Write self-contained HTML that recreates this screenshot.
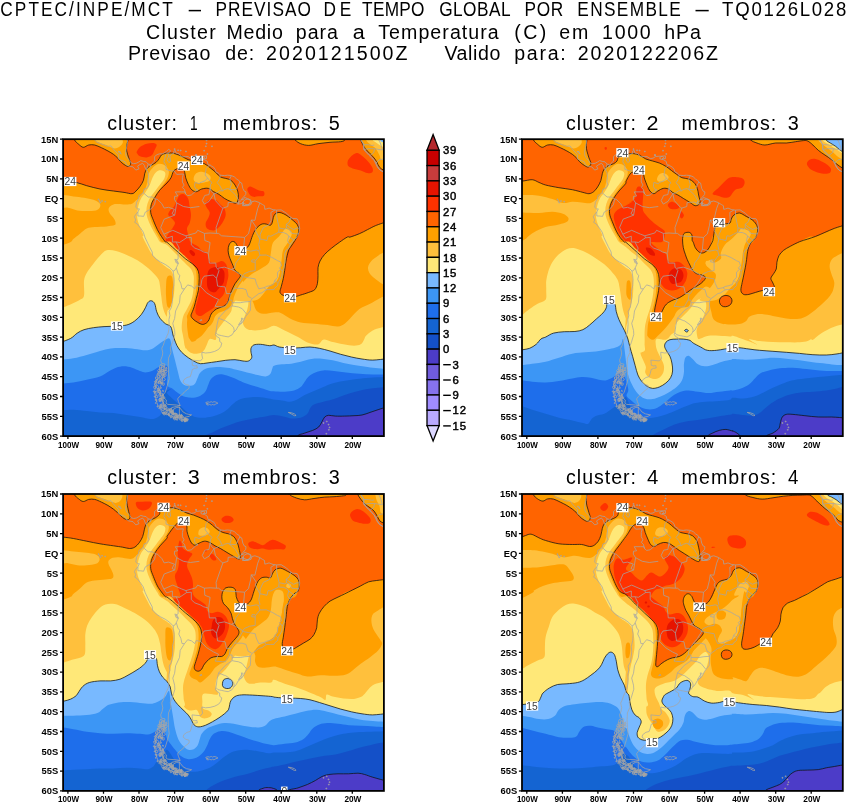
<!DOCTYPE html>
<html><head><meta charset="utf-8"><title>CPTEC ensemble cluster</title>
<style>html,body{margin:0;padding:0;background:#fff}svg{display:block;will-change:transform}text{font-family:"Liberation Sans",sans-serif;fill:#000}.t{font-size:19px}.ax{font-size:9.4px;font-weight:bold}.cb{font-size:11.3px;letter-spacing:0.8px;stroke:#000;stroke-width:0.45px}.cl{font-size:10.3px;fill:#3c3c3c}</style></head><body>
<svg width="847" height="803" viewBox="0 0 847 803">
<rect width="847" height="803" fill="#fff"/>
<text transform="translate(0.32 16.4) scale(0.880 1)" style="font-size:19.6px;letter-spacing:2.35px">CPTEC/INPE/MCT</text>
<path d="M188.7 10.6H201.0" stroke="#000" stroke-width="1.5"/>
<text transform="translate(215.59 16.4) scale(0.880 1)" style="font-size:19.6px;letter-spacing:1.15px">PREVISAO</text>
<text transform="translate(323.59 16.4) scale(0.880 1)" style="font-size:19.6px;letter-spacing:4.20px">DE</text>
<text transform="translate(362.11 16.4) scale(0.880 1)" style="font-size:19.6px;letter-spacing:0.31px">TEMPO</text>
<text transform="translate(439.13 16.4) scale(0.880 1)" style="font-size:19.6px;letter-spacing:0.55px">GLOBAL</text>
<text transform="translate(524.59 16.4) scale(0.880 1)" style="font-size:19.6px;letter-spacing:0.76px">POR</text>
<text transform="translate(577.29 16.4) scale(0.880 1)" style="font-size:19.6px;letter-spacing:1.55px">ENSEMBLE</text>
<path d="M695.5 10.6H708.7" stroke="#000" stroke-width="1.5"/>
<text transform="translate(722.08 16.4) scale(0.950 1)" style="font-size:19.6px;letter-spacing:1.82px">TQ0126L028</text>
<text transform="translate(146.00 38.7) scale(1.000 1)" style="font-size:19.6px;letter-spacing:1.29px">Cluster</text>
<text transform="translate(226.39 38.7) scale(1.000 1)" style="font-size:19.6px;letter-spacing:0.76px">Medio</text>
<text transform="translate(295.74 38.7) scale(1.000 1)" style="font-size:19.6px;letter-spacing:1.01px">para</text>
<text transform="translate(352.78 38.7) scale(1.100 1)" style="font-size:19.6px">a</text>
<text transform="translate(378.26 38.7) scale(1.000 1)" style="font-size:19.6px;letter-spacing:1.05px">Temperatura</text>
<text transform="translate(514.28 38.7) scale(1.000 1)" style="font-size:19.6px;letter-spacing:2.36px">(C)</text>
<text transform="translate(559.17 38.7) scale(1.000 1)" style="font-size:19.6px;letter-spacing:1.90px">em</text>
<text transform="translate(602.01 38.7) scale(1.000 1)" style="font-size:19.6px;letter-spacing:1.72px">1000</text>
<text transform="translate(664.14 38.7) scale(1.000 1)" style="font-size:19.6px;letter-spacing:0.99px">hPa</text>
<text transform="translate(127.89 60.0) scale(1.000 1)" style="font-size:19.6px;letter-spacing:0.88px">Previsao</text>
<text transform="translate(225.18 60.0) scale(1.000 1)" style="font-size:19.6px;letter-spacing:0.93px">de:</text>
<text transform="translate(266.01 60.0) scale(1.000 1)" style="font-size:19.6px;letter-spacing:2.06px">2020121500Z</text>
<text transform="translate(444.41 60.0) scale(1.000 1)" style="font-size:19.6px;letter-spacing:0.59px">Valido</text>
<text transform="translate(514.24 60.0) scale(1.000 1)" style="font-size:19.6px;letter-spacing:1.72px">para:</text>
<text transform="translate(577.71 60.0) scale(1.000 1)" style="font-size:19.6px;letter-spacing:1.94px">2020122206Z</text>
<defs><clipPath id="cp"><rect x="63.1" y="139.2" width="320.8" height="296.9"/></clipPath>
<path id="map" d="M148.2 164.1L150.4 164.5L150.0 167.3L152.2 163.3L154.6 161.0L154.6 156.6L157.1 154.6L159.6 153.8L162.8 153.8L166.4 151.5L168.5 149.3L170.6 150.7L169.6 152.3L167.8 153.1L168.9 155.4L167.1 159.8L168.9 162.6L170.6 161.4L169.9 156.6L171.4 154.2L173.8 153.5L173.8 151.1L175.3 150.3L176.0 153.1L178.8 153.5L180.6 155.8L181.3 157.0L185.2 156.6L188.1 156.6L191.3 158.6L194.1 158.2L196.6 156.6L200.1 156.2L203.3 156.2L200.9 157.4L201.2 159.0L204.8 159.8L207.3 161.4L208.0 164.5L210.8 165.7L213.7 167.3L215.4 169.7L215.8 171.7L219.0 173.6L220.4 175.2L224.3 175.6L227.5 175.2L231.4 175.6L234.3 176.8L236.8 179.2L239.3 180.8L240.0 182.3L241.7 183.1L242.8 188.3L244.2 191.1L246.0 191.9L245.7 194.6L242.8 197.8L241.4 199.4L243.2 199.8L244.6 197.4L247.4 198.6L250.6 199.8L251.3 202.1L249.2 204.5L243.9 205.7L242.8 202.1L242.5 205.7L248.1 205.7L251.0 204.5L252.0 201.7L254.9 201.0L259.2 202.5L262.4 204.5L264.5 205.7L264.8 209.3L266.6 208.9L269.1 208.1L273.0 209.7L276.6 210.1L281.2 209.9L285.1 212.4L286.5 213.2L290.1 216.8L292.6 218.4L297.2 218.8L298.6 221.5L299.3 225.9L299.7 228.3L299.3 231.4L297.9 235.4L295.4 239.0L292.2 241.7L290.1 244.9L288.3 248.9L286.2 250.0L284.8 253.2L284.8 258.0L285.1 261.9L284.0 267.9L282.3 271.4L281.9 276.2L280.1 279.3L278.0 282.9L277.6 285.7L274.4 288.4L274.1 289.6L270.2 289.6L267.0 289.6L264.5 290.8L262.0 292.8L258.8 293.6L256.3 295.6L253.1 297.9L251.0 299.9L250.6 302.7L250.6 306.3L250.3 310.6L248.1 313.4L245.7 316.5L243.2 321.3L240.3 324.5L238.2 326.1L236.1 330.0L233.6 332.4L232.1 334.8L228.2 336.9L224.7 336.3L221.5 335.6L217.9 334.8L216.1 332.8L215.4 334.4L216.5 336.3L219.7 338.3L219.7 341.5L221.8 343.1L220.8 346.6L218.6 349.4L214.7 351.4L210.1 352.6L205.5 353.0L201.9 352.2L201.9 354.9L202.6 358.5L200.5 360.9L195.9 360.5L192.0 360.1L192.3 363.3L192.3 365.2L194.8 366.0L196.9 365.6L197.3 368.0L194.5 368.4L192.3 369.6L191.3 373.6L190.2 376.7L187.0 377.5L183.8 379.9L183.1 382.3L185.9 384.6L189.1 385.4L189.1 388.2L184.5 391.8L182.7 394.1L179.5 396.5L177.7 398.9L178.5 401.7L180.2 405.6L176.7 406.4L171.7 407.6L171.0 411.2L167.4 410.8L162.8 408.4L158.2 406.0L156.8 402.5L155.7 398.5L155.0 394.5L154.6 390.6L156.1 387.0L154.6 383.5L157.1 380.7L159.3 376.7L160.3 372.8L162.8 371.6L164.6 366.8L165.0 364.1L161.4 363.3L160.7 360.1L162.1 356.5L162.8 353.0L161.8 348.2L163.2 345.4L164.6 341.1L166.4 337.1L168.2 333.2L168.9 329.2L169.2 324.5L168.9 319.7L169.9 315.4L169.2 311.4L171.4 307.4L172.4 301.5L172.8 296.8L172.4 291.6L173.8 285.7L174.2 279.7L173.5 273.8L173.1 271.0L169.6 267.5L165.7 264.7L160.3 261.9L156.1 259.1L152.5 255.2L152.2 252.0L149.3 246.5L147.2 242.1L145.0 237.4L143.3 232.2L140.4 227.9L137.2 223.9L134.7 222.3L135.8 220.0L134.4 216.8L135.8 214.4L137.9 212.0L139.4 208.9L137.6 208.9L135.8 207.3L136.5 202.5L137.6 200.2L138.6 198.6L139.0 195.4L140.8 194.6L143.3 192.6L144.0 189.1L146.8 188.3L149.0 184.7L147.9 182.0L148.6 176.4L147.9 172.1L146.5 170.1L148.2 164.1ZM179.5 407.2L180.6 408.8L183.1 412.0L186.6 413.9L191.6 414.9L189.1 416.3L184.1 417.5L179.9 418.3L176.0 417.5L171.0 416.3L167.4 414.3L169.9 412.4L173.1 412.0L173.1 409.6L176.3 407.6L179.5 407.2ZM205.8 402.5L208.0 401.9L209.7 402.3L211.2 401.7L212.6 402.3L214.0 401.7L216.1 402.1L217.9 403.2L215.8 404.0L213.7 405.2L212.6 404.0L211.5 405.2L209.4 404.4L208.0 405.2L206.5 404.4L208.3 403.6L206.2 403.6L205.8 402.5ZM288.3 412.4L291.2 412.7L294.4 413.9L296.1 415.5L294.4 415.7L291.2 413.9L288.3 412.4ZM203.3 156.2L206.5 155.8L206.5 158.6L203.3 158.8L204.8 157.4L203.3 156.2ZM127.6 137.2L127.3 139.6L127.6 142.4L126.6 147.1L125.8 151.1L125.8 155.0L126.9 157.4L129.8 160.6L131.2 163.0L133.7 163.7L136.2 163.3L139.0 161.8L140.8 160.6L143.3 161.4L146.1 161.8L148.2 164.1M146.5 170.1L144.7 166.9L144.3 165.3L142.6 163.3L140.1 164.5L137.6 166.1L139.0 168.9L135.8 170.1L133.0 166.9L128.7 166.1L126.2 164.5L125.8 162.2L122.6 160.6L120.9 160.2L118.7 159.0L118.7 155.0L115.9 151.9L113.0 148.7L112.0 147.1L110.9 145.9L107.7 146.3L104.2 145.1L100.6 143.6L97.1 142.4L95.3 140.8L92.8 137.2M361.9 137.2L361.2 140.4L363.7 144.0L364.0 149.1L367.2 152.7L370.1 155.4L373.6 159.4L376.1 163.0L377.2 165.7L379.3 169.3L382.9 171.7L386.1 174.8M167.8 152.7L165.7 154.6L163.9 161.8L166.0 165.3L166.0 169.3L171.0 170.9L174.2 170.9L176.7 174.4L183.4 174.0L182.4 177.6L182.4 182.0L184.1 185.1L182.4 187.5L184.5 189.5L185.6 193.8M185.6 193.8L184.9 191.9L181.7 191.9L175.3 191.9L177.7 196.0L174.6 196.4L174.4 199.4L176.7 202.9L174.7 215.2M174.7 215.2L172.1 213.6L174.4 209.3L168.5 207.3L164.2 208.1L161.8 203.7L157.5 199.4L155.7 199.0L152.2 197.0L148.2 197.0L143.3 192.8M155.7 199.0L154.6 204.5L151.1 208.9L145.4 212.0L143.6 216.4L140.4 216.0L137.9 216.0L137.9 212.0M174.7 215.2L164.2 219.2L160.7 227.5L163.9 234.2L166.7 238.2L172.4 236.2L172.4 242.1L176.0 241.9M176.0 241.9L179.2 248.1L178.1 252.4L178.1 259.1L176.0 260.3L178.1 263.9L176.3 267.9L174.9 270.2L173.1 271.2M176.0 241.9L179.5 242.5L186.6 237.8L191.3 237.4L191.3 244.9L194.8 248.1L200.1 250.0L203.7 252.0L208.3 253.2L209.4 263.1L215.8 263.1L216.1 267.1L219.0 270.6L216.9 277.0L216.5 278.3M216.5 278.3L213.3 275.0L204.1 276.2L201.9 279.7L200.7 286.7L196.2 285.7L194.8 288.8L191.6 286.1L187.7 284.9L184.5 288.8L182.0 288.8L180.9 283.7L178.8 279.3L179.9 275.4L178.1 273.8L176.3 267.9M216.5 278.3L217.6 286.1L225.0 286.9L226.5 293.6L230.4 293.6L229.3 299.9M200.7 286.7L206.5 292.8L213.7 297.2L218.6 299.5L215.1 306.3L222.9 307.0L225.4 306.7L229.3 299.9M229.3 299.9L232.1 300.3L232.1 305.9L225.4 310.6L218.6 318.1M218.6 318.1L224.3 320.5L225.7 320.9L231.4 324.9L233.6 327.6L234.3 330.4L233.6 332.2M218.6 318.1L216.9 325.3L216.5 329.2L215.8 332.8M184.5 288.8L180.2 295.6L179.5 302.7L175.6 311.0L174.6 318.5L172.8 323.3L174.6 330.4L174.9 334.4L172.4 342.7L170.3 347.8L171.0 352.6L168.5 358.1L168.2 365.2L168.5 372.8L169.2 378.7L167.4 385.4L165.3 392.2L162.1 396.1L166.4 400.1L166.0 403.2L167.8 404.4L176.3 405.0L180.2 405.6M179.4 407.0L179.4 415.9M210.1 164.5L206.2 168.5L205.1 175.0L207.6 178.0L209.7 180.8L210.8 181.2L211.9 182.9L210.6 184.3L210.1 187.9L211.3 191.5L214.0 193.8L217.2 192.6L219.7 190.7L222.5 190.9L224.3 189.5L227.9 188.5L229.7 189.5L232.1 189.5L235.2 189.9L236.6 188.7L239.8 182.2M207.6 178.0L205.1 180.8L200.1 182.7L199.4 183.9L195.0 182.3L194.5 186.3L195.7 188.9L198.0 189.9L195.9 190.9L191.3 195.0L187.7 195.6L185.6 193.8M220.2 175.0L219.7 178.8L217.2 182.7L219.7 185.5L222.5 190.9M231.4 175.8L229.8 178.8L231.4 184.3L229.7 189.5M176.7 202.9L183.4 206.5L190.5 207.7L199.4 206.5M210.1 187.9L209.0 194.6L204.8 195.4L202.3 200.6L204.4 204.1L209.0 201.4L214.0 193.8M214.0 193.8L215.4 200.6L221.5 207.3L222.9 208.1L216.1 227.5L216.5 233.4M163.9 234.2L172.8 230.3L181.7 234.2L185.9 235.8L186.6 237.8M185.9 235.8L195.9 233.0L197.7 230.3L204.4 233.4L210.1 233.0L216.5 233.4L218.6 233.4L221.5 235.8L244.6 237.4M204.4 233.4L204.8 240.5L210.1 242.5L208.7 252.8M222.9 208.1L227.9 206.5L228.2 202.5L235.0 202.1L238.5 203.3L238.9 200.6L235.3 194.6L229.7 189.5M244.6 237.4L248.5 233.8L250.6 225.1L251.3 220.0L254.9 220.4L257.7 208.5L259.9 202.9M251.3 220.0L256.3 227.5L255.2 230.3L259.9 239.0L258.8 244.5L259.9 249.6L258.8 250.8M244.6 237.4L243.5 249.3L244.9 249.6L250.6 251.2L256.3 250.0L258.8 250.8M259.9 239.0L262.4 239.4L267.0 240.5L268.0 235.8L270.9 236.2L274.8 234.2L278.7 232.2L279.1 227.9L276.6 216.4L276.6 210.1M259.9 239.0L260.2 234.2L263.4 227.5L268.8 225.1L271.2 220.4L270.9 212.4L274.8 210.1M279.1 227.9L284.8 229.1L286.5 227.9L286.2 224.3L289.0 222.3L291.0 217.6M286.2 224.3L290.1 227.5L293.6 229.5L297.2 227.9L299.5 228.3M286.5 227.9L289.0 229.1L291.9 233.4L295.4 233.8L298.4 233.8M278.7 232.2L283.7 232.6L287.2 234.2L288.7 236.2L294.0 240.1M288.7 236.2L287.6 240.9L289.0 243.7L290.6 243.9M258.8 250.8L259.9 255.2L266.3 255.0L272.3 257.6L277.6 260.7L280.5 261.9L281.6 265.9L279.4 267.9L282.4 271.2M280.5 269.4L277.6 272.2L277.6 277.4L274.8 280.5L277.6 282.7M274.8 280.5L273.4 284.5L269.8 285.7L266.3 286.5L264.1 287.7L266.3 289.6M264.1 287.7L258.8 288.8L256.3 283.3L255.2 278.9L248.5 277.8L242.5 276.6L242.1 277.8M259.9 255.2L255.2 261.1L255.2 262.3L251.7 261.9L252.0 259.9L255.2 259.9M255.2 262.3L255.2 270.6L249.6 271.4L244.2 273.8L242.5 276.6M243.5 249.3L239.6 258.0L235.7 263.1L234.6 268.3L232.5 268.6L232.1 269.8L235.3 271.4L242.1 275.4L242.5 276.6M232.1 269.8L227.9 268.3L224.3 267.1L217.9 268.3M242.1 277.8L238.5 283.7L234.6 288.4L231.4 293.6L230.4 293.6M234.6 288.4L242.1 288.4L246.0 289.6L248.1 296.4L251.7 298.3M232.1 302.7L240.3 302.7L244.9 301.9L250.6 301.5M232.1 305.9L238.5 307.0L242.1 308.6L246.7 314.2M177.0 260.3L174.9 259.1L176.0 262.7L178.5 263.5L177.0 260.3M241.4 318.1L242.1 322.5L238.5 324.9L241.0 320.9L243.2 318.5L241.4 318.1M201.2 319.3L199.8 320.9L201.9 320.5L201.2 319.3M206.1 140.0h0.9v0.8h-0.9zM206.1 143.2h0.9v0.8h-0.9zM205.4 145.9h0.9v0.8h-0.9zM203.7 150.3h0.9v0.8h-0.9zM211.5 145.9h0.9v0.8h-0.9zM206.9 153.6h0.9v0.8h-0.9zM174.2 148.7h0.9v0.8h-0.9zM177.7 149.9h0.9v0.8h-0.9zM180.2 150.1h0.9v0.8h-0.9zM185.5 151.1h0.9v0.8h-0.9zM195.5 154.6h0.9v0.8h-0.9zM195.8 154.8h0.9v0.8h-0.9zM99.1 200.6h0.9v0.8h-0.9zM101.6 200.6h0.9v0.8h-0.9zM98.1 199.0h0.9v0.8h-0.9zM104.8 201.3h0.9v0.8h-0.9zM99.9 202.1h0.9v0.8h-0.9zM329.1 427.0h0.9v0.8h-0.9zM328.1 424.2h0.9v0.8h-0.9zM326.3 421.1h0.9v0.8h-0.9zM328.4 429.4h0.9v0.8h-0.9zM325.9 433.3h0.9v0.8h-0.9zM323.1 422.6h0.9v0.8h-0.9zM362.6 139.6L361.2 140.4L363.0 143.2L363.7 145.9L363.7 149.5L365.8 151.9L368.7 155.0L371.5 157.8L374.3 160.6L376.1 164.5L377.5 167.3L380.0 170.1L382.9 171.7L385.7 174.0M363.7 144.7L368.3 144.7L371.9 145.5L374.3 145.1M364.0 149.5L368.3 148.7L374.7 148.7L379.0 149.5L382.5 149.9M370.1 155.4L373.6 152.7L374.7 148.7M376.1 163.0L379.0 159.8L383.6 159.0L385.4 161.8L386.8 165.3L382.9 171.3M364.7 137.2L368.3 139.6L373.6 138.0L379.0 140.0L380.7 144.0L382.5 149.9M242.5 199.0L240.3 201.0L237.5 204.1L241.4 203.7L242.8 202.1M246.0 199.4L243.5 201.0L243.2 203.3L247.1 204.9L249.9 203.7L250.6 200.6L248.1 199.0L246.0 199.4M118.0 151.5L121.2 154.2L120.2 151.5L118.0 151.5M161.4 364.1L163.9 367.2L164.2 372.8L162.5 377.9L161.8 383.1L159.6 388.6L160.3 394.5L161.8 399.7L163.9 404.4L167.4 407.6L170.3 410.8M160.7 364.3L162.1 366.0L161.4 370.0L159.3 370.0L159.6 366.4L160.7 364.3M166.4 367.0L167.0 369.2L165.1 368.4ZM164.6 366.6L163.9 367.4L163.7 366.5ZM164.6 369.8L166.2 369.7L165.7 371.0ZM161.9 369.5L163.4 369.7L163.4 371.3L162.2 371.6L161.1 370.7ZM161.3 372.1L160.1 371.6L160.9 370.4ZM161.4 372.3L160.5 370.4L162.8 369.8L163.8 371.5ZM163.8 372.7L163.3 371.4L163.7 370.5L164.7 370.3L164.8 371.8ZM161.3 367.6L161.2 366.9L161.9 366.5L162.4 367.3L161.8 367.7ZM163.7 366.4L163.3 365.9L163.8 365.3L164.3 366.0ZM164.7 372.5L164.7 370.8L166.6 370.0L167.1 371.5L166.3 373.2ZM161.6 367.6L160.9 369.3L159.5 368.0ZM158.7 371.7L157.7 370.4L158.7 369.4L159.7 369.7L159.7 371.3ZM160.1 370.9L161.0 371.8L159.8 372.4ZM164.0 374.6L164.5 376.9L162.9 377.2L162.5 375.9ZM160.6 373.2L162.2 374.7L160.1 376.2L158.6 375.5L157.9 373.4ZM159.2 371.3L159.4 372.7L157.6 372.0ZM161.8 379.4L163.2 377.1L164.5 377.7L165.4 379.9L163.7 381.0ZM158.1 375.8L157.2 376.5L156.8 375.6L157.3 374.8ZM164.1 374.7L162.6 373.9L164.2 372.7L165.7 374.0ZM160.7 379.4L160.1 381.2L158.9 380.0ZM165.3 373.6L166.2 374.9L165.8 376.3L164.0 376.1L163.5 374.4ZM159.3 378.2L160.0 376.6L161.9 377.4L160.7 379.1ZM156.3 380.1L156.6 379.1L157.3 379.8ZM157.5 379.5L155.6 379.2L155.6 377.0L157.8 377.0ZM161.2 374.8L161.6 373.6L163.1 373.8L162.6 375.5ZM158.0 374.1L157.7 375.0L157.1 374.3L157.5 373.4ZM160.7 387.5L161.5 387.5L161.2 388.5L160.6 388.7L160.4 387.9ZM157.2 381.0L156.2 381.7L154.9 381.1L156.1 380.2ZM155.0 382.8L154.2 381.7L155.6 381.1L156.9 382.2ZM158.5 380.9L161.3 382.4L158.4 383.8ZM161.2 383.4L161.4 382.7L162.5 382.7L162.0 383.5ZM153.6 386.7L155.5 386.3L155.6 387.9L154.2 388.7ZM162.8 385.4L162.1 383.2L164.2 382.9L164.2 385.1ZM160.1 382.2L159.8 381.3L160.7 381.7ZM158.7 388.5L157.1 388.7L155.8 386.6L157.6 385.3L158.6 386.7ZM156.6 385.4L154.7 385.8L154.5 384.1L156.2 383.2ZM161.4 382.2L162.4 383.6L160.2 383.7ZM161.7 383.3L159.7 382.0L161.3 380.7L162.4 381.7ZM157.9 381.8L159.0 381.5L158.8 382.9L157.7 383.2ZM158.4 392.6L157.6 390.9L159.3 389.3L160.7 391.8ZM154.8 397.2L154.0 396.7L154.7 395.9ZM160.4 395.9L159.7 393.6L161.9 393.0L162.8 394.4L161.8 395.8ZM159.0 390.2L161.0 391.3L160.0 393.4L158.0 392.0ZM162.6 390.3L163.4 390.6L163.5 391.5L162.5 391.2ZM159.5 393.1L161.2 394.7L160.0 396.4L158.7 395.5ZM158.6 391.1L157.8 390.0L158.7 388.9L159.3 390.0ZM157.0 390.2L157.9 388.1L159.5 389.3L158.8 390.9ZM155.4 391.4L156.1 392.5L154.8 392.4ZM154.5 391.8L153.4 392.0L153.3 391.1L154.3 391.1ZM157.3 392.6L156.5 394.5L154.2 393.3L155.0 391.9L156.4 390.9ZM158.0 397.1L156.4 398.1L155.7 396.8L155.8 395.3L157.6 395.8ZM162.2 395.5L162.3 394.3L163.3 394.1L163.3 395.7ZM162.1 399.1L163.0 399.0L162.9 399.9L162.0 400.6L161.7 399.5ZM161.4 399.2L160.3 400.5L159.2 399.1L160.3 397.8ZM155.1 399.6L156.0 399.6L156.4 400.1L155.8 400.4L155.1 400.3ZM163.1 399.6L164.2 401.0L163.5 402.3L162.6 401.2ZM161.3 399.7L160.3 400.2L160.1 398.6L161.3 398.4ZM156.8 400.6L156.2 400.5L156.1 399.7L156.8 399.4L157.2 400.0ZM157.0 400.6L157.5 401.1L157.0 401.6L156.3 401.2ZM165.2 397.7L162.8 399.0L163.6 396.4ZM162.1 400.1L159.7 401.2L158.5 399.9L159.9 397.9ZM160.0 401.8L158.9 401.2L160.0 399.9L161.4 401.2ZM163.2 397.4L161.8 397.0L161.8 395.8L163.0 395.0L163.8 396.2ZM161.7 398.7L160.7 398.4L161.3 397.5L162.4 397.5L162.3 398.4ZM156.0 402.6L156.2 403.4L155.6 403.4L155.0 403.1L155.5 402.6ZM166.4 406.1L164.4 405.6L165.4 404.2ZM161.8 404.8L162.2 406.5L160.8 406.7L159.9 405.4ZM159.5 407.0L161.3 406.9L160.8 408.6L158.7 408.5ZM163.5 405.6L165.2 405.8L164.6 407.0L163.5 407.1ZM159.4 407.1L160.5 406.9L160.2 408.0ZM164.2 404.6L161.7 404.0L163.4 402.1ZM165.1 409.6L164.4 409.9L163.8 409.3L164.3 408.9L165.0 408.9ZM158.0 407.1L157.0 406.8L157.1 405.9L157.9 405.8ZM160.0 404.4L161.5 404.5L161.3 405.9L160.0 406.2ZM163.9 405.3L163.9 406.6L163.1 407.9L161.8 406.9L162.5 405.6ZM167.0 408.6L164.2 408.8L165.3 406.2ZM160.9 410.5L160.3 409.6L160.9 408.7L161.7 409.2L161.7 410.0ZM164.7 409.6L163.9 409.1L164.0 408.4L164.9 407.9L165.6 408.8ZM171.5 409.9L170.7 411.7L169.5 410.4L170.1 408.8ZM166.3 410.9L166.5 409.4L167.4 409.2L167.6 410.8ZM168.8 412.9L170.1 413.8L169.1 415.2L168.1 414.1ZM169.8 409.5L169.4 408.8L170.1 408.5L170.6 409.1ZM164.2 412.7L162.4 412.9L161.7 411.7L162.3 410.3L163.9 410.7ZM164.8 415.0L163.6 414.8L163.8 412.5L165.2 413.4ZM169.7 409.3L170.2 410.2L169.7 411.4L168.3 410.5L168.4 409.3ZM166.4 412.9L165.6 414.4L164.1 413.0L165.5 412.3ZM166.2 415.0L165.9 412.8L167.0 411.4L168.4 413.5ZM162.7 413.9L162.2 412.8L162.9 412.0L163.7 412.6L163.6 413.7ZM165.8 411.5L166.8 413.0L165.3 413.6L164.2 412.5ZM168.2 414.1L169.0 414.5L168.6 415.1L167.7 414.9ZM172.1 411.0L170.8 412.3L169.1 410.2L170.6 408.6L172.3 409.7ZM168.9 416.2L168.3 415.3L169.7 414.7L170.0 416.0ZM174.5 413.7L173.2 414.5L171.6 414.3L171.8 412.4L173.6 412.3ZM174.8 413.8L172.4 414.7L172.6 412.6ZM176.1 413.3L176.4 415.5L174.4 416.1L173.0 413.9ZM171.3 412.2L171.3 412.9L170.6 413.2L170.1 412.6L170.4 412.0ZM175.6 414.9L175.6 412.9L177.8 414.3ZM170.5 417.9L170.2 416.1L172.0 415.2L172.4 417.3ZM175.3 418.5L173.2 418.5L174.2 416.2L175.4 417.1ZM174.4 420.1L173.4 418.5L173.9 417.4L175.9 417.2L175.6 419.0ZM173.5 411.2L173.2 412.0L172.1 411.8L172.1 410.6L173.3 410.3ZM173.3 413.8L174.0 412.9L174.5 414.1ZM175.4 414.0L174.3 415.2L172.9 414.3L173.6 412.9L174.6 413.2ZM171.0 412.2L172.1 410.7L173.4 412.5L171.8 413.8ZM176.4 420.1L176.5 419.3L177.5 419.4L177.6 420.2ZM177.3 416.3L178.8 415.2L179.9 417.8L177.2 418.1ZM175.0 419.4L175.5 418.8L176.3 419.2L175.8 419.9ZM176.7 417.8L176.6 417.2L177.2 416.9L177.6 417.1L177.5 417.8ZM176.8 415.8L178.7 417.0L176.7 418.2ZM180.1 415.4L182.1 416.2L180.1 418.1ZM178.2 416.0L177.8 417.9L175.2 417.6L175.6 415.1ZM181.0 414.9L182.3 417.2L180.1 417.2ZM179.0 414.3L180.4 414.7L179.5 416.0L178.0 415.4ZM177.7 418.0L176.7 416.8L178.1 415.7ZM182.3 416.4L180.8 417.5L180.0 415.9L181.3 414.7ZM177.3 415.4L177.4 417.4L176.0 416.6ZM181.7 420.2L179.1 419.6L180.3 417.9L182.6 418.7ZM185.3 419.0L184.3 418.3L185.5 417.8ZM185.5 420.6L183.5 419.0L185.9 418.7ZM186.7 419.5L187.2 421.5L185.3 420.9L185.4 419.3ZM185.5 419.4L185.6 421.3L184.1 420.5ZM183.7 420.8L184.7 419.6L185.9 420.5L185.0 422.2ZM182.3 421.3L181.6 420.9L182.2 420.4ZM185.6 421.2L184.8 418.1L188.2 419.4ZM180.8 417.5L181.5 414.3L183.6 416.8ZM188.0 420.5L186.2 420.4L186.5 418.9L188.2 418.8ZM185.5 418.4L187.1 418.8L185.9 419.6ZM181.2 421.1L181.1 419.0L183.0 419.6L183.0 421.0ZM184.6 422.1L183.3 419.2L187.1 419.4ZM183.6 419.6L185.7 418.9L185.1 420.8Z" fill="none" stroke="#a6a6a6" stroke-width="0.75" stroke-linejoin="round"/></defs>
<g transform="translate(0.0 0.0)">
<text transform="translate(107.17 129.6) scale(1.000 1)" style="font-size:19.6px;letter-spacing:0.96px">cluster:</text>
<text transform="translate(189.95 129.6) scale(0.700 1)" style="font-size:19.6px">1</text>
<text transform="translate(222.70 129.6) scale(1.000 1)" style="font-size:19.6px;letter-spacing:1.07px">membros:</text>
<text transform="translate(328.81 129.6) scale(1.012 1)" style="font-size:19.6px">5</text>
<g clip-path="url(#cp)">
<rect x="55" y="130" width="340" height="320" fill="#FFE878"/>
<path d="M55.0 130.0 C111.2 100.3 335.8 97.2 392.0 130.0 C448.2 162.8 392.8 293.9 392.0 326.6 C391.2 359.4 389.3 326.5 387.4 326.6 C385.5 326.8 383.2 327.1 380.7 327.7 C378.3 328.3 375.2 329.0 372.7 330.4 C370.3 331.7 367.5 334.2 366.0 335.7 C364.6 337.3 364.9 338.2 364.0 339.7 C363.2 341.1 362.4 343.3 360.7 344.3 C359.0 345.3 356.9 345.7 354.0 345.7 C351.2 345.7 347.2 345.0 343.4 344.3 C339.6 343.7 334.7 342.4 331.4 341.7 C328.0 340.9 325.6 339.2 323.4 339.7 C321.1 340.1 320.7 343.9 318.0 344.4 C315.4 344.8 310.7 343.6 307.4 342.4 C304.0 341.2 301.8 339.1 298.0 337.1 C294.2 335.1 288.7 332.3 284.7 330.4 C280.7 328.5 277.2 325.9 274.0 325.7 C270.8 325.5 268.9 328.3 265.7 329.0 C262.6 329.8 258.2 330.4 255.0 330.4 C251.9 330.4 249.0 330.2 247.0 329.0 C245.0 327.9 243.5 325.7 243.0 323.7 C242.6 321.7 243.7 319.3 244.4 317.0 C245.0 314.8 246.4 312.8 247.0 310.4 C247.7 307.9 248.4 304.8 248.4 302.4 C248.4 299.9 247.9 296.9 247.0 295.7 C246.2 294.5 244.4 294.8 243.0 295.0 C241.7 295.3 240.4 296.0 239.0 297.0 C237.7 298.0 236.1 299.5 235.0 301.0 C233.9 302.6 233.0 304.6 232.4 306.4 C231.7 308.1 231.9 309.9 231.0 311.7 C230.1 313.5 228.4 315.3 227.0 317.0 C225.7 318.8 224.4 320.6 223.0 322.4 C221.7 324.2 220.1 325.9 219.0 327.7 C217.9 329.5 216.9 331.1 216.4 333.1 C215.8 335.1 216.8 338.7 215.7 339.7 C214.6 340.7 211.1 338.2 209.7 339.0 C208.2 339.8 207.9 342.6 207.0 344.3 C206.1 346.1 205.5 348.2 204.4 349.7 C203.2 351.1 202.1 352.3 200.4 353.0 C198.6 353.7 195.7 354.0 193.7 353.7 C191.7 353.3 189.8 352.3 188.3 351.0 C186.9 349.7 185.7 347.7 185.0 345.7 C184.3 343.7 185.8 341.8 184.3 339.0 C182.9 336.2 178.8 332.3 176.3 329.0 C173.8 325.8 171.2 322.2 169.4 319.7 C167.6 317.3 166.5 316.6 165.4 314.4 C164.3 312.2 163.4 309.3 162.7 306.4 C162.1 303.5 161.8 300.4 161.4 297.0 C160.9 293.7 160.5 289.3 160.1 286.4 C159.6 283.5 159.6 281.7 158.7 279.7 C157.8 277.7 156.7 276.5 154.7 274.4 C152.7 272.2 149.6 269.4 146.7 267.0 C143.8 264.7 140.7 262.3 137.4 260.3 C134.0 258.3 130.3 256.6 126.7 255.0 C123.1 253.5 119.4 251.8 116.0 251.0 C112.7 250.2 109.4 249.6 106.7 250.3 C104.0 251.1 102.2 253.5 100.0 255.7 C97.8 257.9 95.6 260.8 93.4 263.7 C91.1 266.6 88.2 270.1 86.7 273.0 C85.1 275.9 84.5 277.2 84.0 281.0 C83.6 284.8 84.7 292.6 84.0 295.7 C83.3 298.8 82.0 298.4 80.0 299.7 C78.0 301.0 74.7 302.5 72.0 303.7 C69.3 304.9 66.0 306.3 64.0 307.0 C62.0 307.8 61.5 308.1 60.0 308.4 C58.5 308.6 55.8 338.1 55.0 308.4 C54.2 278.6 -1.2 159.7 55.0 130.0 Z" fill="#FFC03C"/>
<path d="M55.0 130.0 C111.2 110.7 335.8 102.5 392.0 130.0 C448.2 157.5 392.8 267.5 392.0 295.0 C391.2 322.5 389.5 294.5 387.4 295.0 C385.3 295.6 382.3 296.9 379.4 298.4 C376.5 299.8 373.4 301.9 370.1 303.7 C366.7 305.5 362.5 306.8 359.4 309.0 C356.3 311.3 353.8 314.6 351.4 317.0 C348.9 319.5 346.9 322.2 344.7 323.7 C342.5 325.3 340.9 326.2 338.0 326.4 C335.1 326.6 331.4 325.5 327.4 325.0 C323.4 324.6 318.5 324.2 314.0 323.7 C309.6 323.3 304.7 323.3 300.7 322.4 C296.7 321.5 293.3 319.9 290.0 318.4 C286.7 316.8 283.4 314.0 280.7 313.0 C278.0 312.0 276.7 312.3 273.7 312.4 C270.8 312.5 265.9 314.0 263.1 313.7 C260.2 313.4 257.9 312.0 256.4 310.4 C254.8 308.7 254.4 305.3 253.7 303.7 C253.0 302.1 253.5 302.8 252.4 301.0 C251.3 299.3 248.5 296.1 247.0 293.0 C245.6 289.9 244.9 284.8 243.7 282.4 C242.5 279.9 241.4 277.5 239.7 278.4 C238.0 279.2 236.0 283.9 233.7 287.7 C231.4 291.5 228.4 297.0 225.7 301.0 C223.0 305.0 220.1 308.1 217.7 311.7 C215.2 315.3 212.8 319.5 211.0 322.4 C209.2 325.3 208.6 326.8 207.0 329.0 C205.5 331.3 203.4 334.1 201.7 335.7 C200.0 337.4 198.1 338.1 197.0 339.0 C195.9 339.9 195.9 340.6 195.0 341.0 C194.1 341.4 192.6 342.0 191.7 341.7 C190.8 341.3 190.2 340.0 189.7 339.0 C189.1 338.0 188.8 338.5 188.3 335.7 C187.9 332.9 186.8 326.8 187.0 322.4 C187.2 317.9 188.6 313.9 189.7 309.0 C190.8 304.1 193.0 298.4 193.7 293.0 C194.3 287.7 194.8 281.9 193.7 277.0 C192.6 272.1 190.1 268.1 187.0 263.7 C183.9 259.2 179.3 254.0 175.0 250.3 C170.7 246.7 165.0 245.4 161.4 241.7 C157.8 238.1 155.6 233.7 153.4 228.4 C151.2 223.0 150.3 214.6 148.0 209.7 C145.8 204.8 142.7 200.0 140.0 199.0 C137.4 198.0 134.7 202.8 132.0 203.7 C129.4 204.6 127.1 204.3 124.0 204.4 C120.9 204.5 115.9 203.7 113.4 204.4 C110.8 205.0 109.2 206.8 108.7 208.4 C108.1 209.9 109.2 212.2 110.0 213.7 C110.8 215.3 112.5 216.4 113.4 217.7 C114.3 219.0 115.1 220.5 115.4 221.7 C115.6 222.9 116.1 224.3 114.7 225.0 C113.3 225.8 110.0 226.0 106.7 226.4 C103.4 226.7 98.0 226.7 94.7 227.0 C91.4 227.4 89.1 227.3 86.7 228.4 C84.2 229.5 82.2 231.9 80.0 233.7 C77.8 235.5 74.9 237.7 73.3 239.1 C71.8 240.4 72.9 240.9 70.7 242.0 C68.4 243.1 62.6 245.1 60.0 245.7 C57.4 246.3 55.8 265.0 55.0 245.7 C54.2 226.4 -1.2 149.3 55.0 130.0 Z" fill="#FFA000"/>
<path d="M60.0 195.7 C62.2 193.9 69.3 196.0 73.3 196.4 C77.3 196.7 80.7 197.1 84.0 197.7 C87.3 198.3 90.8 198.8 93.4 199.7 C95.9 200.6 98.2 201.8 99.4 203.0 C100.5 204.3 100.6 205.8 100.0 207.0 C99.5 208.3 98.2 209.7 96.0 210.4 C93.8 211.0 89.8 211.0 86.7 211.0 C83.6 211.0 80.5 210.9 77.3 210.4 C74.2 209.8 70.9 208.3 68.0 207.7 C65.1 207.1 61.3 209.0 60.0 207.0 C58.7 205.0 57.8 197.5 60.0 195.7 Z" fill="#FFC03C"/>
<path d="M388.7 250.3 C387.9 244.7 385.8 251.5 384.1 252.3 C382.3 253.2 380.2 254.2 378.1 255.7 C375.9 257.1 373.1 259.1 371.4 261.0 C369.7 262.9 368.4 265.0 368.1 267.0 C367.7 269.0 368.2 271.0 369.4 273.0 C370.6 275.0 372.9 277.0 375.4 279.0 C377.8 281.0 381.8 283.8 384.1 285.0 C386.3 286.2 387.9 292.1 388.7 286.4 C389.5 280.6 389.5 256.0 388.7 250.3 Z" fill="#FFC03C"/>
<path d="M285.8 228.8 C287.3 228.9 291.3 230.8 291.8 232.8 C292.3 234.8 290.0 238.1 288.8 240.7 C287.7 243.4 285.7 245.7 284.8 248.7 C284.0 251.7 284.5 255.0 283.8 258.7 C283.2 262.4 282.0 267.0 280.8 270.7 C279.7 274.3 278.8 278.0 276.9 280.7 C274.9 283.3 271.2 284.3 268.9 286.6 C266.5 289.0 265.2 292.3 262.9 294.6 C260.6 296.9 259.6 299.6 254.9 300.6 C250.2 301.6 237.9 301.6 235.0 300.6 C232.0 299.6 235.6 297.6 236.9 294.6 C238.3 291.6 240.6 286.0 242.9 282.6 C245.3 279.3 247.9 277.0 250.9 274.7 C253.9 272.3 257.9 270.7 260.9 268.7 C263.9 266.7 267.2 265.4 268.9 262.7 C270.5 260.0 270.2 256.0 270.9 252.7 C271.5 249.4 271.5 245.4 272.9 242.7 C274.2 240.1 277.2 238.6 278.8 236.8 C280.5 234.9 281.7 233.1 282.8 231.8 C284.0 230.4 284.3 228.6 285.8 228.8 Z" fill="#FFC03C"/>
<path d="M55.0 130.0 C111.2 121.6 335.8 114.8 392.0 130.0 C448.2 145.2 392.8 206.2 392.0 221.4 C391.2 236.7 390.2 220.7 387.4 221.4 C384.6 222.2 378.7 224.3 375.4 225.7 C372.1 227.1 370.1 228.4 367.4 229.7 C364.7 231.1 362.3 232.5 359.4 233.7 C356.5 234.9 352.0 236.5 350.0 237.1 C348.0 237.6 349.2 236.1 347.4 237.0 C345.6 237.9 342.0 240.4 339.4 242.3 C336.7 244.2 333.8 246.3 331.4 248.3 C328.9 250.3 326.6 252.2 324.7 254.3 C322.8 256.5 321.1 258.8 320.0 261.0 C318.9 263.2 318.4 265.2 318.0 267.7 C317.7 270.1 318.1 273.0 318.0 275.7 C317.9 278.4 317.9 281.4 317.4 283.7 C316.8 286.0 316.1 288.2 314.7 289.7 C313.2 291.1 311.0 291.5 308.7 292.4 C306.4 293.3 302.8 294.4 300.7 295.0 C298.6 295.7 297.8 296.1 296.0 296.4 C294.2 296.6 292.0 296.7 290.0 296.6 C288.0 296.5 285.7 296.4 284.0 295.7 C282.3 295.0 280.4 293.9 280.0 292.4 C279.6 290.8 280.8 288.7 281.3 286.4 C281.9 284.0 282.8 281.0 283.3 278.4 C283.9 275.7 284.2 273.2 284.7 270.4 C285.1 267.5 285.6 264.1 286.0 261.0 C286.5 257.9 286.5 254.2 287.3 251.7 C288.2 249.2 290.0 247.9 291.3 246.0 C292.6 244.1 294.0 242.2 295.1 240.3 C296.2 238.4 297.3 236.6 297.9 234.7 C298.5 232.8 299.0 230.7 298.9 229.0 C298.7 227.2 297.9 225.7 297.0 224.2 C296.0 222.8 294.6 221.7 293.2 220.5 C291.8 219.2 290.0 217.8 288.4 216.7 C286.9 215.6 285.3 214.5 283.7 213.8 C282.1 213.1 280.4 212.4 279.0 212.4 C277.6 212.4 276.1 213.0 275.2 213.8 C274.2 214.7 273.8 216.2 273.3 217.6 C272.8 219.0 272.8 221.1 272.3 222.3 C271.9 223.6 271.4 224.9 270.5 225.2 C269.5 225.5 267.9 224.5 266.7 224.2 C265.4 224.0 264.1 223.5 262.9 223.8 C261.6 224.0 260.4 224.6 259.1 225.7 C257.8 226.7 256.4 228.3 255.3 229.9 C254.2 231.6 253.4 233.4 252.5 235.6 C251.5 237.8 250.5 241.2 249.6 243.2 C248.7 245.2 248.1 246.7 247.0 247.7 C245.9 248.6 244.5 249.1 243.0 249.0 C241.6 248.9 239.7 248.1 238.4 247.0 C237.0 245.9 236.1 243.2 235.0 242.3 C233.9 241.4 232.7 241.2 231.7 241.7 C230.7 242.1 229.6 243.6 229.0 245.0 C228.4 246.4 228.1 248.6 228.1 250.3 C228.1 252.1 228.5 253.9 229.0 255.7 C229.5 257.5 230.4 259.3 231.0 261.0 C231.7 262.7 232.4 264.1 233.0 265.7 C233.7 267.2 234.1 269.1 235.0 270.4 C235.9 271.6 237.5 272.1 238.4 273.0 C239.3 273.9 240.3 274.8 240.4 275.7 C240.5 276.6 239.9 277.0 239.0 278.4 C238.1 279.7 236.3 281.7 235.0 283.7 C233.8 285.7 232.6 288.4 231.7 290.4 C230.8 292.4 230.3 293.9 229.7 295.7 C229.1 297.5 229.0 299.5 228.4 301.0 C227.7 302.6 226.8 304.0 225.7 305.0 C224.6 306.0 223.3 306.4 221.7 307.0 C220.1 307.7 217.9 308.1 216.4 309.0 C214.8 309.9 213.4 311.3 212.4 312.4 C211.4 313.5 210.9 314.5 210.4 315.7 C209.8 316.9 209.7 318.5 209.0 319.7 C208.4 320.9 207.5 322.3 206.4 323.0 C205.2 323.8 203.8 324.5 202.4 324.4 C200.9 324.3 199.2 323.3 197.7 322.4 C196.1 321.5 194.1 320.2 193.0 319.0 C191.9 317.9 191.1 316.9 191.0 315.7 C190.9 314.5 191.8 313.3 192.3 311.7 C192.9 310.2 193.7 308.6 194.3 306.4 C195.0 304.1 195.7 301.0 196.3 298.4 C197.0 295.7 197.9 293.0 198.4 290.4 C198.8 287.7 198.9 285.0 199.0 282.4 C199.1 279.7 199.4 276.7 199.0 274.4 C198.7 272.0 198.1 270.1 197.0 268.4 C195.9 266.6 194.2 265.2 192.3 263.7 C190.5 262.1 187.9 260.8 185.7 259.0 C183.5 257.2 181.2 255.0 179.0 253.0 C176.8 251.0 174.3 248.8 172.3 247.0 C170.3 245.2 168.2 243.2 167.0 242.3 C165.8 241.5 166.3 243.0 165.4 242.0 C164.5 241.0 162.7 238.4 161.4 236.4 C160.1 234.3 158.7 232.4 157.4 229.7 C156.1 227.0 154.5 223.3 153.4 220.4 C152.3 217.5 151.0 215.0 150.7 212.4 C150.4 209.7 150.7 206.8 151.4 204.4 C152.0 201.9 153.3 200.1 154.7 197.7 C156.2 195.3 158.1 192.4 160.1 189.7 C162.1 187.0 164.9 183.7 166.7 181.7 C168.5 179.7 169.8 179.5 171.0 177.7 C172.2 175.9 172.4 172.6 173.7 171.0 C174.9 169.5 176.8 168.7 178.3 168.4 C179.9 168.0 181.9 168.4 183.0 169.0 C184.1 169.7 184.3 170.9 184.7 172.4 C185.2 173.8 185.1 175.7 185.7 177.7 C186.3 179.7 187.3 182.4 188.3 184.4 C189.3 186.4 190.3 188.5 191.7 189.7 C193.0 190.9 194.7 191.8 196.3 191.7 C198.0 191.6 199.7 189.6 201.7 189.0 C203.7 188.5 206.4 187.9 208.4 188.4 C210.4 188.8 211.9 190.7 213.7 191.7 C215.5 192.7 217.2 193.3 219.0 194.4 C220.8 195.5 222.4 197.1 224.4 198.4 C226.4 199.6 229.0 200.9 231.0 201.7 C233.0 202.5 235.1 203.7 236.4 203.0 C237.6 202.4 238.1 199.7 238.4 197.7 C238.6 195.7 238.3 193.1 237.7 191.0 C237.1 188.9 236.1 186.8 235.0 185.0 C233.9 183.2 232.6 181.5 231.0 180.4 C229.5 179.2 227.5 178.9 225.7 178.4 C223.9 177.8 221.9 177.9 220.4 177.0 C218.8 176.1 217.9 174.5 216.4 173.0 C214.8 171.6 213.0 169.9 211.0 168.4 C209.0 166.8 206.8 164.8 204.4 163.7 C201.9 162.6 199.0 162.3 196.3 161.7 C193.7 161.0 190.8 160.6 188.3 159.7 C185.9 158.8 183.9 157.3 181.7 156.3 C179.5 155.3 176.8 154.2 175.0 153.7 C173.2 153.1 172.3 153.1 170.7 153.0 C169.1 153.0 166.9 153.1 165.4 153.4 C163.8 153.7 162.4 154.2 161.4 155.0 C160.4 155.8 160.3 157.1 159.4 158.3 C158.5 159.6 157.5 161.1 156.1 162.3 C154.6 163.6 152.3 164.6 150.7 165.7 C149.2 166.8 147.7 167.7 146.7 169.0 C145.7 170.4 145.3 171.8 144.7 173.7 C144.2 175.6 144.2 178.2 143.4 180.4 C142.6 182.5 141.3 184.6 140.0 186.4 C138.8 188.1 137.4 189.8 136.0 191.0 C134.7 192.3 134.0 193.5 132.0 193.7 C130.0 193.9 127.1 192.8 124.0 192.4 C120.9 191.9 117.4 191.6 113.4 191.0 C109.4 190.5 104.5 189.9 100.0 189.0 C95.6 188.1 90.7 186.8 86.7 185.7 C82.7 184.6 79.8 183.1 76.0 182.4 C72.2 181.6 66.7 181.4 64.0 181.0 C61.3 180.7 61.5 180.5 60.0 180.4 C58.5 180.2 55.8 188.8 55.0 180.4 C54.2 172.0 -1.2 138.4 55.0 130.0 Z" fill="#FF6400" stroke="#FFA000" stroke-width="9" stroke-linejoin="round"/>
<path d="M55.0 130.0 C111.2 121.6 335.8 114.8 392.0 130.0 C448.2 145.2 392.8 206.2 392.0 221.4 C391.2 236.7 390.2 220.7 387.4 221.4 C384.6 222.2 378.7 224.3 375.4 225.7 C372.1 227.1 370.1 228.4 367.4 229.7 C364.7 231.1 362.3 232.5 359.4 233.7 C356.5 234.9 352.0 236.5 350.0 237.1 C348.0 237.6 349.2 236.1 347.4 237.0 C345.6 237.9 342.0 240.4 339.4 242.3 C336.7 244.2 333.8 246.3 331.4 248.3 C328.9 250.3 326.6 252.2 324.7 254.3 C322.8 256.5 321.1 258.8 320.0 261.0 C318.9 263.2 318.4 265.2 318.0 267.7 C317.7 270.1 318.1 273.0 318.0 275.7 C317.9 278.4 317.9 281.4 317.4 283.7 C316.8 286.0 316.1 288.2 314.7 289.7 C313.2 291.1 311.0 291.5 308.7 292.4 C306.4 293.3 302.8 294.4 300.7 295.0 C298.6 295.7 297.8 296.1 296.0 296.4 C294.2 296.6 292.0 296.7 290.0 296.6 C288.0 296.5 285.7 296.4 284.0 295.7 C282.3 295.0 280.4 293.9 280.0 292.4 C279.6 290.8 280.8 288.7 281.3 286.4 C281.9 284.0 282.8 281.0 283.3 278.4 C283.9 275.7 284.2 273.2 284.7 270.4 C285.1 267.5 285.6 264.1 286.0 261.0 C286.5 257.9 286.5 254.2 287.3 251.7 C288.2 249.2 290.0 247.9 291.3 246.0 C292.6 244.1 294.0 242.2 295.1 240.3 C296.2 238.4 297.3 236.6 297.9 234.7 C298.5 232.8 299.0 230.7 298.9 229.0 C298.7 227.2 297.9 225.7 297.0 224.2 C296.0 222.8 294.6 221.7 293.2 220.5 C291.8 219.2 290.0 217.8 288.4 216.7 C286.9 215.6 285.3 214.5 283.7 213.8 C282.1 213.1 280.4 212.4 279.0 212.4 C277.6 212.4 276.1 213.0 275.2 213.8 C274.2 214.7 273.8 216.2 273.3 217.6 C272.8 219.0 272.8 221.1 272.3 222.3 C271.9 223.6 271.4 224.9 270.5 225.2 C269.5 225.5 267.9 224.5 266.7 224.2 C265.4 224.0 264.1 223.5 262.9 223.8 C261.6 224.0 260.4 224.6 259.1 225.7 C257.8 226.7 256.4 228.3 255.3 229.9 C254.2 231.6 253.4 233.4 252.5 235.6 C251.5 237.8 250.5 241.2 249.6 243.2 C248.7 245.2 248.1 246.7 247.0 247.7 C245.9 248.6 244.5 249.1 243.0 249.0 C241.6 248.9 239.7 248.1 238.4 247.0 C237.0 245.9 236.1 243.2 235.0 242.3 C233.9 241.4 232.7 241.2 231.7 241.7 C230.7 242.1 229.6 243.6 229.0 245.0 C228.4 246.4 228.1 248.6 228.1 250.3 C228.1 252.1 228.5 253.9 229.0 255.7 C229.5 257.5 230.4 259.3 231.0 261.0 C231.7 262.7 232.4 264.1 233.0 265.7 C233.7 267.2 234.1 269.1 235.0 270.4 C235.9 271.6 237.5 272.1 238.4 273.0 C239.3 273.9 240.3 274.8 240.4 275.7 C240.5 276.6 239.9 277.0 239.0 278.4 C238.1 279.7 236.3 281.7 235.0 283.7 C233.8 285.7 232.6 288.4 231.7 290.4 C230.8 292.4 230.3 293.9 229.7 295.7 C229.1 297.5 229.0 299.5 228.4 301.0 C227.7 302.6 226.8 304.0 225.7 305.0 C224.6 306.0 223.3 306.4 221.7 307.0 C220.1 307.7 217.9 308.1 216.4 309.0 C214.8 309.9 213.4 311.3 212.4 312.4 C211.4 313.5 210.9 314.5 210.4 315.7 C209.8 316.9 209.7 318.5 209.0 319.7 C208.4 320.9 207.5 322.3 206.4 323.0 C205.2 323.8 203.8 324.5 202.4 324.4 C200.9 324.3 199.2 323.3 197.7 322.4 C196.1 321.5 194.1 320.2 193.0 319.0 C191.9 317.9 191.1 316.9 191.0 315.7 C190.9 314.5 191.8 313.3 192.3 311.7 C192.9 310.2 193.7 308.6 194.3 306.4 C195.0 304.1 195.7 301.0 196.3 298.4 C197.0 295.7 197.9 293.0 198.4 290.4 C198.8 287.7 198.9 285.0 199.0 282.4 C199.1 279.7 199.4 276.7 199.0 274.4 C198.7 272.0 198.1 270.1 197.0 268.4 C195.9 266.6 194.2 265.2 192.3 263.7 C190.5 262.1 187.9 260.8 185.7 259.0 C183.5 257.2 181.2 255.0 179.0 253.0 C176.8 251.0 174.3 248.8 172.3 247.0 C170.3 245.2 168.2 243.2 167.0 242.3 C165.8 241.5 166.3 243.0 165.4 242.0 C164.5 241.0 162.7 238.4 161.4 236.4 C160.1 234.3 158.7 232.4 157.4 229.7 C156.1 227.0 154.5 223.3 153.4 220.4 C152.3 217.5 151.0 215.0 150.7 212.4 C150.4 209.7 150.7 206.8 151.4 204.4 C152.0 201.9 153.3 200.1 154.7 197.7 C156.2 195.3 158.1 192.4 160.1 189.7 C162.1 187.0 164.9 183.7 166.7 181.7 C168.5 179.7 169.8 179.5 171.0 177.7 C172.2 175.9 172.4 172.6 173.7 171.0 C174.9 169.5 176.8 168.7 178.3 168.4 C179.9 168.0 181.9 168.4 183.0 169.0 C184.1 169.7 184.3 170.9 184.7 172.4 C185.2 173.8 185.1 175.7 185.7 177.7 C186.3 179.7 187.3 182.4 188.3 184.4 C189.3 186.4 190.3 188.5 191.7 189.7 C193.0 190.9 194.7 191.8 196.3 191.7 C198.0 191.6 199.7 189.6 201.7 189.0 C203.7 188.5 206.4 187.9 208.4 188.4 C210.4 188.8 211.9 190.7 213.7 191.7 C215.5 192.7 217.2 193.3 219.0 194.4 C220.8 195.5 222.4 197.1 224.4 198.4 C226.4 199.6 229.0 200.9 231.0 201.7 C233.0 202.5 235.1 203.7 236.4 203.0 C237.6 202.4 238.1 199.7 238.4 197.7 C238.6 195.7 238.3 193.1 237.7 191.0 C237.1 188.9 236.1 186.8 235.0 185.0 C233.9 183.2 232.6 181.5 231.0 180.4 C229.5 179.2 227.5 178.9 225.7 178.4 C223.9 177.8 221.9 177.9 220.4 177.0 C218.8 176.1 217.9 174.5 216.4 173.0 C214.8 171.6 213.0 169.9 211.0 168.4 C209.0 166.8 206.8 164.8 204.4 163.7 C201.9 162.6 199.0 162.3 196.3 161.7 C193.7 161.0 190.8 160.6 188.3 159.7 C185.9 158.8 183.9 157.3 181.7 156.3 C179.5 155.3 176.8 154.2 175.0 153.7 C173.2 153.1 172.3 153.1 170.7 153.0 C169.1 153.0 166.9 153.1 165.4 153.4 C163.8 153.7 162.4 154.2 161.4 155.0 C160.4 155.8 160.3 157.1 159.4 158.3 C158.5 159.6 157.5 161.1 156.1 162.3 C154.6 163.6 152.3 164.6 150.7 165.7 C149.2 166.8 147.7 167.7 146.7 169.0 C145.7 170.4 145.3 171.8 144.7 173.7 C144.2 175.6 144.2 178.2 143.4 180.4 C142.6 182.5 141.3 184.6 140.0 186.4 C138.8 188.1 137.4 189.8 136.0 191.0 C134.7 192.3 134.0 193.5 132.0 193.7 C130.0 193.9 127.1 192.8 124.0 192.4 C120.9 191.9 117.4 191.6 113.4 191.0 C109.4 190.5 104.5 189.9 100.0 189.0 C95.6 188.1 90.7 186.8 86.7 185.7 C82.7 184.6 79.8 183.1 76.0 182.4 C72.2 181.6 66.7 181.4 64.0 181.0 C61.3 180.7 61.5 180.5 60.0 180.4 C58.5 180.2 55.8 188.8 55.0 180.4 C54.2 172.0 -1.2 138.4 55.0 130.0 Z" fill="#FF6400"/>
<path d="M74.7 135.0 C65.8 135.8 74.0 138.5 74.7 140.1 C75.3 141.6 77.2 143.1 78.7 144.3 C80.1 145.5 81.7 147.2 83.3 147.3 C85.0 147.4 86.8 145.4 88.7 145.0 C90.6 144.6 92.6 144.6 94.7 145.0 C96.8 145.5 99.1 146.7 101.4 147.7 C103.6 148.7 106.0 149.9 108.0 151.0 C110.0 152.1 111.8 153.2 113.4 154.3 C114.9 155.5 116.1 156.5 117.4 157.7 C118.6 158.9 119.4 160.4 120.7 161.7 C122.0 163.0 124.0 164.6 125.4 165.4 C126.7 166.2 127.8 166.6 128.7 166.4 C129.6 166.1 130.7 165.1 130.7 163.7 C130.7 162.2 129.4 159.8 128.7 157.7 C128.0 155.6 127.0 153.0 126.7 151.0 C126.4 149.0 126.5 147.5 126.7 145.7 C126.9 143.8 127.8 141.8 128.0 140.1 C128.3 138.3 136.9 135.8 128.0 135.0 C119.1 134.2 83.6 134.2 74.7 135.0 Z" fill="#FFA000" stroke="#111" stroke-width="0.75"/>
<path d="M95.4 135.0 C90.8 135.8 94.6 138.7 95.4 140.1 C96.1 141.4 98.2 142.2 100.0 143.0 C101.8 143.8 104.0 144.2 106.0 145.0 C108.0 145.8 110.4 147.1 112.0 147.7 C113.7 148.2 114.7 148.6 116.0 148.3 C117.4 148.1 118.9 147.2 120.0 146.3 C121.1 145.5 122.3 144.0 122.7 143.0 C123.1 142.0 122.7 141.4 122.7 140.1 C122.7 138.7 127.3 135.8 122.7 135.0 C118.1 134.2 99.9 134.2 95.4 135.0 Z" fill="#FFC03C"/>
<path d="M294.0 135.0 C285.6 135.8 294.2 138.6 295.3 140.1 C296.5 141.5 298.5 142.8 300.7 143.7 C302.9 144.6 305.8 145.4 308.7 145.4 C311.6 145.4 314.5 144.2 318.0 143.7 C321.6 143.2 326.3 142.7 330.0 142.3 C333.8 142.0 338.3 142.0 340.7 141.7 C343.1 141.3 343.8 141.2 344.7 140.1 C345.6 139.0 354.5 135.8 346.0 135.0 C337.6 134.2 302.5 134.2 294.0 135.0 Z" fill="#FFA000" stroke="#111" stroke-width="0.75"/>
<path d="M359.4 135.0 C354.5 135.8 360.0 138.3 360.7 140.1 C361.4 141.8 362.3 143.8 363.4 145.7 C364.5 147.5 365.8 149.2 367.4 151.0 C368.9 152.8 371.2 154.6 372.7 156.3 C374.3 158.1 375.6 159.9 376.7 161.7 C377.8 163.5 378.2 165.6 379.4 167.0 C380.6 168.5 382.3 169.5 384.1 170.4 C385.8 171.2 389.1 178.2 390.1 172.4 C391.1 166.5 395.2 141.2 390.1 135.0 C384.9 128.8 364.3 134.2 359.4 135.0 Z" fill="#FFA000" stroke="#111" stroke-width="0.75"/>
<path d="M366.0 135.0 C362.0 135.8 365.4 138.5 366.0 140.1 C366.7 141.6 368.5 143.0 370.1 144.3 C371.6 145.7 373.8 146.6 375.4 148.3 C376.9 150.1 378.5 153.2 379.4 155.0 C380.3 156.8 379.9 158.1 380.7 159.0 C381.5 159.9 382.5 160.0 384.1 160.3 C385.6 160.7 389.1 165.2 390.1 161.0 C391.1 156.8 394.1 139.3 390.1 135.0 C386.1 130.7 370.1 134.2 366.0 135.0 Z" fill="#FFC03C"/>
<path d="M372.7 135.0 C369.8 135.8 372.1 138.7 372.7 140.1 C373.4 141.4 375.4 142.1 376.7 143.0 C378.1 143.9 379.5 145.0 380.7 145.7 C381.9 146.3 382.5 146.7 384.1 147.0 C385.6 147.3 389.1 149.7 390.1 147.7 C391.1 145.7 393.0 137.1 390.1 135.0 C387.2 132.9 375.6 134.2 372.7 135.0 Z" fill="#FFE878"/>
<path d="M379.4 135.0 C377.8 136.0 379.9 139.8 380.7 141.0 C381.5 142.2 382.5 142.0 384.1 142.3 C385.6 142.7 389.1 144.2 390.1 143.0 C391.1 141.8 391.8 136.3 390.1 135.0 C388.3 133.7 380.9 134.0 379.4 135.0 Z" fill="#78B9FF"/>
<path d="M193.7 177.7 C193.9 176.5 194.6 174.7 195.7 173.7 C196.8 172.7 198.6 171.8 200.4 171.7 C202.1 171.6 204.7 172.2 206.4 173.0 C208.0 173.8 209.8 175.1 210.4 176.4 C210.9 177.6 210.7 179.4 209.7 180.4 C208.7 181.4 206.2 181.9 204.4 182.4 C202.5 182.8 200.0 183.2 198.4 183.0 C196.7 182.8 195.1 181.9 194.3 181.0 C193.6 180.1 193.5 178.9 193.7 177.7 Z" fill="#FFC03C"/>
<path d="M136.7 151.7 C137.2 150.6 138.4 148.3 140.0 147.0 C141.7 145.7 144.5 144.3 146.7 143.7 C148.9 143.0 151.7 142.8 153.4 143.0 C155.1 143.2 156.5 143.9 156.7 145.0 C156.9 146.1 155.5 148.0 154.7 149.7 C153.9 151.3 153.4 153.7 152.0 155.0 C150.7 156.3 148.7 157.2 146.7 157.4 C144.7 157.6 141.6 157.0 140.0 156.3 C138.5 155.7 137.9 154.5 137.4 153.7 C136.8 152.9 136.3 152.8 136.7 151.7 Z" fill="#FF3200"/>
<path d="M348.0 160.3 C348.8 158.6 351.2 156.2 352.7 155.0 C354.3 153.8 355.6 152.7 357.4 153.0 C359.2 153.3 361.5 155.5 363.4 157.0 C365.3 158.6 367.2 160.5 368.7 162.3 C370.3 164.2 372.2 166.7 372.7 168.4 C373.3 170.0 372.9 171.6 372.1 172.4 C371.2 173.1 369.3 173.4 367.4 173.0 C365.5 172.7 363.2 171.1 360.7 170.4 C358.3 169.6 354.8 169.1 352.7 168.4 C350.6 167.6 348.8 167.0 348.0 165.7 C347.3 164.3 347.3 162.1 348.0 160.3 Z" fill="#FF3200"/>
<path d="M247.3 189.2 C247.3 187.9 248.9 186.5 250.1 186.4 C251.3 186.2 252.9 187.5 254.4 188.3 C255.9 189.0 257.5 190.1 259.1 190.6 C260.7 191.2 263.0 190.7 263.8 191.6 C264.6 192.4 264.8 195.0 263.8 195.8 C262.9 196.6 259.9 196.1 258.1 196.3 C256.4 196.5 254.8 197.1 253.4 196.8 C252.0 196.5 250.6 195.7 249.6 194.4 C248.6 193.2 247.2 190.5 247.3 189.2 Z" fill="#FF3200"/>
<path d="M211.0 199.0 C212.8 198.6 214.8 199.5 216.4 200.4 C217.9 201.3 219.0 203.0 220.4 204.4 C221.7 205.7 223.5 206.6 224.4 208.4 C225.3 210.2 225.9 212.8 225.7 215.0 C225.5 217.3 224.1 219.7 223.0 221.7 C221.9 223.7 220.6 225.6 219.0 227.0 C217.5 228.5 215.7 230.2 213.7 230.4 C211.7 230.6 208.4 229.6 207.0 228.4 C205.7 227.2 205.5 224.8 205.7 223.0 C205.9 221.3 207.7 219.5 208.4 217.7 C209.0 215.9 210.0 214.2 209.7 212.4 C209.4 210.6 207.0 208.6 206.4 207.0 C205.7 205.5 204.9 204.4 205.7 203.0 C206.5 201.7 209.2 199.5 211.0 199.0 Z" fill="#FF3200"/>
<path d="M179.7 195.0 C181.0 193.8 182.9 193.7 184.3 194.4 C185.8 195.0 187.5 196.9 188.3 199.0 C189.2 201.1 189.2 204.4 189.7 207.0 C190.1 209.7 191.0 212.4 191.0 215.0 C191.0 217.7 190.3 220.8 189.7 223.0 C189.0 225.3 187.2 226.4 187.0 228.4 C186.8 230.4 187.8 232.8 188.3 235.1 C188.9 237.3 188.8 239.8 190.3 241.7 C191.9 243.6 195.8 244.9 197.7 246.3 C199.6 247.8 200.1 249.2 201.7 250.3 C203.2 251.5 205.9 251.7 207.0 253.0 C208.1 254.3 207.7 256.8 208.4 258.3 C209.0 259.9 209.7 261.6 211.0 262.3 C212.4 263.1 214.6 263.2 216.4 263.0 C218.1 262.8 220.1 260.9 221.7 261.0 C223.3 261.1 224.7 262.3 225.7 263.7 C226.7 265.0 227.3 267.0 227.7 269.0 C228.1 271.0 228.5 273.5 228.4 275.7 C228.3 277.9 227.5 280.4 227.0 282.4 C226.6 284.4 226.1 285.9 225.7 287.7 C225.3 289.5 225.0 291.5 224.4 293.0 C223.7 294.6 222.6 295.9 221.7 297.0 C220.8 298.1 219.9 298.6 219.0 299.7 C218.1 300.8 217.2 302.4 216.4 303.7 C215.5 305.0 214.8 306.6 213.7 307.7 C212.6 308.8 211.0 309.5 209.7 310.4 C208.4 311.3 207.0 312.2 205.7 313.0 C204.4 313.9 202.9 315.3 201.7 315.7 C200.5 316.2 199.4 316.2 198.4 315.7 C197.3 315.3 196.1 314.4 195.7 313.0 C195.2 311.7 195.3 309.9 195.7 307.7 C196.0 305.5 197.0 302.6 197.7 299.7 C198.4 296.8 199.2 293.5 199.7 290.4 C200.1 287.2 200.4 283.7 200.4 281.0 C200.4 278.4 200.1 276.2 199.7 274.4 C199.2 272.5 198.8 271.2 197.7 269.7 C196.6 268.1 194.9 266.6 193.0 265.0 C191.1 263.5 188.6 262.1 186.3 260.3 C184.1 258.6 181.9 256.3 179.7 254.3 C177.5 252.3 174.9 250.0 173.0 248.3 C171.1 246.7 169.6 245.7 168.3 244.3 C167.1 243.0 165.7 242.2 165.7 240.4 C165.7 238.6 167.2 235.7 168.3 233.7 C169.4 231.7 171.2 230.2 172.3 228.4 C173.4 226.6 175.0 224.6 175.0 223.0 C175.0 221.5 173.4 220.4 172.3 219.0 C171.2 217.7 168.8 216.4 168.3 215.0 C167.9 213.7 168.8 212.4 169.7 211.0 C170.6 209.7 172.6 208.6 173.7 207.0 C174.8 205.5 175.3 203.7 176.3 201.7 C177.3 199.7 178.3 196.3 179.7 195.0 Z" fill="#FF3200"/>
<path d="M207.7 272.9 C208.1 271.6 208.8 270.1 209.9 269.1 C211.0 268.2 212.6 267.5 214.4 267.3 C216.1 267.0 218.7 267.0 220.4 267.7 C222.0 268.3 223.4 269.8 224.1 271.4 C224.8 273.0 224.6 275.4 224.5 277.4 C224.3 279.4 224.0 281.9 223.3 283.3 C222.7 284.8 221.6 285.3 220.7 286.3 C219.9 287.3 219.1 288.3 218.1 289.3 C217.2 290.3 216.4 291.9 215.1 292.3 C213.9 292.7 211.9 292.3 210.6 291.6 C209.4 290.8 208.3 289.5 207.7 287.8 C207.0 286.2 207.0 283.7 206.9 281.9 C206.8 280.0 207.2 278.1 207.3 276.6 C207.4 275.1 207.2 274.1 207.7 272.9 Z" fill="#E61400"/>
<path d="M189.3 251.2 C189.5 250.6 190.3 249.8 191.2 250.1 C192.1 250.3 194.0 251.9 194.6 252.7 C195.2 253.5 195.2 254.4 194.9 254.9 C194.7 255.5 193.8 256.3 193.1 256.1 C192.3 255.9 191.1 254.6 190.5 253.8 C189.8 253.0 189.2 251.8 189.3 251.2 Z" fill="#E61400"/>
<path d="M159.4 163.7 C161.4 163.5 163.8 164.5 165.4 165.7 C166.9 166.9 168.3 169.2 168.7 171.0 C169.2 172.8 168.7 174.5 168.1 176.4 C167.4 178.2 166.1 180.4 164.7 182.4 C163.4 184.4 161.6 186.2 160.1 188.4 C158.5 190.5 156.7 192.9 155.4 195.0 C154.1 197.1 153.0 198.9 152.0 201.0 C151.1 203.1 150.0 205.4 149.6 207.7 C149.2 210.0 149.2 212.5 149.6 215.0 C150.0 217.6 151.1 220.5 152.0 223.0 C153.0 225.6 154.2 227.9 155.4 230.4 C156.6 232.8 158.3 235.8 159.4 237.7 C160.5 239.7 160.2 241.3 162.1 242.0 C163.9 242.6 168.1 240.7 170.3 241.7 C172.6 242.6 173.7 245.7 175.7 247.7 C177.7 249.7 180.1 251.6 182.3 253.7 C184.6 255.8 187.1 258.3 189.0 260.3 C190.9 262.3 192.5 263.8 193.7 265.7 C194.9 267.6 195.6 268.9 196.1 271.7 C196.6 274.5 196.7 278.8 196.6 282.4 C196.5 285.9 196.2 289.9 195.7 293.0 C195.2 296.1 194.5 298.6 193.7 301.0 C192.9 303.5 191.9 305.7 191.0 307.7 C190.1 309.7 189.2 311.0 188.3 313.0 C187.5 315.0 186.2 316.8 185.7 319.7 C185.1 322.6 185.0 327.3 185.0 330.4 C185.0 333.5 185.3 335.5 185.7 338.4 C186.0 341.3 190.1 346.2 187.0 347.7 C183.9 349.3 170.3 353.7 167.0 347.7 C163.7 341.7 167.5 323.5 167.0 311.7 C166.5 299.9 165.4 283.9 164.1 277.0 C162.7 270.1 160.7 273.0 158.7 270.4 C156.7 267.7 154.3 264.6 152.0 261.0 C149.8 257.5 147.4 253.0 145.4 249.0 C143.4 245.0 141.2 239.5 140.0 237.0 C138.9 234.5 139.5 235.6 138.7 233.7 C137.9 231.8 136.2 228.6 135.4 225.7 C134.6 222.8 134.2 219.5 134.0 216.4 C133.9 213.3 134.2 209.7 134.7 207.0 C135.3 204.4 136.3 202.5 137.4 200.4 C138.5 198.3 140.0 196.4 141.4 194.4 C142.7 192.4 144.4 190.5 145.4 188.4 C146.4 186.2 146.8 184.1 147.4 181.7 C147.9 179.2 147.7 176.1 148.7 173.7 C149.7 171.2 151.6 168.7 153.4 167.0 C155.2 165.3 157.4 163.9 159.4 163.7 Z" fill="#FFC03C"/>
<path d="M168.7 275.7 C169.6 275.5 171.3 275.0 172.1 277.0 C172.8 279.0 173.3 283.9 173.4 287.7 C173.5 291.5 173.2 296.5 172.7 299.7 C172.3 302.9 171.6 305.9 170.7 307.0 C169.8 308.1 168.2 308.0 167.4 306.4 C166.6 304.7 166.3 300.6 166.1 297.0 C165.8 293.5 165.9 288.1 166.1 285.0 C166.2 281.9 166.3 279.9 166.7 278.4 C167.2 276.8 167.8 275.9 168.7 275.7 Z" fill="#FFA000"/>
<path d="M158.7 170.4 C160.2 169.9 162.3 170.5 163.4 171.0 C164.5 171.6 165.3 172.4 165.4 173.7 C165.5 175.0 164.9 177.2 164.1 179.0 C163.2 180.8 161.4 182.6 160.1 184.4 C158.7 186.1 157.4 187.9 156.1 189.7 C154.7 191.5 153.3 193.3 152.0 195.0 C150.8 196.8 149.6 198.4 148.7 200.4 C147.8 202.4 147.0 204.6 146.7 207.0 C146.4 209.5 146.3 212.4 146.7 215.0 C147.2 217.7 148.3 220.4 149.4 223.0 C150.5 225.7 152.0 228.6 153.4 231.1 C154.7 233.5 156.3 235.9 157.4 237.7 C158.5 239.5 158.5 240.8 160.1 242.0 C161.7 243.2 165.0 243.6 167.0 245.0 C169.0 246.4 170.3 248.3 172.3 250.3 C174.3 252.3 176.8 254.8 179.0 257.0 C181.2 259.2 183.7 261.7 185.7 263.7 C187.7 265.7 189.7 267.0 191.0 269.0 C192.3 271.0 193.2 273.2 193.7 275.7 C194.1 278.1 193.8 280.8 193.7 283.7 C193.6 286.6 193.5 290.1 193.0 293.0 C192.6 295.9 192.0 298.4 191.0 301.0 C190.0 303.7 188.3 306.4 187.0 309.0 C185.7 311.7 183.9 313.9 183.0 317.0 C182.1 320.2 181.7 324.6 181.7 327.7 C181.7 330.8 182.6 333.0 183.0 335.7 C183.5 338.4 184.1 341.3 184.3 344.0 C184.6 346.7 187.2 350.4 184.3 351.7 C181.5 353.0 169.9 358.0 167.0 351.7 C164.1 345.5 166.6 321.5 167.0 314.4 C167.4 307.3 168.8 311.3 169.7 309.0 C170.6 306.8 171.6 304.1 172.3 301.0 C173.1 297.9 174.1 294.4 174.3 290.4 C174.6 286.4 174.2 280.4 173.7 277.0 C173.1 273.7 172.1 271.9 171.0 270.4 C169.9 268.8 168.8 269.0 167.0 267.7 C165.2 266.3 162.5 264.6 160.1 262.3 C157.6 260.1 154.3 257.2 152.0 254.3 C149.8 251.5 148.3 247.9 146.7 245.0 C145.2 242.1 143.3 238.7 142.7 237.0 C142.2 235.3 143.8 236.7 143.4 235.1 C142.9 233.4 141.0 229.7 140.0 227.0 C139.0 224.4 137.8 221.5 137.4 219.0 C136.9 216.6 137.2 214.8 137.4 212.4 C137.6 209.9 138.0 206.8 138.7 204.4 C139.4 201.9 140.3 199.7 141.4 197.7 C142.5 195.7 144.0 194.4 145.4 192.4 C146.7 190.4 148.3 187.9 149.4 185.7 C150.5 183.5 151.2 181.0 152.0 179.0 C152.9 177.0 153.6 175.1 154.7 173.7 C155.8 172.2 157.3 170.8 158.7 170.4 Z" fill="#FFE878"/>
<path d="M60.0 180.4 C60.7 180.5 61.3 180.7 64.0 181.0 C66.7 181.4 72.2 181.6 76.0 182.4 C79.8 183.1 82.7 184.6 86.7 185.7 C90.7 186.8 95.6 188.1 100.0 189.0 C104.5 189.9 109.4 190.5 113.4 191.0 C117.4 191.6 120.9 191.9 124.0 192.4 C127.1 192.8 130.0 193.9 132.0 193.7 C134.0 193.5 134.7 192.3 136.0 191.0 C137.4 189.8 138.8 188.1 140.0 186.4 C141.3 184.6 142.6 182.5 143.4 180.4 C144.2 178.2 144.2 175.6 144.7 173.7 C145.3 171.8 145.7 170.4 146.7 169.0 C147.7 167.7 149.2 166.8 150.7 165.7 C152.3 164.6 154.6 163.6 156.1 162.3 C157.5 161.1 158.5 159.6 159.4 158.3 C160.3 157.1 160.4 155.8 161.4 155.0 C162.4 154.2 163.8 153.7 165.4 153.4 C166.9 153.1 169.1 153.0 170.7 153.0 C172.3 153.1 173.2 153.1 175.0 153.7 C176.8 154.2 179.5 155.3 181.7 156.3 C183.9 157.3 185.9 158.8 188.3 159.7 C190.8 160.6 193.7 161.0 196.3 161.7 C199.0 162.3 201.9 162.6 204.4 163.7 C206.8 164.8 209.0 166.8 211.0 168.4 C213.0 169.9 214.8 171.6 216.4 173.0 C217.9 174.5 218.8 176.1 220.4 177.0 C221.9 177.9 223.9 177.8 225.7 178.4 C227.5 178.9 229.5 179.2 231.0 180.4 C232.6 181.5 233.9 183.2 235.0 185.0 C236.1 186.8 237.1 188.9 237.7 191.0 C238.3 193.1 238.6 195.7 238.4 197.7 C238.1 199.7 237.6 202.4 236.4 203.0 C235.1 203.7 233.0 202.5 231.0 201.7 C229.0 200.9 226.4 199.6 224.4 198.4 C222.4 197.1 220.8 195.5 219.0 194.4 C217.2 193.3 215.5 192.7 213.7 191.7 C211.9 190.7 210.4 188.8 208.4 188.4 C206.4 187.9 203.7 188.5 201.7 189.0 C199.7 189.6 198.0 191.6 196.3 191.7 C194.7 191.8 193.0 190.9 191.7 189.7 C190.3 188.5 189.3 186.4 188.3 184.4 C187.3 182.4 186.3 179.7 185.7 177.7 C185.1 175.7 185.2 173.8 184.7 172.4 C184.3 170.9 184.1 169.7 183.0 169.0 C181.9 168.4 179.9 168.0 178.3 168.4 C176.8 168.7 174.9 169.5 173.7 171.0 C172.4 172.6 172.1 175.7 171.0 177.7 C169.9 179.7 168.8 181.0 167.0 183.0 C165.2 185.0 162.1 187.3 160.1 189.7 C158.0 192.1 156.2 195.3 154.7 197.7 C153.3 200.1 152.0 201.9 151.4 204.4 C150.7 206.8 150.4 209.7 150.7 212.4 C151.0 215.0 152.3 217.5 153.4 220.4 C154.5 223.3 156.1 227.0 157.4 229.7 C158.7 232.4 160.1 234.3 161.4 236.4 C162.7 238.4 164.5 241.0 165.4 242.0 C166.3 243.0 165.8 241.5 167.0 242.3 C168.2 243.2 170.3 245.2 172.3 247.0 C174.3 248.8 176.8 251.0 179.0 253.0 C181.2 255.0 183.5 257.2 185.7 259.0 C187.9 260.8 190.5 262.1 192.3 263.7 C194.2 265.2 195.9 266.6 197.0 268.4 C198.1 270.1 198.7 272.0 199.0 274.4 C199.4 276.7 199.1 279.7 199.0 282.4 C198.9 285.0 198.8 287.7 198.4 290.4 C197.9 293.0 197.0 295.7 196.3 298.4 C195.7 301.0 195.0 304.1 194.3 306.4 C193.7 308.6 192.9 310.2 192.3 311.7 C191.8 313.3 190.9 314.5 191.0 315.7 C191.1 316.9 191.9 317.9 193.0 319.0 C194.1 320.2 196.1 321.5 197.7 322.4 C199.2 323.3 200.9 324.3 202.4 324.4 C203.8 324.5 205.2 323.8 206.4 323.0 C207.5 322.3 208.4 320.9 209.0 319.7 C209.7 318.5 209.8 316.9 210.4 315.7 C210.9 314.5 211.4 313.5 212.4 312.4 C213.4 311.3 214.8 309.9 216.4 309.0 C217.9 308.1 220.1 307.7 221.7 307.0 C223.3 306.4 224.6 306.0 225.7 305.0 C226.8 304.0 227.7 302.6 228.4 301.0 C229.0 299.5 229.1 297.5 229.7 295.7 C230.3 293.9 230.8 292.4 231.7 290.4 C232.6 288.4 233.8 285.7 235.0 283.7 C236.3 281.7 238.1 279.7 239.0 278.4 C239.9 277.0 240.5 276.6 240.4 275.7 C240.3 274.8 239.3 273.9 238.4 273.0 C237.5 272.1 235.9 271.6 235.0 270.4 C234.1 269.1 233.7 267.2 233.0 265.7 C232.4 264.1 231.7 262.7 231.0 261.0 C230.4 259.3 229.5 257.5 229.0 255.7 C228.5 253.9 228.1 252.1 228.1 250.3 C228.1 248.6 228.4 246.4 229.0 245.0 C229.6 243.6 230.7 242.1 231.7 241.7 C232.7 241.2 233.9 241.4 235.0 242.3 C236.1 243.2 237.0 245.9 238.4 247.0 C239.7 248.1 241.6 248.9 243.0 249.0 C244.5 249.1 245.9 248.6 247.0 247.7 C248.2 246.8 248.8 245.7 249.7 243.7 C250.6 241.7 251.5 237.9 252.5 235.6 C253.4 233.3 254.2 231.6 255.3 229.9 C256.4 228.3 257.8 226.7 259.1 225.7 C260.4 224.6 261.6 224.0 262.9 223.8 C264.1 223.5 265.4 224.0 266.7 224.2 C267.9 224.5 269.5 225.5 270.5 225.2 C271.4 224.9 271.9 223.6 272.3 222.3 C272.8 221.1 272.8 219.0 273.3 217.6 C273.8 216.2 274.2 214.7 275.2 213.8 C276.1 213.0 277.6 212.4 279.0 212.4 C280.4 212.4 282.1 213.1 283.7 213.8 C285.3 214.5 286.9 215.6 288.4 216.7 C290.0 217.8 291.8 219.2 293.2 220.5 C294.6 221.7 296.0 222.8 297.0 224.2 C297.9 225.7 298.7 227.2 298.9 229.0 C299.0 230.7 298.5 232.8 297.9 234.7 C297.3 236.6 296.2 238.4 295.1 240.3 C294.0 242.2 292.4 244.2 291.3 246.0 C290.2 247.8 289.3 248.5 288.4 251.0 C287.6 253.5 286.6 257.8 286.0 261.0 C285.4 264.2 285.1 267.5 284.7 270.4 C284.2 273.2 283.9 275.7 283.3 278.4 C282.8 281.0 281.9 284.0 281.3 286.4 C280.8 288.7 279.6 290.8 280.0 292.4 C280.4 293.9 282.3 295.0 284.0 295.7 C285.7 296.4 288.0 296.5 290.0 296.6 C292.0 296.7 294.2 296.6 296.0 296.4 C297.8 296.1 298.6 295.7 300.7 295.0 C302.8 294.4 306.4 293.3 308.7 292.4 C311.0 291.5 313.2 291.1 314.7 289.7 C316.1 288.2 316.8 286.0 317.4 283.7 C317.9 281.4 317.9 278.4 318.0 275.7 C318.1 273.0 317.7 270.1 318.0 267.7 C318.4 265.2 318.9 263.2 320.0 261.0 C321.1 258.8 322.8 256.5 324.7 254.3 C326.6 252.2 328.9 250.3 331.4 248.3 C333.8 246.3 336.7 244.2 339.4 242.3 C342.0 240.4 345.6 237.9 347.4 237.0 C349.2 236.1 348.0 237.6 350.0 237.1 C352.0 236.5 356.5 234.9 359.4 233.7 C362.3 232.5 364.7 231.1 367.4 229.7 C370.1 228.4 372.1 227.1 375.4 225.7 C378.7 224.3 385.4 222.2 387.4 221.4" fill="none" stroke="#111" stroke-width="0.75"/>
<path d="M60.0 342.4 C62.6 341.7 67.8 339.9 70.7 338.4 C73.6 336.8 75.1 334.5 77.3 333.1 C79.6 331.6 81.3 330.6 84.0 329.7 C86.7 328.8 90.0 328.2 93.4 327.7 C96.7 327.2 100.2 326.9 104.0 326.6 C107.8 326.4 112.3 326.4 116.0 326.1 C119.8 325.8 123.6 325.9 126.7 325.0 C129.8 324.2 132.3 322.8 134.7 321.0 C137.2 319.3 139.6 316.6 141.4 314.4 C143.2 312.2 144.3 309.7 145.4 307.7 C146.5 305.7 147.0 303.5 148.0 302.4 C149.0 301.2 150.3 300.5 151.4 300.8 C152.5 301.0 153.8 301.9 154.7 303.7 C155.6 305.5 155.8 309.3 156.7 311.7 C157.6 314.2 158.6 316.4 160.1 318.4 C161.5 320.4 163.6 322.3 165.4 323.7 C167.2 325.1 169.5 324.8 170.7 326.6 C172.0 328.5 172.4 332.9 173.0 335.0 C173.6 337.1 173.7 337.2 174.3 339.0 C175.0 340.8 175.8 343.4 177.0 345.7 C178.2 347.9 179.8 350.3 181.7 352.3 C183.6 354.3 186.1 356.1 188.3 357.7 C190.6 359.2 193.0 360.7 195.0 361.7 C197.0 362.7 198.4 363.5 200.4 363.7 C202.4 363.9 204.4 363.3 207.0 363.0 C209.7 362.7 213.2 362.1 216.4 361.7 C219.5 361.2 222.6 360.7 225.7 360.3 C228.8 360.0 232.1 359.6 235.0 359.7 C237.9 359.8 240.8 360.8 243.0 361.0 C245.3 361.2 246.9 361.6 248.4 361.0 C249.8 360.5 251.3 359.1 251.7 357.7 C252.2 356.2 251.2 353.9 251.0 352.3 C250.9 350.8 250.6 349.6 251.0 348.3 C251.5 347.1 252.2 345.7 253.7 345.0 C255.3 344.3 257.7 344.2 260.4 344.3 C263.1 344.4 267.5 345.6 269.7 345.7 C272.0 345.8 272.4 344.8 274.0 345.0 C275.6 345.2 276.7 346.5 279.3 347.0 C282.0 347.5 286.5 348.0 290.0 348.1 C293.6 348.2 297.3 347.8 300.7 347.7 C304.0 347.5 306.9 346.9 310.0 347.0 C313.1 347.1 316.0 347.7 319.4 348.3 C322.7 349.0 326.5 350.0 330.0 351.0 C333.6 352.0 337.1 353.3 340.7 354.3 C344.3 355.3 347.8 356.2 351.4 357.0 C354.9 357.8 358.5 358.5 362.0 359.0 C365.6 359.5 368.5 360.1 372.7 360.1 C376.9 360.0 384.2 359.0 387.4 358.7 C390.6 358.5 391.2 343.5 392.0 358.7 C392.8 374.0 448.2 434.8 392.0 450.0 C335.8 465.2 111.2 467.9 55.0 450.0 C-1.2 432.1 54.2 360.3 55.0 342.4 C55.8 324.5 57.4 343.1 60.0 342.4 Z" fill="#78B9FF" stroke="#111" stroke-width="0.75"/>
<path d="M60.0 359.7 C63.1 359.5 68.9 359.1 73.3 358.3 C77.8 357.6 82.2 356.2 86.7 355.0 C91.1 353.8 96.0 352.1 100.0 351.0 C104.0 349.9 106.9 349.1 110.7 348.6 C114.5 348.1 118.7 348.0 122.7 348.1 C126.7 348.1 130.9 348.6 134.7 349.0 C138.5 349.4 142.5 350.3 145.4 350.3 C148.3 350.3 149.8 350.0 152.0 349.0 C154.3 348.0 156.5 345.9 158.7 344.3 C160.9 342.8 163.5 340.6 165.4 339.7 C167.3 338.8 168.8 337.3 169.9 339.0 C171.1 340.7 171.5 346.1 172.3 349.7 C173.2 353.2 174.1 356.8 175.0 360.3 C175.9 363.9 176.8 367.7 177.7 371.0 C178.6 374.4 179.2 378.0 180.3 380.4 C181.5 382.7 182.6 384.1 184.3 385.0 C186.1 385.9 189.2 385.9 191.0 385.7 C192.8 385.5 193.9 385.0 195.0 383.7 C196.1 382.4 196.8 379.6 197.7 377.7 C198.6 375.8 198.8 373.9 200.4 372.4 C201.9 370.8 204.4 369.2 207.0 368.3 C209.7 367.5 213.0 367.1 216.4 367.0 C219.7 366.9 223.7 367.2 227.0 367.7 C230.4 368.1 233.0 368.9 236.4 369.7 C239.7 370.5 243.5 371.5 247.0 372.4 C250.6 373.2 254.6 374.4 257.7 375.0 C260.8 375.7 263.6 376.6 265.7 376.4 C267.8 376.1 269.3 375.0 270.4 373.7 C271.5 372.4 271.8 369.7 272.4 368.3 C273.0 367.0 272.4 366.3 274.0 365.7 C275.6 365.0 279.1 364.7 282.0 364.3 C284.9 364.0 288.2 364.1 291.3 363.7 C294.5 363.2 297.3 362.5 300.7 361.7 C304.0 360.9 307.8 359.5 311.4 359.0 C314.9 358.5 318.5 358.5 322.0 358.7 C325.6 359.0 329.1 359.6 332.7 360.3 C336.3 361.1 339.8 362.2 343.4 363.0 C346.9 363.8 350.0 364.3 354.0 365.0 C358.0 365.7 363.4 366.5 367.4 367.0 C371.4 367.6 374.7 368.0 378.1 368.3 C381.4 368.7 385.1 369.0 387.4 369.1 C389.7 369.3 391.2 355.7 392.0 369.1 C392.8 382.6 448.2 436.5 392.0 450.0 C335.8 463.5 111.2 465.1 55.0 450.0 C-1.2 434.9 54.2 374.7 55.0 359.7 C55.8 344.6 56.9 359.9 60.0 359.7 Z" fill="#3C96F5"/>
<path d="M60.0 383.7 C63.1 383.5 68.9 383.0 73.3 382.4 C77.8 381.7 82.2 380.7 86.7 379.7 C91.1 378.7 96.2 377.8 100.0 376.4 C103.8 374.9 106.7 372.5 109.4 371.0 C112.0 369.6 113.6 368.5 116.0 367.7 C118.5 366.9 121.4 366.3 124.0 366.3 C126.7 366.3 129.4 366.9 132.0 367.7 C134.7 368.5 137.8 370.2 140.0 371.0 C142.3 371.8 143.4 372.4 145.4 372.4 C147.4 372.4 150.0 371.8 152.0 371.0 C154.1 370.2 155.6 368.6 157.4 367.7 C159.2 366.8 160.9 365.7 162.7 365.7 C164.5 365.7 167.3 364.6 168.1 367.7 C168.8 370.8 166.3 380.9 167.0 384.4 C167.7 387.8 170.3 386.8 172.3 388.4 C174.3 389.9 176.8 392.3 179.0 393.7 C181.2 395.1 183.2 396.4 185.7 397.0 C188.1 397.7 191.2 397.9 193.7 397.7 C196.1 397.5 198.4 396.8 200.4 395.7 C202.4 394.6 204.4 392.9 205.7 391.0 C207.0 389.1 207.5 386.4 208.4 384.4 C209.2 382.4 209.7 380.6 211.0 379.0 C212.4 377.5 214.4 375.8 216.4 375.0 C218.4 374.2 220.6 374.0 223.0 374.4 C225.5 374.7 228.4 376.0 231.0 377.0 C233.7 378.0 236.4 379.2 239.0 380.4 C241.7 381.5 243.9 382.6 247.0 383.7 C250.2 384.8 254.2 385.9 257.7 387.0 C261.3 388.1 265.7 389.6 268.4 390.4 C271.1 391.1 271.0 391.1 273.7 391.3 C276.4 391.5 281.3 391.9 284.7 391.7 C288.1 391.5 291.3 391.1 294.0 390.4 C296.7 389.6 298.9 388.5 300.7 387.0 C302.5 385.6 303.3 383.5 304.7 381.7 C306.0 379.9 306.9 377.9 308.7 376.4 C310.5 374.8 312.9 373.4 315.4 372.4 C317.8 371.4 320.2 370.6 323.4 370.4 C326.5 370.1 330.3 370.7 334.0 371.0 C337.8 371.4 341.8 371.9 346.0 372.4 C350.3 372.8 354.9 373.4 359.4 373.7 C363.8 374.0 368.1 374.2 372.7 374.4 C377.4 374.5 384.2 374.4 387.4 374.4 C390.6 374.4 391.2 361.7 392.0 374.4 C392.8 387.0 448.2 437.4 392.0 450.0 C335.8 462.6 111.2 461.1 55.0 450.0 C-1.2 438.9 54.2 394.7 55.0 383.7 C55.8 372.6 56.9 383.9 60.0 383.7 Z" fill="#1E6EEB"/>
<path d="M60.0 410.4 C63.1 410.3 68.9 409.6 73.3 409.7 C77.8 409.8 82.2 410.6 86.7 411.0 C91.1 411.5 95.6 412.0 100.0 412.4 C104.5 412.7 108.9 412.6 113.4 413.0 C117.8 413.5 122.3 414.4 126.7 415.0 C131.1 415.7 136.0 416.4 140.0 417.0 C144.0 417.7 147.9 418.9 150.7 419.0 C153.5 419.2 154.9 418.6 156.7 417.7 C158.5 416.8 160.3 415.7 161.4 413.7 C162.5 411.7 163.1 408.4 163.4 405.7 C163.7 403.0 162.7 400.1 163.0 397.7 C163.3 395.3 164.1 392.7 165.4 391.3 C166.7 389.9 170.5 389.1 170.7 389.4 C171.0 389.7 166.7 391.5 167.0 393.0 C167.3 394.5 170.3 396.5 172.3 398.4 C174.3 400.3 177.0 402.5 179.0 404.4 C181.0 406.3 182.6 408.1 184.3 409.7 C186.1 411.3 187.9 412.5 189.7 413.7 C191.5 414.9 192.8 416.4 195.0 417.0 C197.2 417.7 200.1 417.8 203.0 417.7 C205.9 417.6 209.5 417.0 212.4 416.4 C215.2 415.7 217.9 414.8 220.4 413.7 C222.8 412.6 225.0 411.3 227.0 409.7 C229.0 408.1 230.4 406.0 232.4 404.4 C234.4 402.7 236.6 400.8 239.0 399.7 C241.5 398.6 243.9 398.1 247.0 397.7 C250.2 397.3 254.2 396.9 257.7 397.0 C261.3 397.1 265.5 397.9 268.4 398.4 C271.3 398.8 272.8 399.4 275.1 399.7 C277.3 400.0 279.5 400.0 282.0 400.4 C284.5 400.7 287.6 401.8 290.0 401.7 C292.5 401.6 294.2 400.8 296.7 399.7 C299.1 398.6 301.8 396.5 304.7 395.0 C307.6 393.6 310.9 392.4 314.0 391.0 C317.1 389.7 320.5 388.2 323.4 387.0 C326.3 385.8 328.0 384.7 331.4 383.7 C334.7 382.7 339.1 381.8 343.4 381.0 C347.6 380.2 352.3 379.6 356.7 379.0 C361.2 378.5 364.9 378.1 370.1 377.7 C375.2 377.3 383.7 376.9 387.4 376.8 C391.1 376.6 391.2 364.5 392.0 376.8 C392.8 389.0 448.2 437.8 392.0 450.0 C335.8 462.2 111.2 456.6 55.0 450.0 C-1.2 443.4 54.2 417.0 55.0 410.4 C55.8 403.8 56.9 410.5 60.0 410.4 Z" fill="#1464D2"/>
<path d="M204.4 437.1 C205.7 434.1 209.7 433.8 212.4 432.4 C215.0 430.9 217.2 429.7 220.4 428.4 C223.5 427.0 227.5 425.6 231.0 424.4 C234.6 423.2 237.9 422.0 241.7 421.0 C245.5 420.0 249.7 419.2 253.7 418.4 C257.7 417.6 262.4 416.9 265.7 416.4 C269.1 415.8 270.8 415.0 273.7 415.0 C276.7 415.0 280.4 415.8 283.3 416.4 C286.3 416.9 288.5 418.2 291.3 418.4 C294.2 418.6 298.0 418.5 300.7 417.7 C303.3 416.9 305.8 415.3 307.4 413.7 C308.9 412.2 308.9 409.9 310.0 408.4 C311.1 406.8 311.8 405.5 314.0 404.4 C316.2 403.3 320.0 402.6 323.4 401.7 C326.7 400.8 330.5 400.1 334.0 399.0 C337.6 397.9 341.1 396.3 344.7 395.0 C348.3 393.8 351.6 392.7 355.4 391.7 C359.2 390.7 363.6 389.7 367.4 389.0 C371.2 388.4 374.7 388.1 378.1 387.7 C381.4 387.3 385.1 386.7 387.4 386.5 C389.7 386.3 391.2 375.9 392.0 386.5 C392.8 397.1 423.3 439.4 392.0 450.0 C360.7 460.6 235.6 452.2 204.4 450.0 C173.1 447.8 203.0 440.0 204.4 437.1 Z" fill="#1450C8"/>
<path d="M296.7 437.1 C298.0 434.2 302.0 434.2 304.7 433.1 C307.4 431.9 310.4 431.4 312.7 430.4 C315.0 429.4 317.1 428.5 318.7 427.0 C320.2 425.6 321.0 423.4 322.0 421.7 C323.0 420.0 323.6 418.1 324.7 417.0 C325.8 416.0 326.9 415.5 328.7 415.3 C330.5 415.2 332.7 416.0 335.4 416.1 C338.0 416.2 341.6 416.2 344.7 416.1 C347.8 416.0 351.2 415.9 354.0 415.7 C356.9 415.5 359.4 415.6 362.0 415.0 C364.7 414.5 367.4 413.3 370.1 412.4 C372.7 411.5 375.4 410.5 378.1 409.7 C380.7 408.9 383.7 407.7 386.1 407.3 C388.4 406.9 391.0 400.2 392.0 407.3 C393.0 414.4 407.9 442.9 392.0 450.0 C376.1 457.1 312.6 452.2 296.7 450.0 C280.8 447.8 295.3 439.9 296.7 437.1 Z" fill="#4C3CC8" stroke="#111" stroke-width="0.75"/>
<use href="#map"/>
<rect x="64.2" y="176.9" width="12.2" height="9.2" fill="#fff"/>
<text x="70.3" y="185.3" class="cl" text-anchor="middle">24</text>
<rect x="177.5" y="161.4" width="12.2" height="9.2" fill="#fff"/>
<text x="183.6" y="169.8" class="cl" text-anchor="middle">24</text>
<rect x="190.9" y="155.8" width="12.2" height="9.2" fill="#fff"/>
<text x="197.0" y="164.2" class="cl" text-anchor="middle">24</text>
<rect x="234.3" y="246.1" width="12.2" height="9.2" fill="#fff"/>
<text x="240.4" y="254.5" class="cl" text-anchor="middle">24</text>
<rect x="283.9" y="293.1" width="12.2" height="9.2" fill="#fff"/>
<text x="290.0" y="301.5" class="cl" text-anchor="middle">24</text>
<rect x="110.9" y="321.4" width="12.2" height="9.2" fill="#fff"/>
<text x="117.0" y="329.8" class="cl" text-anchor="middle">15</text>
<rect x="283.9" y="345.7" width="12.2" height="9.2" fill="#fff"/>
<text x="290.0" y="354.1" class="cl" text-anchor="middle">15</text>
</g>
<rect x="63.1" y="139.2" width="320.8" height="296.9" fill="none" stroke="#000" stroke-width="1.8"/>
<text x="58.3" y="142.6" class="ax" text-anchor="end" xml:space="preserve">15N</text>
<text x="58.3" y="162.4" class="ax" text-anchor="end" xml:space="preserve">10N</text>
<text x="58.3" y="182.2" class="ax" text-anchor="end" xml:space="preserve">5N</text>
<text x="58.3" y="202.0" class="ax" text-anchor="end" xml:space="preserve">EQ</text>
<text x="58.3" y="221.8" class="ax" text-anchor="end" xml:space="preserve">5S</text>
<text x="58.3" y="241.6" class="ax" text-anchor="end" xml:space="preserve">10S</text>
<text x="58.3" y="261.4" class="ax" text-anchor="end" xml:space="preserve">15S</text>
<text x="58.3" y="281.2" class="ax" text-anchor="end" xml:space="preserve">20S</text>
<text x="58.3" y="300.9" class="ax" text-anchor="end" xml:space="preserve">25S</text>
<text x="58.3" y="320.7" class="ax" text-anchor="end" xml:space="preserve">30S</text>
<text x="58.3" y="340.5" class="ax" text-anchor="end" xml:space="preserve">35S</text>
<text x="58.3" y="360.3" class="ax" text-anchor="end" xml:space="preserve">40S</text>
<text x="58.3" y="380.1" class="ax" text-anchor="end" xml:space="preserve">45S</text>
<text x="58.3" y="399.9" class="ax" text-anchor="end" xml:space="preserve">50S</text>
<text x="58.3" y="419.7" class="ax" text-anchor="end" xml:space="preserve">55S</text>
<text x="58.3" y="439.5" class="ax" text-anchor="end" xml:space="preserve">60S</text>
<text x="68.5" y="447.5" class="ax" text-anchor="middle" textLength="21.0" lengthAdjust="spacingAndGlyphs">100W</text>
<text x="104.0" y="447.5" class="ax" text-anchor="middle" textLength="17.0" lengthAdjust="spacingAndGlyphs">90W</text>
<text x="139.6" y="447.5" class="ax" text-anchor="middle" textLength="17.0" lengthAdjust="spacingAndGlyphs">80W</text>
<text x="175.2" y="447.5" class="ax" text-anchor="middle" textLength="17.0" lengthAdjust="spacingAndGlyphs">70W</text>
<text x="210.7" y="447.5" class="ax" text-anchor="middle" textLength="17.0" lengthAdjust="spacingAndGlyphs">60W</text>
<text x="246.2" y="447.5" class="ax" text-anchor="middle" textLength="17.0" lengthAdjust="spacingAndGlyphs">50W</text>
<text x="281.8" y="447.5" class="ax" text-anchor="middle" textLength="17.0" lengthAdjust="spacingAndGlyphs">40W</text>
<text x="317.4" y="447.5" class="ax" text-anchor="middle" textLength="17.0" lengthAdjust="spacingAndGlyphs">30W</text>
<text x="352.9" y="447.5" class="ax" text-anchor="middle" textLength="17.0" lengthAdjust="spacingAndGlyphs">20W</text>
<path d="M60.0 139.2H63.1M60.0 159.0H63.1M60.0 178.8H63.1M60.0 198.6H63.1M60.0 218.4H63.1M60.0 238.2H63.1M60.0 258.0H63.1M60.0 277.8H63.1M60.0 297.5H63.1M60.0 317.3H63.1M60.0 337.1H63.1M60.0 356.9H63.1M60.0 376.7H63.1M60.0 396.5H63.1M60.0 416.3H63.1M60.0 436.1H63.1M67.9 436.1V438.9M103.5 436.1V438.9M139.0 436.1V438.9M174.6 436.1V438.9M210.1 436.1V438.9M245.7 436.1V438.9M281.2 436.1V438.9M316.8 436.1V438.9M352.3 436.1V438.9" stroke="#000" stroke-width="1.3" fill="none"/>
</g>
<g transform="translate(458.9 0.0)">
<text transform="translate(107.17 129.6) scale(1.000 1)" style="font-size:19.6px;letter-spacing:0.96px">cluster:</text>
<text transform="translate(187.52 129.6) scale(1.100 1)" style="font-size:19.6px">2</text>
<text transform="translate(222.70 129.6) scale(1.000 1)" style="font-size:19.6px;letter-spacing:1.07px">membros:</text>
<text transform="translate(328.84 129.6) scale(1.012 1)" style="font-size:19.6px">3</text>
<g clip-path="url(#cp)">
<rect x="55" y="130" width="340" height="320" fill="#FFE878"/>
<path d="M55.0 130.0 C111.2 98.8 335.8 97.7 392.0 130.0 C448.2 162.3 392.8 291.4 392.0 323.7 C391.2 356.0 389.7 323.4 387.4 323.7 C385.1 324.0 380.9 324.8 378.1 325.7 C375.2 326.6 372.9 327.6 370.1 329.0 C367.2 330.5 363.4 332.6 360.7 334.4 C358.0 336.2 355.5 338.9 354.0 339.7 C352.6 340.5 352.9 339.1 352.0 339.3 C351.2 339.5 350.6 340.5 348.7 341.0 C346.8 341.5 344.3 342.1 340.7 342.3 C337.1 342.6 331.8 342.4 327.4 342.3 C322.9 342.3 318.5 342.2 314.0 341.9 C309.6 341.7 304.7 341.4 300.7 341.0 C296.7 340.6 290.5 338.7 290.0 339.3 C289.6 339.8 297.8 344.0 298.0 344.4 C298.2 344.8 294.0 342.7 291.3 341.7 C288.7 340.7 284.9 339.4 282.0 338.4 C279.1 337.4 275.8 336.1 274.0 335.7 C272.2 335.4 273.3 336.4 271.1 336.4 C268.8 336.4 263.9 335.8 260.4 335.7 C256.8 335.6 252.8 335.3 249.7 335.7 C246.6 336.2 243.5 337.9 241.7 338.4 C239.9 338.8 239.7 339.7 239.0 338.4 C238.4 337.1 237.5 332.8 237.7 330.4 C237.9 327.9 239.3 325.9 240.4 323.7 C241.5 321.5 243.3 319.5 244.4 317.0 C245.5 314.6 246.6 311.5 247.0 309.0 C247.5 306.6 247.5 304.1 247.0 302.4 C246.6 300.6 245.7 298.8 244.4 298.4 C243.0 297.9 240.6 298.8 239.0 299.7 C237.5 300.6 236.4 302.1 235.0 303.7 C233.7 305.3 232.6 307.3 231.0 309.0 C229.5 310.8 227.5 312.6 225.7 314.4 C223.9 316.2 221.9 317.9 220.4 319.7 C218.8 321.5 217.1 323.0 216.4 325.0 C215.6 327.0 216.4 330.2 215.7 331.7 C215.0 333.3 213.8 333.1 212.4 334.4 C210.9 335.7 209.5 339.0 207.0 339.7 C204.6 340.5 199.4 338.0 197.7 339.0 C196.0 340.0 196.8 343.4 197.0 345.7 C197.2 347.9 198.1 350.1 199.0 352.3 C199.9 354.6 201.4 356.8 202.4 359.0 C203.4 361.2 204.7 363.5 205.0 365.7 C205.4 367.9 205.1 370.4 204.4 372.4 C203.6 374.4 201.9 376.6 200.4 377.7 C198.8 378.8 196.8 379.1 195.0 379.0 C193.2 378.9 191.1 378.1 189.7 377.0 C188.2 375.9 186.8 374.0 186.3 372.4 C185.9 370.7 187.3 369.0 187.0 367.0 C186.7 365.0 185.2 362.6 184.3 360.3 C183.5 358.1 182.1 355.9 181.7 353.7 C181.2 351.5 181.3 348.8 181.7 347.0 C182.0 345.2 183.5 344.0 183.7 343.0 C183.9 342.0 184.5 342.7 183.0 341.1 C181.6 339.4 177.5 335.7 175.0 333.1 C172.6 330.4 169.4 326.8 168.3 325.0 C167.3 323.3 169.2 324.2 168.7 322.4 C168.2 320.6 166.3 317.0 165.4 314.4 C164.5 311.7 163.9 309.3 163.4 306.4 C162.8 303.5 162.5 300.1 162.1 297.0 C161.6 293.9 161.3 290.6 160.7 287.7 C160.2 284.8 159.9 282.2 158.7 279.7 C157.5 277.1 155.6 274.9 153.4 272.4 C151.2 269.8 148.3 266.8 145.4 264.3 C142.5 261.9 139.2 259.7 136.0 257.7 C132.9 255.7 130.0 253.9 126.7 252.3 C123.4 250.8 119.1 248.9 116.0 248.3 C112.9 247.8 110.7 248.0 108.0 249.0 C105.4 250.0 102.5 252.1 100.0 254.3 C97.6 256.6 95.1 259.5 93.4 262.3 C91.6 265.2 90.3 268.6 89.3 271.7 C88.3 274.8 87.7 277.9 87.3 281.0 C87.0 284.1 87.5 287.2 87.3 290.4 C87.2 293.5 88.1 297.5 86.7 299.7 C85.2 301.9 81.3 302.1 78.7 303.7 C76.0 305.3 73.1 307.3 70.7 309.0 C68.2 310.8 65.8 313.0 64.0 314.4 C62.2 315.7 61.5 316.6 60.0 317.0 C58.5 317.5 55.8 348.2 55.0 317.0 C54.2 285.9 -1.2 161.2 55.0 130.0 Z" fill="#FFC03C"/>
<path d="M55.0 130.0 C111.2 119.2 335.8 109.7 392.0 130.0 C448.2 150.3 392.8 231.4 392.0 251.7 C391.2 272.0 389.7 251.0 387.4 251.7 C385.1 252.3 380.5 254.3 378.1 255.7 C375.6 257.0 373.9 257.9 372.7 259.7 C371.5 261.5 370.7 263.9 370.7 266.3 C370.7 268.8 371.9 271.7 372.7 274.4 C373.5 277.0 375.2 279.7 375.4 282.4 C375.6 285.0 374.9 287.9 374.1 290.4 C373.2 292.8 371.8 294.8 370.1 297.0 C368.3 299.3 366.0 301.3 363.4 303.7 C360.7 306.1 356.9 309.5 354.0 311.7 C351.2 313.9 348.7 315.8 346.0 317.0 C343.4 318.3 341.1 318.8 338.0 319.0 C334.9 319.3 330.9 318.8 327.4 318.4 C323.8 317.9 320.2 317.0 316.7 316.4 C313.1 315.7 309.4 314.7 306.0 314.4 C302.7 314.0 299.3 313.9 296.7 314.4 C294.0 314.8 291.6 315.9 290.0 317.0 C288.5 318.2 288.7 319.9 287.3 321.0 C286.0 322.2 284.2 323.2 282.0 323.7 C279.8 324.3 277.2 324.4 274.0 324.4 C270.8 324.4 266.2 324.5 263.1 323.7 C259.9 322.9 256.8 321.7 255.0 319.7 C253.3 317.7 253.0 314.4 252.4 311.7 C251.7 309.0 251.0 307.3 251.0 303.7 C251.0 300.1 253.0 293.3 252.4 290.4 C251.7 287.5 248.8 286.4 247.0 286.4 C245.3 286.4 243.5 288.8 241.7 290.4 C239.9 291.9 237.9 293.9 236.4 295.7 C234.8 297.5 233.5 299.3 232.4 301.0 C231.3 302.8 231.3 305.3 229.7 306.4 C228.1 307.5 225.0 306.8 223.0 307.7 C221.0 308.6 219.0 310.2 217.7 311.7 C216.4 313.3 216.1 315.3 215.0 317.0 C213.9 318.8 212.6 320.4 211.0 322.4 C209.5 324.4 207.7 326.8 205.7 329.0 C203.7 331.3 201.0 333.9 199.0 335.7 C197.0 337.5 195.5 339.7 193.7 339.7 C191.9 339.7 189.7 337.7 188.3 335.7 C187.0 333.7 185.9 330.4 185.7 327.7 C185.5 325.0 186.3 322.8 187.0 319.7 C187.7 316.6 188.6 313.5 189.7 309.0 C190.8 304.6 193.0 298.4 193.7 293.0 C194.3 287.7 194.8 281.9 193.7 277.0 C192.6 272.1 190.1 268.1 187.0 263.7 C183.9 259.2 179.3 254.0 175.0 250.3 C170.7 246.7 165.0 245.4 161.4 241.7 C157.8 238.1 155.6 233.7 153.4 228.4 C151.2 223.0 150.3 214.6 148.0 209.7 C145.8 204.8 142.7 200.1 140.0 199.0 C137.4 197.9 134.9 202.5 132.0 203.0 C129.1 203.6 125.8 202.6 122.7 202.4 C119.6 202.1 116.5 201.6 113.4 201.7 C110.2 201.8 107.4 203.5 104.0 203.0 C100.7 202.6 97.4 200.3 93.4 199.0 C89.3 197.8 85.6 196.4 80.0 195.7 C74.5 195.0 64.2 195.1 60.0 195.0 C55.8 194.9 55.8 205.9 55.0 195.0 C54.2 184.2 -1.2 140.8 55.0 130.0 Z" fill="#FFA000"/>
<path d="M57.3 212.4 C58.4 207.5 60.2 212.3 64.0 212.4 C67.8 212.5 75.1 213.2 80.0 213.0 C84.9 212.9 89.3 211.6 93.4 211.7 C97.4 211.8 101.4 212.7 104.0 213.7 C106.7 214.7 108.7 216.4 109.4 217.7 C110.0 219.0 109.6 220.6 108.0 221.7 C106.5 222.8 103.6 223.5 100.0 224.4 C96.5 225.3 90.5 225.9 86.7 227.0 C82.9 228.2 80.2 229.5 77.3 231.1 C74.5 232.6 71.6 234.8 69.3 236.4 C67.1 237.9 66.0 239.5 64.0 240.4 C62.0 241.3 58.4 246.4 57.3 241.7 C56.2 237.1 56.2 217.3 57.3 212.4 Z" fill="#FFA000"/>
<path d="M60.0 241.0 C60.7 241.7 62.7 240.2 64.0 239.7 C65.3 239.1 68.7 238.3 68.0 237.7 C67.3 237.0 61.3 235.1 60.0 235.7 C58.7 236.2 59.3 240.3 60.0 241.0 Z" fill="#FFA000"/>
<path d="M282.9 228.8 C284.9 228.9 291.1 230.4 291.9 232.8 C292.7 235.1 289.1 239.1 287.9 242.7 C286.8 246.4 285.6 251.1 284.9 254.7 C284.3 258.4 284.6 261.4 283.9 264.7 C283.3 268.0 282.1 271.7 280.9 274.7 C279.8 277.7 278.6 280.3 277.0 282.6 C275.3 285.0 273.0 286.5 271.0 288.6 C269.0 290.7 267.6 293.2 265.0 295.2 C262.3 297.2 259.0 299.7 255.0 300.6 C251.0 301.5 242.7 301.5 241.0 300.6 C239.4 299.7 243.7 296.9 245.0 295.2 C246.4 293.6 247.4 292.7 249.0 290.6 C250.7 288.5 253.7 285.3 255.0 282.6 C256.3 280.0 257.3 276.7 257.0 274.7 C256.7 272.7 254.7 272.3 253.0 270.7 C251.3 269.0 247.9 266.4 247.0 264.7 C246.2 263.0 246.7 261.0 248.0 260.7 C249.4 260.4 252.7 263.0 255.0 262.7 C257.3 262.4 260.8 260.4 262.0 258.7 C263.2 257.0 261.3 255.0 262.0 252.7 C262.7 250.4 264.1 247.1 266.0 244.7 C267.8 242.4 270.6 240.9 273.0 238.8 C275.3 236.6 278.3 233.4 279.9 231.8 C281.6 230.1 280.9 228.6 282.9 228.8 Z" fill="#FFC03C"/>
<path d="M247.0 262.3 C247.7 261.2 251.0 259.5 252.4 259.7 C253.7 259.9 255.0 262.3 255.0 263.7 C255.0 265.0 253.5 267.2 252.4 267.7 C251.3 268.1 249.3 267.2 248.4 266.3 C247.5 265.5 246.4 263.5 247.0 262.3 Z" fill="#FFC03C"/>
<path d="M55.0 130.0 C111.2 121.6 335.8 114.2 392.0 130.0 C448.2 145.8 392.8 208.9 392.0 224.6 C391.2 240.4 390.2 224.0 387.4 224.6 C384.6 225.3 378.9 227.1 375.4 228.4 C371.8 229.7 369.2 231.1 366.0 232.4 C362.9 233.7 359.4 235.6 356.7 236.4 C354.0 237.2 352.7 236.1 350.0 237.0 C347.4 237.9 343.8 240.1 340.7 241.7 C337.6 243.2 334.0 244.9 331.4 246.3 C328.7 247.8 326.6 248.8 324.7 250.3 C322.8 251.9 321.1 253.7 320.0 255.7 C318.9 257.7 318.5 260.1 318.0 262.3 C317.6 264.6 317.9 267.1 317.4 269.0 C316.8 270.9 315.6 272.1 314.7 273.7 C313.8 275.2 312.1 276.8 312.0 278.4 C311.9 279.9 313.5 281.5 314.0 283.0 C314.6 284.6 316.0 286.6 315.4 287.7 C314.7 288.8 311.9 289.3 310.0 289.7 C308.1 290.1 306.2 289.9 304.0 290.4 C301.8 290.8 299.0 291.7 296.7 292.4 C294.3 293.0 292.0 294.0 290.0 294.4 C288.0 294.7 286.0 295.0 284.7 294.4 C283.3 293.7 282.2 292.4 282.0 290.4 C281.8 288.4 282.8 285.2 283.3 282.4 C283.9 279.5 284.7 276.4 285.3 273.0 C286.0 269.7 286.8 265.9 287.3 262.3 C287.9 258.8 288.1 254.6 288.7 251.7 C289.2 248.8 289.8 246.6 290.7 245.0 C291.6 243.4 293.0 243.2 294.0 242.0 C295.0 240.8 295.9 239.5 296.7 237.7 C297.5 235.9 298.5 233.1 298.7 231.1 C298.9 229.1 298.8 227.5 298.0 225.7 C297.2 223.9 295.8 221.9 294.0 220.4 C292.2 218.8 289.6 217.6 287.3 216.4 C285.1 215.2 282.7 213.3 280.7 213.0 C278.6 212.8 276.4 214.0 275.1 215.0 C273.7 216.0 273.1 217.7 272.4 219.0 C271.7 220.4 272.1 222.3 271.1 223.0 C270.1 223.8 268.2 223.5 266.4 223.7 C264.6 223.9 262.1 223.8 260.4 224.4 C258.7 224.9 257.3 225.5 256.4 227.0 C255.5 228.6 255.6 231.8 255.0 233.7 C254.5 235.6 253.6 236.5 253.0 238.3 C252.5 240.2 252.5 243.0 251.7 245.0 C250.9 247.0 249.7 249.0 248.4 250.3 C247.0 251.7 245.2 252.8 243.7 253.0 C242.3 253.2 240.9 252.6 239.7 251.7 C238.5 250.8 237.3 249.2 236.4 247.7 C235.5 246.1 234.9 243.5 234.4 242.3 C233.9 241.1 233.5 241.6 233.3 240.4 C233.1 239.2 233.5 236.4 233.0 235.1 C232.5 233.7 231.6 232.7 230.4 232.4 C229.1 232.1 226.8 232.4 225.7 233.1 C224.6 233.7 224.3 235.2 224.0 236.4 C223.6 237.6 223.6 238.5 223.7 240.4 C223.8 242.3 223.9 245.3 224.4 247.7 C224.8 250.0 225.7 252.3 226.4 254.3 C227.0 256.3 227.6 257.9 228.4 259.7 C229.1 261.5 230.1 263.2 231.0 265.0 C231.9 266.8 232.6 268.9 233.7 270.4 C234.8 271.8 236.1 272.9 237.7 273.7 C239.3 274.5 241.6 274.5 243.0 275.0 C244.5 275.6 245.9 276.2 246.4 277.0 C246.8 277.8 246.5 278.6 245.7 279.7 C244.9 280.8 243.3 282.5 241.7 283.7 C240.2 284.9 238.1 285.9 236.4 287.0 C234.6 288.1 232.8 289.1 231.0 290.4 C229.3 291.6 227.5 293.1 225.7 294.4 C223.9 295.6 222.1 296.8 220.4 297.7 C218.6 298.6 216.8 298.9 215.0 299.7 C213.2 300.5 211.2 301.3 209.7 302.4 C208.1 303.5 207.0 304.5 205.7 306.4 C204.4 308.3 203.1 312.3 201.7 313.7 C200.2 315.2 198.0 315.6 197.0 315.0 C196.0 314.5 195.7 312.3 195.7 310.4 C195.7 308.5 196.6 305.9 197.0 303.7 C197.5 301.5 197.9 299.3 198.4 297.0 C198.8 294.8 199.4 292.8 199.7 290.4 C200.0 287.9 200.4 285.0 200.4 282.4 C200.4 279.7 200.2 276.7 199.7 274.4 C199.1 272.0 198.2 270.1 197.0 268.4 C195.8 266.6 194.2 265.2 192.3 263.7 C190.5 262.1 187.9 260.8 185.7 259.0 C183.5 257.2 181.2 255.0 179.0 253.0 C176.8 251.0 174.3 248.8 172.3 247.0 C170.3 245.2 168.2 243.2 167.0 242.3 C165.8 241.5 166.3 242.8 165.4 242.0 C164.5 241.2 162.7 239.5 161.4 237.7 C160.1 235.9 158.7 233.7 157.4 231.1 C156.1 228.4 154.5 224.6 153.4 221.7 C152.3 218.8 151.0 216.4 150.7 213.7 C150.4 211.0 150.7 208.3 151.4 205.7 C152.0 203.1 153.3 200.8 154.7 198.4 C156.2 195.9 158.1 193.5 160.1 191.0 C162.1 188.6 165.6 185.2 166.7 183.7 C167.9 182.1 166.5 182.9 167.0 181.7 C167.5 180.5 168.7 177.9 169.7 176.4 C170.7 174.8 171.4 173.1 173.0 172.4 C174.6 171.6 177.2 171.5 179.0 171.7 C180.9 171.9 183.0 172.5 184.1 173.7 C185.2 174.9 185.0 177.0 185.7 179.0 C186.4 181.0 187.5 183.7 188.3 185.7 C189.2 187.7 189.9 189.7 191.0 191.0 C192.1 192.4 193.7 193.7 195.0 193.7 C196.3 193.7 197.5 191.9 199.0 191.0 C200.6 190.1 202.6 188.7 204.4 188.4 C206.1 188.0 208.1 188.4 209.7 189.0 C211.2 189.7 212.1 191.4 213.7 192.4 C215.2 193.4 217.2 194.0 219.0 195.0 C220.8 196.0 222.4 197.1 224.4 198.4 C226.4 199.6 229.0 201.1 231.0 202.4 C233.0 203.6 234.7 205.6 236.4 205.7 C238.0 205.8 240.5 204.8 241.0 203.0 C241.6 201.3 240.2 197.5 239.7 195.0 C239.3 192.6 239.1 190.5 238.4 188.4 C237.6 186.2 236.5 183.9 235.0 182.4 C233.6 180.8 231.7 179.8 229.7 179.0 C227.7 178.2 225.0 178.5 223.0 177.7 C221.0 176.9 219.5 175.6 217.7 174.4 C215.9 173.1 214.1 171.7 212.4 170.4 C210.6 169.0 209.0 167.6 207.0 166.4 C205.0 165.1 202.6 163.9 200.4 163.0 C198.1 162.1 195.9 161.7 193.7 161.0 C191.5 160.3 189.2 160.0 187.0 159.0 C184.8 158.0 182.3 155.9 180.3 155.0 C178.3 154.1 176.6 153.9 175.0 153.7 C173.4 153.5 172.6 153.5 170.7 153.7 C168.9 153.9 165.9 154.3 164.1 155.0 C162.2 155.7 160.4 156.7 159.4 157.7 C158.4 158.7 158.8 160.0 158.1 161.0 C157.3 162.0 156.2 162.9 154.7 163.7 C153.3 164.5 150.9 164.8 149.4 165.7 C147.8 166.6 146.4 167.7 145.4 169.0 C144.4 170.4 143.9 171.8 143.4 173.7 C142.8 175.6 142.8 178.1 142.0 180.4 C141.3 182.6 139.9 185.1 138.7 187.0 C137.5 188.9 136.2 190.6 134.7 191.7 C133.3 192.8 131.8 193.6 130.0 193.7 C128.3 193.8 126.8 193.0 124.0 192.4 C121.3 191.7 117.4 190.5 113.4 189.7 C109.4 188.9 104.5 188.5 100.0 187.7 C95.6 186.9 90.0 185.9 86.7 185.0 C83.3 184.1 82.2 183.2 80.0 182.4 C77.8 181.5 76.0 179.9 73.3 179.7 C70.7 179.5 66.2 180.9 64.0 181.0 C61.8 181.1 61.5 180.5 60.0 180.4 C58.5 180.2 55.8 188.8 55.0 180.4 C54.2 172.0 -1.2 138.4 55.0 130.0 Z" fill="#FF6400" stroke="#FFA000" stroke-width="9" stroke-linejoin="round"/>
<path d="M55.0 130.0 C111.2 121.6 335.8 114.2 392.0 130.0 C448.2 145.8 392.8 208.9 392.0 224.6 C391.2 240.4 390.2 224.0 387.4 224.6 C384.6 225.3 378.9 227.1 375.4 228.4 C371.8 229.7 369.2 231.1 366.0 232.4 C362.9 233.7 359.4 235.6 356.7 236.4 C354.0 237.2 352.7 236.1 350.0 237.0 C347.4 237.9 343.8 240.1 340.7 241.7 C337.6 243.2 334.0 244.9 331.4 246.3 C328.7 247.8 326.6 248.8 324.7 250.3 C322.8 251.9 321.1 253.7 320.0 255.7 C318.9 257.7 318.5 260.1 318.0 262.3 C317.6 264.6 317.9 267.1 317.4 269.0 C316.8 270.9 315.6 272.1 314.7 273.7 C313.8 275.2 312.1 276.8 312.0 278.4 C311.9 279.9 313.5 281.5 314.0 283.0 C314.6 284.6 316.0 286.6 315.4 287.7 C314.7 288.8 311.9 289.3 310.0 289.7 C308.1 290.1 306.2 289.9 304.0 290.4 C301.8 290.8 299.0 291.7 296.7 292.4 C294.3 293.0 292.0 294.0 290.0 294.4 C288.0 294.7 286.0 295.0 284.7 294.4 C283.3 293.7 282.2 292.4 282.0 290.4 C281.8 288.4 282.8 285.2 283.3 282.4 C283.9 279.5 284.7 276.4 285.3 273.0 C286.0 269.7 286.8 265.9 287.3 262.3 C287.9 258.8 288.1 254.6 288.7 251.7 C289.2 248.8 289.8 246.6 290.7 245.0 C291.6 243.4 293.0 243.2 294.0 242.0 C295.0 240.8 295.9 239.5 296.7 237.7 C297.5 235.9 298.5 233.1 298.7 231.1 C298.9 229.1 298.8 227.5 298.0 225.7 C297.2 223.9 295.8 221.9 294.0 220.4 C292.2 218.8 289.6 217.6 287.3 216.4 C285.1 215.2 282.7 213.3 280.7 213.0 C278.6 212.8 276.4 214.0 275.1 215.0 C273.7 216.0 273.1 217.7 272.4 219.0 C271.7 220.4 272.1 222.3 271.1 223.0 C270.1 223.8 268.2 223.5 266.4 223.7 C264.6 223.9 262.1 223.8 260.4 224.4 C258.7 224.9 257.3 225.5 256.4 227.0 C255.5 228.6 255.6 231.8 255.0 233.7 C254.5 235.6 253.6 236.5 253.0 238.3 C252.5 240.2 252.5 243.0 251.7 245.0 C250.9 247.0 249.7 249.0 248.4 250.3 C247.0 251.7 245.2 252.8 243.7 253.0 C242.3 253.2 240.9 252.6 239.7 251.7 C238.5 250.8 237.3 249.2 236.4 247.7 C235.5 246.1 234.9 243.5 234.4 242.3 C233.9 241.1 233.5 241.6 233.3 240.4 C233.1 239.2 233.5 236.4 233.0 235.1 C232.5 233.7 231.6 232.7 230.4 232.4 C229.1 232.1 226.8 232.4 225.7 233.1 C224.6 233.7 224.3 235.2 224.0 236.4 C223.6 237.6 223.6 238.5 223.7 240.4 C223.8 242.3 223.9 245.3 224.4 247.7 C224.8 250.0 225.7 252.3 226.4 254.3 C227.0 256.3 227.6 257.9 228.4 259.7 C229.1 261.5 230.1 263.2 231.0 265.0 C231.9 266.8 232.6 268.9 233.7 270.4 C234.8 271.8 236.1 272.9 237.7 273.7 C239.3 274.5 241.6 274.5 243.0 275.0 C244.5 275.6 245.9 276.2 246.4 277.0 C246.8 277.8 246.5 278.6 245.7 279.7 C244.9 280.8 243.3 282.5 241.7 283.7 C240.2 284.9 238.1 285.9 236.4 287.0 C234.6 288.1 232.8 289.1 231.0 290.4 C229.3 291.6 227.5 293.1 225.7 294.4 C223.9 295.6 222.1 296.8 220.4 297.7 C218.6 298.6 216.8 298.9 215.0 299.7 C213.2 300.5 211.2 301.3 209.7 302.4 C208.1 303.5 207.0 304.5 205.7 306.4 C204.4 308.3 203.1 312.3 201.7 313.7 C200.2 315.2 198.0 315.6 197.0 315.0 C196.0 314.5 195.7 312.3 195.7 310.4 C195.7 308.5 196.6 305.9 197.0 303.7 C197.5 301.5 197.9 299.3 198.4 297.0 C198.8 294.8 199.4 292.8 199.7 290.4 C200.0 287.9 200.4 285.0 200.4 282.4 C200.4 279.7 200.2 276.7 199.7 274.4 C199.1 272.0 198.2 270.1 197.0 268.4 C195.8 266.6 194.2 265.2 192.3 263.7 C190.5 262.1 187.9 260.8 185.7 259.0 C183.5 257.2 181.2 255.0 179.0 253.0 C176.8 251.0 174.3 248.8 172.3 247.0 C170.3 245.2 168.2 243.2 167.0 242.3 C165.8 241.5 166.3 242.8 165.4 242.0 C164.5 241.2 162.7 239.5 161.4 237.7 C160.1 235.9 158.7 233.7 157.4 231.1 C156.1 228.4 154.5 224.6 153.4 221.7 C152.3 218.8 151.0 216.4 150.7 213.7 C150.4 211.0 150.7 208.3 151.4 205.7 C152.0 203.1 153.3 200.8 154.7 198.4 C156.2 195.9 158.1 193.5 160.1 191.0 C162.1 188.6 165.6 185.2 166.7 183.7 C167.9 182.1 166.5 182.9 167.0 181.7 C167.5 180.5 168.7 177.9 169.7 176.4 C170.7 174.8 171.4 173.1 173.0 172.4 C174.6 171.6 177.2 171.5 179.0 171.7 C180.9 171.9 183.0 172.5 184.1 173.7 C185.2 174.9 185.0 177.0 185.7 179.0 C186.4 181.0 187.5 183.7 188.3 185.7 C189.2 187.7 189.9 189.7 191.0 191.0 C192.1 192.4 193.7 193.7 195.0 193.7 C196.3 193.7 197.5 191.9 199.0 191.0 C200.6 190.1 202.6 188.7 204.4 188.4 C206.1 188.0 208.1 188.4 209.7 189.0 C211.2 189.7 212.1 191.4 213.7 192.4 C215.2 193.4 217.2 194.0 219.0 195.0 C220.8 196.0 222.4 197.1 224.4 198.4 C226.4 199.6 229.0 201.1 231.0 202.4 C233.0 203.6 234.7 205.6 236.4 205.7 C238.0 205.8 240.5 204.8 241.0 203.0 C241.6 201.3 240.2 197.5 239.7 195.0 C239.3 192.6 239.1 190.5 238.4 188.4 C237.6 186.2 236.5 183.9 235.0 182.4 C233.6 180.8 231.7 179.8 229.7 179.0 C227.7 178.2 225.0 178.5 223.0 177.7 C221.0 176.9 219.5 175.6 217.7 174.4 C215.9 173.1 214.1 171.7 212.4 170.4 C210.6 169.0 209.0 167.6 207.0 166.4 C205.0 165.1 202.6 163.9 200.4 163.0 C198.1 162.1 195.9 161.7 193.7 161.0 C191.5 160.3 189.2 160.0 187.0 159.0 C184.8 158.0 182.3 155.9 180.3 155.0 C178.3 154.1 176.6 153.9 175.0 153.7 C173.4 153.5 172.6 153.5 170.7 153.7 C168.9 153.9 165.9 154.3 164.1 155.0 C162.2 155.7 160.4 156.7 159.4 157.7 C158.4 158.7 158.8 160.0 158.1 161.0 C157.3 162.0 156.2 162.9 154.7 163.7 C153.3 164.5 150.9 164.8 149.4 165.7 C147.8 166.6 146.4 167.7 145.4 169.0 C144.4 170.4 143.9 171.8 143.4 173.7 C142.8 175.6 142.8 178.1 142.0 180.4 C141.3 182.6 139.9 185.1 138.7 187.0 C137.5 188.9 136.2 190.6 134.7 191.7 C133.3 192.8 131.8 193.6 130.0 193.7 C128.3 193.8 126.8 193.0 124.0 192.4 C121.3 191.7 117.4 190.5 113.4 189.7 C109.4 188.9 104.5 188.5 100.0 187.7 C95.6 186.9 90.0 185.9 86.7 185.0 C83.3 184.1 82.2 183.2 80.0 182.4 C77.8 181.5 76.0 179.9 73.3 179.7 C70.7 179.5 66.2 180.9 64.0 181.0 C61.8 181.1 61.5 180.5 60.0 180.4 C58.5 180.2 55.8 188.8 55.0 180.4 C54.2 172.0 -1.2 138.4 55.0 130.0 Z" fill="#FF6400"/>
<path d="M260.5 301.0 C260.6 299.9 261.0 298.6 261.7 297.7 C262.5 296.8 263.8 296.0 265.1 295.7 C266.3 295.4 267.9 295.4 269.1 295.7 C270.2 296.0 271.5 296.8 272.1 297.7 C272.8 298.6 273.1 299.9 273.1 301.0 C273.0 302.1 272.5 303.5 271.7 304.4 C270.9 305.3 269.6 306.0 268.4 306.4 C267.2 306.7 265.5 307.0 264.4 306.6 C263.2 306.3 262.1 305.3 261.5 304.4 C260.8 303.4 260.5 302.1 260.5 301.0 Z" fill="#FF6400" stroke="#111" stroke-width="0.75"/>
<path d="M74.7 135.0 C65.8 135.8 74.0 138.5 74.7 140.1 C75.3 141.6 77.2 143.1 78.7 144.3 C80.1 145.5 81.7 147.2 83.3 147.3 C85.0 147.4 86.8 145.4 88.7 145.0 C90.6 144.6 92.6 144.6 94.7 145.0 C96.8 145.5 99.1 146.7 101.4 147.7 C103.6 148.7 106.0 149.9 108.0 151.0 C110.0 152.1 111.8 153.2 113.4 154.3 C114.9 155.5 116.1 156.5 117.4 157.7 C118.6 158.9 119.4 160.4 120.7 161.7 C122.0 163.0 123.9 164.5 125.4 165.4 C126.8 166.3 128.3 167.3 129.4 167.0 C130.5 166.7 131.9 165.2 132.0 163.7 C132.1 162.1 130.7 159.8 130.0 157.7 C129.4 155.6 128.5 153.0 128.0 151.0 C127.6 149.0 127.4 147.5 127.4 145.7 C127.4 143.8 127.9 141.8 128.0 140.1 C128.1 138.3 136.9 135.8 128.0 135.0 C119.1 134.2 83.6 134.2 74.7 135.0 Z" fill="#FFA000" stroke="#111" stroke-width="0.75"/>
<path d="M95.4 135.0 C90.8 135.8 94.6 138.7 95.4 140.1 C96.1 141.4 98.2 142.2 100.0 143.0 C101.8 143.8 104.0 144.2 106.0 145.0 C108.0 145.8 110.4 147.1 112.0 147.7 C113.7 148.2 114.7 148.6 116.0 148.3 C117.4 148.1 118.9 147.2 120.0 146.3 C121.1 145.5 122.3 144.0 122.7 143.0 C123.1 142.0 122.7 141.4 122.7 140.1 C122.7 138.7 127.3 135.8 122.7 135.0 C118.1 134.2 99.9 134.2 95.4 135.0 Z" fill="#FFC03C"/>
<path d="M290.7 135.0 C274.3 135.8 290.8 138.7 292.0 140.1 C293.2 141.4 295.7 142.2 298.0 143.0 C300.3 143.8 302.9 145.0 306.0 145.0 C309.1 145.0 313.1 143.3 316.7 143.0 C320.2 142.7 324.0 143.2 327.4 143.0 C330.7 142.8 333.8 142.1 336.7 141.7 C339.6 141.3 342.7 140.7 344.7 140.6 C346.7 140.5 347.2 140.3 348.7 141.0 C350.3 141.7 352.3 143.4 354.0 145.0 C355.8 146.6 357.4 148.7 359.4 150.3 C361.4 152.0 363.8 153.5 366.0 155.0 C368.3 156.6 370.7 158.1 372.7 159.7 C374.7 161.2 376.2 162.9 378.1 164.3 C379.9 165.8 382.1 167.2 384.1 168.4 C386.1 169.5 389.1 176.6 390.1 171.0 C391.1 165.5 406.6 141.0 390.1 135.0 C373.5 129.0 307.0 134.2 290.7 135.0 Z" fill="#FFA000" stroke="#111" stroke-width="0.75"/>
<path d="M359.4 135.0 C354.3 135.8 358.7 138.5 359.4 140.1 C360.0 141.6 361.8 143.0 363.4 144.3 C364.9 145.7 366.9 147.0 368.7 148.3 C370.5 149.7 372.3 150.9 374.1 152.3 C375.8 153.8 377.7 155.8 379.4 157.0 C381.1 158.2 382.3 158.9 384.1 159.7 C385.8 160.5 389.1 165.8 390.1 161.7 C391.1 157.6 395.2 139.4 390.1 135.0 C384.9 130.6 364.5 134.2 359.4 135.0 Z" fill="#FFC03C"/>
<path d="M363.4 135.0 C358.9 135.8 362.7 138.7 363.4 140.1 C364.0 141.4 365.8 142.0 367.4 143.0 C368.9 144.0 370.9 145.2 372.7 146.3 C374.5 147.5 376.2 148.5 378.1 149.7 C379.9 150.9 382.1 152.8 384.1 153.7 C386.1 154.6 389.1 158.1 390.1 155.0 C391.1 151.9 394.5 138.3 390.1 135.0 C385.6 131.7 367.8 134.2 363.4 135.0 Z" fill="#FFE878"/>
<path d="M367.4 135.0 C363.6 135.8 366.7 138.7 367.4 140.1 C368.1 141.4 369.8 142.0 371.4 143.0 C372.9 144.0 375.2 145.2 376.7 146.3 C378.3 147.5 379.5 148.8 380.7 149.7 C381.9 150.6 382.5 151.1 384.1 151.7 C385.6 152.2 389.1 155.8 390.1 153.0 C391.1 150.2 393.8 138.0 390.1 135.0 C386.3 132.0 371.2 134.2 367.4 135.0 Z" fill="#78B9FF" stroke="#111" stroke-width="0.75"/>
<path d="M198.4 177.7 C198.7 176.7 199.4 175.1 200.4 174.4 C201.4 173.6 203.0 172.9 204.4 173.0 C205.7 173.1 207.5 174.2 208.4 175.0 C209.2 175.8 209.9 176.8 209.7 177.7 C209.5 178.6 208.4 179.7 207.0 180.4 C205.7 181.0 203.1 181.7 201.7 181.7 C200.2 181.7 198.9 181.0 198.4 180.4 C197.8 179.7 198.0 178.7 198.4 177.7 Z" fill="#FFC03C"/>
<path d="M348.0 163.7 C348.0 162.2 349.3 160.5 350.7 159.7 C352.2 158.9 354.6 158.7 356.7 159.0 C358.8 159.3 361.4 160.7 363.4 161.7 C365.4 162.7 367.3 163.8 368.7 165.0 C370.2 166.2 371.7 167.7 372.1 169.0 C372.4 170.4 371.9 172.2 370.7 173.0 C369.5 173.8 367.0 173.9 364.7 173.7 C362.4 173.5 359.0 172.6 356.7 171.7 C354.4 170.8 352.2 169.7 350.7 168.4 C349.3 167.0 348.0 165.1 348.0 163.7 Z" fill="#FF3200"/>
<path d="M253.7 193.7 C253.9 192.3 257.9 189.5 260.4 187.0 C262.8 184.6 266.2 180.7 268.4 179.0 C270.6 177.4 271.7 177.3 273.7 177.0 C275.7 176.8 278.6 177.1 280.4 177.4 C282.2 177.8 283.5 178.1 284.4 179.0 C285.3 180.0 286.0 181.6 285.7 183.0 C285.5 184.5 284.6 186.6 283.1 187.7 C281.5 188.8 278.4 188.3 276.4 189.7 C274.4 191.1 272.8 195.0 271.1 196.4 C269.3 197.7 267.7 197.8 265.7 197.7 C263.7 197.6 261.1 196.4 259.0 195.7 C257.0 195.0 253.5 195.1 253.7 193.7 Z" fill="#FF3200"/>
<path d="M209.0 204.4 C209.5 203.5 211.1 201.9 212.4 201.7 C213.6 201.5 215.0 202.1 216.4 203.0 C217.7 203.9 220.1 206.0 220.4 207.0 C220.6 208.0 219.0 208.7 217.7 209.0 C216.4 209.4 213.7 209.4 212.4 209.0 C211.0 208.7 210.2 207.8 209.7 207.0 C209.1 206.3 208.6 205.3 209.0 204.4 Z" fill="#FF3200"/>
<path d="M221.7 211.0 C222.4 210.8 224.8 213.8 225.0 215.0 C225.3 216.3 223.7 218.2 223.0 218.4 C222.4 218.6 221.3 217.6 221.0 216.4 C220.8 215.2 221.0 211.3 221.7 211.0 Z" fill="#FF3200"/>
<path d="M145.6 147.7 C145.8 147.2 147.0 146.8 147.4 147.0 C147.8 147.2 148.2 148.6 148.0 149.0 C147.9 149.5 146.8 149.9 146.4 149.7 C146.0 149.5 145.5 148.1 145.6 147.7 Z" fill="#FF3200"/>
<path d="M176.3 197.7 C177.2 195.5 177.0 190.3 177.7 188.4 C178.3 186.5 179.3 186.4 180.3 186.4 C181.3 186.4 183.0 186.9 183.7 188.4 C184.3 189.8 184.3 192.4 184.3 195.0 C184.3 197.7 183.7 201.7 183.7 204.4 C183.7 207.0 183.6 209.0 184.3 211.0 C185.1 213.0 186.8 214.6 188.3 216.4 C189.9 218.2 191.7 219.9 193.7 221.7 C195.7 223.5 198.4 225.5 200.4 227.0 C202.4 228.6 204.8 229.5 205.7 231.1 C206.6 232.6 206.1 234.6 205.7 236.4 C205.2 238.2 205.2 241.0 203.0 242.0 C200.8 243.0 193.2 241.4 192.3 242.3 C191.5 243.3 195.9 246.1 197.7 247.7 C199.5 249.2 201.5 250.6 203.0 251.7 C204.6 252.8 206.1 253.0 207.0 254.3 C207.9 255.7 207.5 258.3 208.4 259.7 C209.2 261.0 210.6 262.0 212.4 262.3 C214.1 262.7 217.2 261.5 219.0 261.7 C220.8 261.9 221.8 262.7 223.0 263.7 C224.3 264.7 225.5 266.1 226.4 267.7 C227.3 269.2 228.1 271.2 228.4 273.0 C228.6 274.8 228.1 276.7 227.7 278.4 C227.3 280.0 226.6 281.6 225.7 283.0 C224.8 284.5 223.7 285.9 222.4 287.0 C221.0 288.1 219.4 289.1 217.7 289.7 C216.0 290.3 214.1 290.5 212.4 290.4 C210.6 290.3 208.6 289.9 207.0 289.0 C205.5 288.1 204.0 286.4 203.0 285.0 C202.1 283.7 201.8 282.8 201.4 281.0 C201.1 279.2 201.5 276.4 201.0 274.4 C200.5 272.4 199.6 270.8 198.4 269.0 C197.1 267.2 195.6 265.5 193.7 263.7 C191.8 261.9 189.2 260.3 187.0 258.3 C184.8 256.4 182.6 254.0 180.3 251.9 C178.1 249.9 175.7 247.7 173.7 246.1 C171.7 244.5 170.0 243.7 168.3 242.3 C166.6 240.9 164.9 239.6 163.4 237.7 C161.9 235.8 160.6 233.5 159.4 231.1 C158.2 228.6 156.8 225.7 156.1 223.0 C155.3 220.4 154.5 217.3 155.0 215.0 C155.4 212.8 156.8 211.3 158.7 209.7 C160.7 208.2 164.3 207.0 166.7 205.7 C169.2 204.4 173.3 201.9 173.4 201.7 C173.4 201.5 167.2 204.4 167.0 204.4 C166.8 204.4 170.8 202.8 172.3 201.7 C173.9 200.6 175.4 199.9 176.3 197.7 Z" fill="#FF3200"/>
<path d="M209.7 277.0 C209.6 275.2 210.1 273.1 211.0 271.7 C211.9 270.2 213.6 268.8 215.0 268.4 C216.5 267.9 218.4 268.4 219.7 268.8 C221.0 269.1 222.2 269.2 223.0 270.4 C223.9 271.5 224.7 273.9 224.6 275.7 C224.6 277.5 223.6 279.8 222.8 281.0 C221.9 282.2 221.0 282.3 219.7 282.8 C218.4 283.2 216.4 284.0 215.0 284.0 C213.7 283.9 212.6 283.5 211.7 282.4 C210.8 281.2 209.8 278.8 209.7 277.0 Z" fill="#E61400"/>
<path d="M187.0 247.7 C187.6 247.1 190.2 247.5 191.7 248.3 C193.1 249.2 195.0 251.8 195.7 253.0 C196.3 254.2 196.3 255.3 195.7 255.7 C195.0 256.0 192.9 255.7 191.7 255.0 C190.5 254.3 189.1 252.9 188.3 251.7 C187.6 250.5 186.5 248.2 187.0 247.7 Z" fill="#E61400"/>
<path d="M159.4 163.7 C161.4 163.5 163.8 164.5 165.4 165.7 C166.9 166.9 168.3 169.2 168.7 171.0 C169.2 172.8 168.7 174.5 168.1 176.4 C167.4 178.2 166.1 180.4 164.7 182.4 C163.4 184.4 161.6 186.2 160.1 188.4 C158.5 190.5 156.7 192.9 155.4 195.0 C154.1 197.1 153.0 198.9 152.0 201.0 C151.1 203.1 150.0 205.4 149.6 207.7 C149.2 210.0 149.2 212.5 149.6 215.0 C150.0 217.6 151.1 220.5 152.0 223.0 C153.0 225.6 154.2 227.9 155.4 230.4 C156.6 232.8 158.3 235.8 159.4 237.7 C160.5 239.7 160.2 241.3 162.1 242.0 C163.9 242.6 168.1 240.7 170.3 241.7 C172.6 242.6 173.7 245.7 175.7 247.7 C177.7 249.7 180.1 251.6 182.3 253.7 C184.6 255.8 187.0 258.2 189.0 260.3 C191.0 262.5 193.0 264.2 194.3 266.3 C195.7 268.5 196.5 270.4 197.0 273.0 C197.6 275.7 197.7 279.0 197.7 282.4 C197.7 285.7 197.3 289.9 197.0 293.0 C196.7 296.1 196.2 298.4 195.7 301.0 C195.1 303.7 194.5 306.4 193.7 309.0 C192.9 311.7 191.8 314.4 191.0 317.0 C190.2 319.7 189.5 321.9 189.0 325.0 C188.6 328.2 188.5 331.9 188.3 335.7 C188.2 339.5 191.9 345.7 188.3 347.7 C184.8 349.7 170.6 353.7 167.0 347.7 C163.4 341.7 167.5 323.5 167.0 311.7 C166.5 299.9 165.4 283.9 164.1 277.0 C162.7 270.1 160.7 273.0 158.7 270.4 C156.7 267.7 154.3 264.6 152.0 261.0 C149.8 257.5 147.4 253.0 145.4 249.0 C143.4 245.0 141.2 239.5 140.0 237.0 C138.9 234.5 139.5 235.6 138.7 233.7 C137.9 231.8 136.2 228.6 135.4 225.7 C134.6 222.8 134.2 219.5 134.0 216.4 C133.9 213.3 134.2 209.7 134.7 207.0 C135.3 204.4 136.3 202.5 137.4 200.4 C138.5 198.3 140.0 196.4 141.4 194.4 C142.7 192.4 144.4 190.5 145.4 188.4 C146.4 186.2 146.8 184.1 147.4 181.7 C147.9 179.2 147.7 176.1 148.7 173.7 C149.7 171.2 151.6 168.7 153.4 167.0 C155.2 165.3 157.4 163.9 159.4 163.7 Z" fill="#FFC03C"/>
<path d="M168.3 281.0 C169.0 280.0 170.8 280.1 171.4 281.7 C172.0 283.2 172.1 287.4 172.1 290.4 C172.1 293.4 172.1 298.8 171.4 299.7 C170.7 300.6 168.4 297.7 167.8 295.7 C167.1 293.7 167.4 290.1 167.5 287.7 C167.6 285.2 167.7 282.0 168.3 281.0 Z" fill="#FFA000"/>
<path d="M158.7 170.4 C160.2 169.9 162.3 170.5 163.4 171.0 C164.5 171.6 165.3 172.4 165.4 173.7 C165.5 175.0 164.9 177.2 164.1 179.0 C163.2 180.8 161.4 182.6 160.1 184.4 C158.7 186.1 157.4 187.9 156.1 189.7 C154.7 191.5 153.3 193.3 152.0 195.0 C150.8 196.8 149.6 198.4 148.7 200.4 C147.8 202.4 147.0 204.6 146.7 207.0 C146.4 209.5 146.3 212.4 146.7 215.0 C147.2 217.7 148.3 220.4 149.4 223.0 C150.5 225.7 152.0 228.6 153.4 231.1 C154.7 233.5 156.3 235.9 157.4 237.7 C158.5 239.5 158.5 240.4 160.1 242.0 C161.7 243.5 165.0 245.4 167.0 247.0 C169.0 248.6 170.3 250.0 172.3 251.7 C174.3 253.3 176.8 255.0 179.0 257.0 C181.2 259.0 183.6 261.6 185.7 263.7 C187.8 265.8 190.2 267.7 191.7 269.7 C193.1 271.7 193.8 273.4 194.3 275.7 C194.9 278.0 195.0 280.8 195.0 283.7 C195.0 286.6 194.7 290.1 194.3 293.0 C194.0 295.9 193.6 298.4 193.0 301.0 C192.5 303.7 191.8 306.4 191.0 309.0 C190.2 311.7 189.1 314.4 188.3 317.0 C187.6 319.7 186.8 322.4 186.3 325.0 C185.9 327.7 185.8 329.9 185.7 333.1 C185.6 336.2 185.9 340.9 185.7 344.0 C185.5 347.1 187.5 350.4 184.3 351.7 C181.2 353.0 169.9 355.3 167.0 351.7 C164.1 348.2 166.8 335.3 167.0 330.4 C167.2 325.5 167.8 325.5 168.3 322.4 C168.9 319.3 169.6 315.3 170.3 311.7 C171.1 308.1 172.3 304.6 173.0 301.0 C173.7 297.5 174.2 294.4 174.3 290.4 C174.4 286.4 174.2 280.4 173.7 277.0 C173.1 273.7 172.1 271.9 171.0 270.4 C169.9 268.8 168.8 269.0 167.0 267.7 C165.2 266.3 162.5 264.6 160.1 262.3 C157.6 260.1 154.3 257.2 152.0 254.3 C149.8 251.5 148.3 247.9 146.7 245.0 C145.2 242.1 143.3 238.7 142.7 237.0 C142.2 235.3 143.8 236.7 143.4 235.1 C142.9 233.4 141.0 229.7 140.0 227.0 C139.0 224.4 137.8 221.5 137.4 219.0 C136.9 216.6 137.2 214.8 137.4 212.4 C137.6 209.9 138.0 206.8 138.7 204.4 C139.4 201.9 140.3 199.7 141.4 197.7 C142.5 195.7 144.0 194.4 145.4 192.4 C146.7 190.4 148.3 187.9 149.4 185.7 C150.5 183.5 151.2 181.0 152.0 179.0 C152.9 177.0 153.6 175.1 154.7 173.7 C155.8 172.2 157.3 170.8 158.7 170.4 Z" fill="#FFE878"/>
<path d="M60.0 180.4 C60.7 180.5 61.8 181.1 64.0 181.0 C66.2 180.9 70.7 179.5 73.3 179.7 C76.0 179.9 77.8 181.5 80.0 182.4 C82.2 183.2 83.3 184.1 86.7 185.0 C90.0 185.9 95.6 186.9 100.0 187.7 C104.5 188.5 109.4 188.9 113.4 189.7 C117.4 190.5 121.3 191.7 124.0 192.4 C126.8 193.0 128.3 193.8 130.0 193.7 C131.8 193.6 133.3 192.8 134.7 191.7 C136.2 190.6 137.5 188.9 138.7 187.0 C139.9 185.1 141.3 182.6 142.0 180.4 C142.8 178.1 142.8 175.6 143.4 173.7 C143.9 171.8 144.4 170.4 145.4 169.0 C146.4 167.7 147.8 166.6 149.4 165.7 C150.9 164.8 153.3 164.5 154.7 163.7 C156.2 162.9 157.3 162.0 158.1 161.0 C158.8 160.0 158.4 158.7 159.4 157.7 C160.4 156.7 162.2 155.7 164.1 155.0 C165.9 154.3 168.9 153.9 170.7 153.7 C172.6 153.5 173.4 153.5 175.0 153.7 C176.6 153.9 178.3 154.1 180.3 155.0 C182.3 155.9 184.8 158.0 187.0 159.0 C189.2 160.0 191.5 160.3 193.7 161.0 C195.9 161.7 198.1 162.1 200.4 163.0 C202.6 163.9 205.0 165.1 207.0 166.4 C209.0 167.6 210.6 169.0 212.4 170.4 C214.1 171.7 215.9 173.1 217.7 174.4 C219.5 175.6 221.0 176.9 223.0 177.7 C225.0 178.5 227.7 178.2 229.7 179.0 C231.7 179.8 233.6 180.8 235.0 182.4 C236.5 183.9 237.6 186.2 238.4 188.4 C239.1 190.5 239.3 192.6 239.7 195.0 C240.2 197.5 241.6 201.3 241.0 203.0 C240.5 204.8 238.0 205.8 236.4 205.7 C234.7 205.6 233.0 203.6 231.0 202.4 C229.0 201.1 226.4 199.6 224.4 198.4 C222.4 197.1 220.8 196.0 219.0 195.0 C217.2 194.0 215.2 193.4 213.7 192.4 C212.1 191.4 211.2 189.7 209.7 189.0 C208.1 188.4 206.1 188.0 204.4 188.4 C202.6 188.7 200.6 190.1 199.0 191.0 C197.5 191.9 196.3 193.7 195.0 193.7 C193.7 193.7 192.1 192.4 191.0 191.0 C189.9 189.7 189.2 187.7 188.3 185.7 C187.5 183.7 186.4 181.0 185.7 179.0 C185.0 177.0 185.2 174.9 184.1 173.7 C183.0 172.5 180.9 171.9 179.0 171.7 C177.2 171.5 174.6 171.6 173.0 172.4 C171.4 173.1 170.7 174.8 169.7 176.4 C168.7 177.9 167.5 180.5 167.0 181.7 C166.5 182.9 167.9 182.1 166.7 183.7 C165.6 185.2 162.1 188.6 160.1 191.0 C158.1 193.5 156.2 195.9 154.7 198.4 C153.3 200.8 152.0 203.1 151.4 205.7 C150.7 208.3 150.4 211.0 150.7 213.7 C151.0 216.4 152.3 218.8 153.4 221.7 C154.5 224.6 156.1 228.4 157.4 231.1 C158.7 233.7 160.1 235.9 161.4 237.7 C162.7 239.5 164.5 241.2 165.4 242.0 C166.3 242.8 165.8 241.5 167.0 242.3 C168.2 243.2 170.3 245.2 172.3 247.0 C174.3 248.8 176.8 251.0 179.0 253.0 C181.2 255.0 183.5 257.2 185.7 259.0 C187.9 260.8 190.5 262.1 192.3 263.7 C194.2 265.2 195.8 266.6 197.0 268.4 C198.2 270.1 199.1 272.0 199.7 274.4 C200.2 276.7 200.4 279.7 200.4 282.4 C200.4 285.0 200.0 287.9 199.7 290.4 C199.4 292.8 198.8 294.8 198.4 297.0 C197.9 299.3 197.5 301.5 197.0 303.7 C196.6 305.9 195.7 308.5 195.7 310.4 C195.7 312.3 196.0 314.5 197.0 315.0 C198.0 315.6 200.2 315.2 201.7 313.7 C203.1 312.3 204.4 308.3 205.7 306.4 C207.0 304.5 208.1 303.5 209.7 302.4 C211.2 301.3 213.2 300.5 215.0 299.7 C216.8 298.9 218.6 298.6 220.4 297.7 C222.1 296.8 223.9 295.6 225.7 294.4 C227.5 293.1 229.3 291.6 231.0 290.4 C232.8 289.1 234.6 288.1 236.4 287.0 C238.1 285.9 240.2 284.9 241.7 283.7 C243.3 282.5 244.9 280.8 245.7 279.7 C246.5 278.6 246.8 277.8 246.4 277.0 C245.9 276.2 244.5 275.6 243.0 275.0 C241.6 274.5 239.3 274.5 237.7 273.7 C236.1 272.9 234.8 271.8 233.7 270.4 C232.6 268.9 231.9 266.8 231.0 265.0 C230.1 263.2 229.1 261.5 228.4 259.7 C227.6 257.9 227.0 256.3 226.4 254.3 C225.7 252.3 224.8 249.9 224.4 247.7 C223.9 245.4 223.8 242.9 223.7 241.0 C223.6 239.1 223.6 237.7 224.0 236.4 C224.3 235.1 224.6 233.7 225.7 233.1 C226.8 232.4 229.1 232.1 230.4 232.4 C231.6 232.7 232.5 233.7 233.0 235.1 C233.5 236.4 233.1 239.2 233.3 240.4 C233.5 241.6 233.9 241.1 234.4 242.3 C234.9 243.5 235.5 246.1 236.4 247.7 C237.3 249.2 238.5 250.8 239.7 251.7 C240.9 252.6 242.3 253.2 243.7 253.0 C245.2 252.8 247.0 251.7 248.4 250.3 C249.7 249.0 250.8 246.7 251.7 245.0 C252.6 243.3 253.4 242.3 254.0 240.4 C254.5 238.5 254.6 235.9 255.0 233.7 C255.4 231.5 255.5 228.6 256.4 227.0 C257.3 225.5 258.7 224.9 260.4 224.4 C262.1 223.8 264.6 223.9 266.4 223.7 C268.2 223.5 270.1 223.8 271.1 223.0 C272.1 222.3 271.7 220.4 272.4 219.0 C273.1 217.7 273.7 216.0 275.1 215.0 C276.4 214.0 278.6 212.8 280.7 213.0 C282.7 213.3 285.1 215.2 287.3 216.4 C289.6 217.6 292.2 218.8 294.0 220.4 C295.8 221.9 297.2 223.9 298.0 225.7 C298.8 227.5 298.9 229.1 298.7 231.1 C298.5 233.1 297.5 236.2 296.7 237.7 C295.9 239.3 295.0 239.1 294.0 240.3 C293.0 241.5 291.6 243.1 290.7 245.0 C289.8 246.9 289.2 248.8 288.7 251.7 C288.1 254.6 287.9 258.8 287.3 262.3 C286.8 265.9 286.0 269.7 285.3 273.0 C284.7 276.4 283.9 279.5 283.3 282.4 C282.8 285.2 281.8 288.4 282.0 290.4 C282.2 292.4 283.3 293.7 284.7 294.4 C286.0 295.0 288.0 294.7 290.0 294.4 C292.0 294.0 294.3 293.0 296.7 292.4 C299.0 291.7 301.8 290.8 304.0 290.4 C306.2 289.9 308.1 290.1 310.0 289.7 C311.9 289.3 314.7 288.8 315.4 287.7 C316.0 286.6 314.6 284.6 314.0 283.0 C313.5 281.5 311.9 279.9 312.0 278.4 C312.1 276.8 313.8 275.2 314.7 273.7 C315.6 272.1 316.8 270.9 317.4 269.0 C317.9 267.1 317.6 264.6 318.0 262.3 C318.5 260.1 318.9 257.7 320.0 255.7 C321.1 253.7 322.8 251.9 324.7 250.3 C326.6 248.8 328.7 247.8 331.4 246.3 C334.0 244.9 337.8 242.9 340.7 241.7 C343.6 240.5 346.0 239.9 348.7 239.1 C351.4 238.2 353.8 237.5 356.7 236.4 C359.6 235.3 362.9 233.7 366.0 232.4 C369.2 231.1 371.8 229.7 375.4 228.4 C378.9 227.1 385.4 225.3 387.4 224.6" fill="none" stroke="#111" stroke-width="0.75"/>
<path d="M60.0 350.3 C61.5 350.2 62.2 350.0 64.0 349.7 C65.8 349.3 68.4 349.2 70.7 348.3 C72.9 347.4 75.5 345.9 77.3 344.3 C79.2 342.8 80.5 340.2 82.0 339.0 C83.6 337.8 84.6 338.0 86.7 337.1 C88.8 336.1 91.6 333.9 94.7 333.1 C97.8 332.2 101.8 332.0 105.4 331.7 C108.9 331.5 112.9 331.8 116.0 331.5 C119.1 331.1 121.6 330.8 124.0 329.7 C126.5 328.6 128.5 326.8 130.7 325.0 C132.9 323.3 135.2 321.0 137.4 319.0 C139.6 317.0 142.4 314.9 144.0 313.0 C145.7 311.2 146.7 309.4 147.4 307.7 C148.1 306.0 147.5 304.1 148.3 303.0 C149.1 301.9 150.8 300.8 152.0 301.0 C153.3 301.3 155.2 302.6 156.1 304.4 C156.9 306.1 156.7 309.1 157.4 311.7 C158.1 314.3 158.9 317.0 160.1 319.7 C161.2 322.4 162.9 325.5 164.1 327.7 C165.2 329.9 165.9 331.2 166.7 333.1 C167.5 334.9 168.3 336.7 169.0 339.0 C169.7 341.3 170.2 344.1 171.0 347.0 C171.8 349.9 172.8 353.2 173.7 356.3 C174.6 359.5 175.4 362.6 176.3 365.7 C177.2 368.8 177.9 372.4 179.0 375.0 C180.1 377.7 181.5 379.8 183.0 381.7 C184.6 383.6 186.6 385.2 188.3 386.4 C190.1 387.5 191.7 388.2 193.7 388.4 C195.7 388.5 198.1 387.9 200.4 387.0 C202.6 386.1 205.1 384.6 207.0 383.0 C208.9 381.5 210.6 379.7 211.7 377.7 C212.8 375.7 213.5 373.5 213.7 371.0 C213.9 368.6 213.5 365.5 213.0 363.0 C212.6 360.6 211.9 358.3 211.0 356.3 C210.1 354.3 208.6 352.7 207.7 351.0 C206.8 349.3 205.8 347.8 205.7 346.3 C205.6 344.9 206.1 343.4 207.0 342.3 C207.9 341.2 209.2 340.2 211.0 339.7 C212.8 339.1 215.5 339.2 217.7 339.1 C219.9 339.0 222.1 338.8 224.4 339.1 C226.6 339.3 229.4 339.7 231.0 340.4 C232.7 341.1 232.6 342.0 234.4 343.1 C236.1 344.2 239.4 345.8 241.7 347.0 C244.0 348.2 245.7 349.8 248.4 350.3 C251.0 350.9 254.8 350.6 257.7 350.3 C260.6 350.1 263.1 349.4 265.7 349.0 C268.4 348.6 271.3 348.3 273.7 348.1 C276.1 347.8 277.3 347.5 280.0 347.7 C282.7 347.8 286.6 348.6 290.0 349.0 C293.5 349.5 296.7 350.0 300.7 350.3 C304.7 350.7 309.6 350.9 314.0 351.3 C318.5 351.6 322.9 352.0 327.4 352.3 C331.8 352.7 336.3 353.0 340.7 353.4 C345.1 353.8 349.6 354.5 354.0 354.7 C358.5 355.0 363.4 355.1 367.4 355.0 C371.4 354.9 374.7 354.4 378.1 353.9 C381.4 353.5 385.1 352.4 387.4 352.1 C389.7 351.8 391.2 335.8 392.0 352.1 C392.8 368.4 448.2 433.7 392.0 450.0 C335.8 466.3 111.2 466.6 55.0 450.0 C-1.2 433.4 54.2 366.9 55.0 350.3 C55.8 333.7 58.5 350.5 60.0 350.3 Z" fill="#78B9FF" stroke="#111" stroke-width="0.75"/>
<path d="M225.7 330.4 C225.7 329.9 227.1 329.2 227.7 329.3 C228.3 329.4 229.4 330.3 229.4 330.8 C229.4 331.2 228.3 332.1 227.7 332.0 C227.1 331.9 225.7 330.8 225.7 330.4 Z" fill="#78B9FF" stroke="#111" stroke-width="0.75"/>
<path d="M60.0 365.4 C63.1 365.1 68.9 364.3 73.3 363.7 C77.8 363.1 82.2 362.7 86.7 361.7 C91.1 360.7 95.6 359.0 100.0 357.7 C104.5 356.3 108.9 354.6 113.4 353.7 C117.8 352.8 122.3 352.8 126.7 352.3 C131.1 351.9 136.0 351.6 140.0 351.0 C144.0 350.5 147.8 349.6 150.7 349.0 C153.6 348.4 155.5 348.0 157.4 347.3 C159.3 346.5 160.9 345.7 162.1 344.3 C163.2 343.0 163.5 338.1 164.1 339.0 C164.7 339.9 165.1 345.2 165.7 349.7 C166.3 354.1 167.0 361.2 167.7 365.7 C168.3 370.1 168.7 373.0 169.7 376.4 C170.7 379.7 172.1 382.8 173.7 385.7 C175.2 388.6 177.0 391.6 179.0 393.7 C181.0 395.8 183.2 397.5 185.7 398.4 C188.1 399.3 191.0 399.4 193.7 399.0 C196.3 398.7 199.0 397.5 201.7 396.4 C204.4 395.3 207.0 393.9 209.7 392.4 C212.4 390.8 215.5 389.0 217.7 387.0 C219.9 385.0 221.8 382.8 223.0 380.4 C224.3 377.9 224.7 375.0 225.0 372.4 C225.4 369.7 224.8 366.8 225.0 364.3 C225.3 361.9 225.6 359.1 226.4 357.7 C227.1 356.2 228.5 355.5 229.7 355.7 C230.9 355.9 232.1 357.6 233.7 359.0 C235.3 360.5 237.0 363.1 239.0 364.3 C241.0 365.6 243.3 366.2 245.7 366.3 C248.2 366.5 250.8 365.8 253.7 365.0 C256.6 364.2 259.9 362.6 263.1 361.7 C266.2 360.8 270.6 360.1 272.4 359.7 C274.2 359.2 271.5 359.0 274.0 359.0 C276.5 359.0 282.9 359.7 287.3 359.7 C291.8 359.7 296.2 359.3 300.7 359.0 C305.1 358.7 309.6 357.7 314.0 357.7 C318.5 357.6 322.9 358.3 327.4 358.7 C331.8 359.2 336.3 359.7 340.7 360.3 C345.1 360.9 349.6 361.8 354.0 362.3 C358.5 362.9 363.4 363.2 367.4 363.7 C371.4 364.1 374.7 364.8 378.1 365.0 C381.4 365.2 385.1 365.0 387.4 365.0 C389.7 365.0 391.2 350.8 392.0 365.0 C392.8 379.2 448.2 435.8 392.0 450.0 C335.8 464.2 111.2 464.1 55.0 450.0 C-1.2 435.9 54.2 379.5 55.0 365.4 C55.8 351.3 56.9 365.7 60.0 365.4 Z" fill="#3C96F5"/>
<path d="M60.0 380.1 C63.1 380.4 68.9 381.3 73.3 381.7 C77.8 382.1 82.2 382.5 86.7 382.4 C91.1 382.2 95.6 381.7 100.0 381.0 C104.5 380.4 109.6 379.0 113.4 378.4 C117.1 377.7 119.6 377.1 122.7 377.0 C125.8 376.9 129.1 377.2 132.0 377.7 C134.9 378.1 137.6 379.2 140.0 379.7 C142.5 380.1 144.5 380.7 146.7 380.4 C148.9 380.0 151.4 378.8 153.4 377.7 C155.4 376.6 157.1 374.5 158.7 373.7 C160.4 372.9 162.1 372.1 163.4 373.0 C164.7 373.9 165.7 376.2 166.7 379.0 C167.7 381.8 169.2 386.9 169.4 389.7 C169.5 392.5 167.2 393.9 167.7 395.7 C168.2 397.5 170.4 398.7 172.3 400.4 C174.2 402.0 176.6 404.3 179.0 405.7 C181.5 407.1 184.3 408.5 187.0 409.0 C189.7 409.6 192.6 409.6 195.0 409.0 C197.5 408.5 199.5 407.1 201.7 405.7 C203.9 404.3 206.1 402.1 208.4 400.4 C210.6 398.6 212.8 396.5 215.0 395.0 C217.2 393.6 219.3 392.5 221.7 391.7 C224.1 390.9 226.8 390.4 229.7 390.4 C232.6 390.4 235.7 391.3 239.0 391.7 C242.4 392.1 246.2 393.0 249.7 393.0 C253.3 393.0 256.8 392.1 260.4 391.7 C263.9 391.3 268.8 390.6 271.1 390.4 C273.3 390.1 272.2 390.7 274.0 390.4 C275.8 390.0 279.3 389.4 282.0 388.4 C284.7 387.4 287.6 386.1 290.0 384.4 C292.5 382.6 294.7 379.6 296.7 377.7 C298.7 375.8 299.8 374.2 302.0 373.0 C304.2 371.8 306.9 371.1 310.0 370.4 C313.1 369.6 316.7 368.8 320.7 368.3 C324.7 367.9 329.6 367.6 334.0 367.7 C338.5 367.8 342.9 368.6 347.4 369.0 C351.8 369.5 356.3 370.0 360.7 370.4 C365.2 370.7 369.6 370.9 374.1 371.0 C378.5 371.1 384.4 371.0 387.4 371.0 C390.4 371.0 391.2 357.9 392.0 371.0 C392.8 384.2 448.2 436.8 392.0 450.0 C335.8 463.2 111.2 461.7 55.0 450.0 C-1.2 438.3 54.2 391.7 55.0 380.1 C55.8 368.4 56.9 379.8 60.0 380.1 Z" fill="#1E6EEB"/>
<path d="M60.0 405.0 C63.1 405.8 68.9 408.3 73.3 409.7 C77.8 411.1 82.2 412.4 86.7 413.7 C91.1 415.0 95.6 416.6 100.0 417.7 C104.5 418.8 109.4 419.5 113.4 420.4 C117.4 421.3 121.4 422.5 124.0 423.0 C126.7 423.6 127.9 424.4 129.4 423.7 C130.8 423.0 131.4 420.4 132.7 419.0 C134.0 417.7 135.3 416.6 137.4 415.7 C139.5 414.8 142.7 414.9 145.4 413.7 C148.0 412.5 151.2 409.9 153.4 408.4 C155.6 406.8 156.7 406.1 158.7 404.4 C160.7 402.6 163.9 398.8 165.4 397.7 C166.9 396.6 166.7 396.4 167.7 397.7 C168.6 399.0 169.8 402.8 171.0 405.7 C172.2 408.6 172.8 412.9 175.0 415.0 C177.2 417.2 181.2 417.9 184.3 418.4 C187.5 418.8 190.6 418.2 193.7 417.7 C196.8 417.3 199.9 416.6 203.0 415.7 C206.1 414.8 209.5 413.5 212.4 412.4 C215.2 411.3 217.7 410.1 220.4 409.0 C223.0 407.9 225.7 406.7 228.4 405.7 C231.0 404.7 233.3 403.7 236.4 403.0 C239.5 402.4 243.0 402.0 247.0 401.7 C251.0 401.4 256.4 401.4 260.4 401.0 C264.4 400.7 268.8 400.3 271.1 399.7 C273.3 399.1 271.7 397.9 274.0 397.7 C276.3 397.5 281.1 398.6 284.7 398.4 C288.2 398.1 292.0 397.4 295.3 396.4 C298.7 395.4 301.6 393.8 304.7 392.4 C307.8 390.9 310.9 389.1 314.0 387.7 C317.1 386.2 320.2 384.9 323.4 383.7 C326.5 382.5 328.9 381.2 332.7 380.4 C336.5 379.5 341.6 378.9 346.0 378.4 C350.5 377.8 354.9 377.5 359.4 377.0 C363.8 376.6 368.1 376.1 372.7 375.7 C377.4 375.3 384.2 374.7 387.4 374.5 C390.6 374.3 391.2 361.9 392.0 374.5 C392.8 387.1 448.2 437.4 392.0 450.0 C335.8 462.6 111.2 457.5 55.0 450.0 C-1.2 442.5 54.2 412.5 55.0 405.0 C55.8 397.5 56.9 404.3 60.0 405.0 Z" fill="#1464D2"/>
<path d="M192.3 437.1 C193.9 433.9 198.6 432.8 201.7 431.0 C204.8 429.3 207.9 427.7 211.0 426.4 C214.1 425.0 217.2 423.9 220.4 423.0 C223.5 422.2 226.4 421.6 229.7 421.0 C233.0 420.5 236.6 420.3 240.4 419.7 C244.2 419.2 248.6 418.4 252.4 417.7 C256.2 417.0 259.7 416.3 263.1 415.7 C266.4 415.2 270.6 414.7 272.4 414.4 C274.2 414.0 272.0 413.6 274.0 413.7 C276.0 413.8 281.3 414.7 284.7 415.0 C288.0 415.4 291.3 416.0 294.0 415.7 C296.7 415.4 298.7 414.3 300.7 413.0 C302.7 411.8 304.0 410.0 306.0 408.4 C308.0 406.7 310.2 404.7 312.7 403.0 C315.1 401.4 317.6 399.8 320.7 398.4 C323.8 396.9 327.8 395.4 331.4 394.4 C334.9 393.4 338.3 392.8 342.0 392.4 C345.8 391.9 349.8 392.0 354.0 391.7 C358.3 391.4 363.4 390.9 367.4 390.4 C371.4 389.8 374.7 389.1 378.1 388.4 C381.4 387.6 385.1 386.4 387.4 386.0 C389.7 385.6 391.2 375.3 392.0 386.0 C392.8 396.6 425.3 439.3 392.0 450.0 C358.7 460.7 225.6 452.2 192.3 450.0 C159.1 447.8 190.8 440.2 192.3 437.1 Z" fill="#1450C8"/>
<path d="M306.7 437.1 C307.9 434.2 311.8 434.5 314.0 433.1 C316.2 431.6 318.8 430.0 320.0 428.4 C321.2 426.7 320.8 424.9 321.4 423.0 C321.9 421.2 322.4 418.5 323.4 417.0 C324.4 415.6 325.6 414.8 327.4 414.4 C329.1 413.9 330.9 414.2 334.0 414.4 C337.1 414.6 341.8 415.3 346.0 415.7 C350.3 416.2 354.9 416.8 359.4 417.0 C363.8 417.3 368.1 416.9 372.7 417.0 C377.4 417.2 384.2 417.8 387.4 418.0 C390.6 418.1 391.2 412.6 392.0 418.0 C392.8 423.3 406.2 444.7 392.0 450.0 C377.8 455.3 320.9 452.2 306.7 450.0 C292.5 447.8 305.5 439.9 306.7 437.1 Z" fill="#4C3CC8" stroke="#111" stroke-width="0.75"/>
<path d="M248.4 437.1 C249.3 434.2 251.7 434.2 253.7 433.1 C255.7 431.9 258.2 431.0 260.4 430.4 C262.6 429.8 264.8 429.3 267.1 429.4 C269.3 429.6 272.6 430.8 273.7 431.0 C274.9 431.3 273.3 430.7 274.0 431.0 C274.7 431.4 276.8 432.0 278.0 433.1 C279.2 434.1 280.8 434.2 281.3 437.1 C281.9 439.9 286.8 447.8 281.3 450.0 C275.8 452.2 253.9 452.2 248.4 450.0 C242.9 447.8 247.5 439.9 248.4 437.1 Z" fill="#4C3CC8" stroke="#111" stroke-width="0.75"/>
<use href="#map"/>
<rect x="157.4" y="148.1" width="12.2" height="9.2" fill="#fff"/>
<text x="163.5" y="156.5" class="cl" text-anchor="middle">24</text>
<rect x="174.0" y="165.4" width="12.2" height="9.2" fill="#fff"/>
<text x="180.1" y="173.8" class="cl" text-anchor="middle">24</text>
<rect x="254.1" y="218.1" width="12.2" height="9.2" fill="#fff"/>
<text x="260.2" y="226.5" class="cl" text-anchor="middle">24</text>
<rect x="191.0" y="312.4" width="12.2" height="9.2" fill="#fff"/>
<text x="197.1" y="320.8" class="cl" text-anchor="middle">24</text>
<rect x="304.0" y="287.1" width="12.2" height="9.2" fill="#fff"/>
<text x="310.1" y="295.5" class="cl" text-anchor="middle">24</text>
<rect x="144.0" y="295.1" width="12.2" height="9.2" fill="#fff"/>
<text x="150.1" y="303.5" class="cl" text-anchor="middle">15</text>
<rect x="267.5" y="343.1" width="12.2" height="9.2" fill="#fff"/>
<text x="273.6" y="351.5" class="cl" text-anchor="middle">15</text>
</g>
<rect x="63.1" y="139.2" width="320.8" height="296.9" fill="none" stroke="#000" stroke-width="1.8"/>
<text x="58.3" y="142.6" class="ax" text-anchor="end" xml:space="preserve">15N</text>
<text x="58.3" y="162.4" class="ax" text-anchor="end" xml:space="preserve">10N</text>
<text x="58.3" y="182.2" class="ax" text-anchor="end" xml:space="preserve">5N</text>
<text x="58.3" y="202.0" class="ax" text-anchor="end" xml:space="preserve">EQ</text>
<text x="58.3" y="221.8" class="ax" text-anchor="end" xml:space="preserve">5S</text>
<text x="58.3" y="241.6" class="ax" text-anchor="end" xml:space="preserve">10S</text>
<text x="58.3" y="261.4" class="ax" text-anchor="end" xml:space="preserve">15S</text>
<text x="58.3" y="281.2" class="ax" text-anchor="end" xml:space="preserve">20S</text>
<text x="58.3" y="300.9" class="ax" text-anchor="end" xml:space="preserve">25S</text>
<text x="58.3" y="320.7" class="ax" text-anchor="end" xml:space="preserve">30S</text>
<text x="58.3" y="340.5" class="ax" text-anchor="end" xml:space="preserve">35S</text>
<text x="58.3" y="360.3" class="ax" text-anchor="end" xml:space="preserve">40S</text>
<text x="58.3" y="380.1" class="ax" text-anchor="end" xml:space="preserve">45S</text>
<text x="58.3" y="399.9" class="ax" text-anchor="end" xml:space="preserve">50S</text>
<text x="58.3" y="419.7" class="ax" text-anchor="end" xml:space="preserve">55S</text>
<text x="58.3" y="439.5" class="ax" text-anchor="end" xml:space="preserve">60S</text>
<text x="68.5" y="447.5" class="ax" text-anchor="middle" textLength="21.0" lengthAdjust="spacingAndGlyphs">100W</text>
<text x="104.0" y="447.5" class="ax" text-anchor="middle" textLength="17.0" lengthAdjust="spacingAndGlyphs">90W</text>
<text x="139.6" y="447.5" class="ax" text-anchor="middle" textLength="17.0" lengthAdjust="spacingAndGlyphs">80W</text>
<text x="175.2" y="447.5" class="ax" text-anchor="middle" textLength="17.0" lengthAdjust="spacingAndGlyphs">70W</text>
<text x="210.7" y="447.5" class="ax" text-anchor="middle" textLength="17.0" lengthAdjust="spacingAndGlyphs">60W</text>
<text x="246.2" y="447.5" class="ax" text-anchor="middle" textLength="17.0" lengthAdjust="spacingAndGlyphs">50W</text>
<text x="281.8" y="447.5" class="ax" text-anchor="middle" textLength="17.0" lengthAdjust="spacingAndGlyphs">40W</text>
<text x="317.4" y="447.5" class="ax" text-anchor="middle" textLength="17.0" lengthAdjust="spacingAndGlyphs">30W</text>
<text x="352.9" y="447.5" class="ax" text-anchor="middle" textLength="17.0" lengthAdjust="spacingAndGlyphs">20W</text>
<path d="M60.0 139.2H63.1M60.0 159.0H63.1M60.0 178.8H63.1M60.0 198.6H63.1M60.0 218.4H63.1M60.0 238.2H63.1M60.0 258.0H63.1M60.0 277.8H63.1M60.0 297.5H63.1M60.0 317.3H63.1M60.0 337.1H63.1M60.0 356.9H63.1M60.0 376.7H63.1M60.0 396.5H63.1M60.0 416.3H63.1M60.0 436.1H63.1M67.9 436.1V438.9M103.5 436.1V438.9M139.0 436.1V438.9M174.6 436.1V438.9M210.1 436.1V438.9M245.7 436.1V438.9M281.2 436.1V438.9M316.8 436.1V438.9M352.3 436.1V438.9" stroke="#000" stroke-width="1.3" fill="none"/>
</g>
<g transform="translate(0.0 354.8)">
<text transform="translate(107.17 129.6) scale(1.000 1)" style="font-size:19.6px;letter-spacing:0.96px">cluster:</text>
<text transform="translate(187.78 129.6) scale(1.100 1)" style="font-size:19.6px">3</text>
<text transform="translate(222.70 129.6) scale(1.000 1)" style="font-size:19.6px;letter-spacing:1.07px">membros:</text>
<text transform="translate(328.84 129.6) scale(1.012 1)" style="font-size:19.6px">3</text>
<g clip-path="url(#cp)">
<rect x="55" y="130" width="340" height="320" fill="#FFE878"/>
<path d="M55.0 130.0 C111.2 100.2 335.8 97.2 392.0 130.0 C448.2 162.8 392.8 293.9 392.0 326.6 C391.2 359.4 389.3 326.5 387.4 326.6 C385.5 326.8 383.2 327.1 380.7 327.7 C378.3 328.3 374.9 329.0 372.7 330.4 C370.5 331.7 368.8 334.2 367.4 335.7 C365.9 337.3 365.2 338.6 364.0 339.7 C362.9 340.8 362.4 341.6 360.7 342.3 C359.0 343.1 356.9 343.8 354.0 344.1 C351.2 344.3 346.9 344.1 343.4 343.7 C339.8 343.3 335.5 342.3 332.7 341.7 C329.9 341.0 327.9 339.1 326.7 339.7 C325.5 340.2 326.4 344.6 325.4 345.1 C324.4 345.5 323.0 343.5 320.7 342.4 C318.4 341.3 315.1 339.9 311.4 338.4 C307.6 336.8 302.5 334.6 298.0 333.1 C293.6 331.5 288.7 330.4 284.7 329.0 C280.7 327.7 276.3 325.3 274.0 325.0 C271.7 324.8 273.3 327.3 271.1 327.7 C268.8 328.2 263.5 327.5 260.4 327.7 C257.3 327.9 254.6 329.0 252.4 329.0 C250.2 329.0 248.5 329.0 247.0 327.7 C245.6 326.4 243.9 323.3 243.7 321.0 C243.5 318.8 245.0 316.8 245.7 314.4 C246.4 311.9 247.2 309.0 247.7 306.4 C248.3 303.7 249.2 300.5 249.0 298.4 C248.9 296.3 248.3 294.4 247.0 293.7 C245.8 293.0 243.0 293.9 241.7 294.4 C240.4 294.8 240.4 295.0 239.0 296.4 C237.7 297.7 235.3 300.3 233.7 302.4 C232.1 304.5 231.0 307.0 229.7 309.0 C228.4 311.0 227.3 312.6 225.7 314.4 C224.1 316.2 221.9 317.9 220.4 319.7 C218.8 321.5 217.1 322.8 216.4 325.0 C215.6 327.3 215.5 330.6 215.7 333.1 C215.9 335.5 219.7 338.7 217.7 339.7 C215.7 340.7 206.2 337.8 203.7 339.0 C201.1 340.2 202.5 344.6 202.4 347.0 C202.2 349.5 202.0 352.2 203.0 353.7 C204.0 355.1 206.9 354.8 208.4 355.7 C209.8 356.6 211.5 357.9 211.7 359.0 C211.9 360.1 210.9 361.6 209.7 362.3 C208.5 363.1 205.9 363.7 204.4 363.7 C202.8 363.7 201.2 363.1 200.4 362.3 C199.5 361.6 199.7 360.2 199.0 359.0 C198.4 357.8 197.9 355.6 196.3 355.0 C194.8 354.5 191.7 356.1 189.7 355.7 C187.7 355.2 185.6 354.2 184.3 352.3 C183.1 350.5 182.8 346.0 182.3 344.3 C181.9 342.7 182.9 344.0 181.7 342.4 C180.5 340.7 177.1 337.3 175.0 334.4 C172.9 331.5 170.0 327.3 169.0 325.0 C168.0 322.8 169.4 323.0 168.7 321.0 C168.0 319.0 165.7 315.5 164.7 313.0 C163.7 310.6 163.3 308.8 162.7 306.4 C162.2 303.9 161.8 301.3 161.4 298.4 C160.9 295.5 160.7 292.1 160.1 289.0 C159.4 285.9 158.7 282.6 157.4 279.7 C156.1 276.8 154.3 274.2 152.0 271.7 C149.8 269.1 146.9 266.6 144.0 264.3 C141.2 262.1 138.0 260.2 134.7 258.3 C131.4 256.5 127.4 254.5 124.0 253.0 C120.7 251.5 117.8 249.8 114.7 249.3 C111.6 248.7 108.0 248.8 105.4 249.7 C102.7 250.5 100.9 252.2 98.7 254.3 C96.5 256.5 93.9 259.7 92.0 262.3 C90.1 265.0 88.5 267.5 87.3 270.4 C86.2 273.2 85.7 276.4 85.3 279.7 C85.0 283.0 85.5 287.0 85.3 290.4 C85.2 293.7 85.6 297.6 84.7 299.7 C83.8 301.8 82.1 302.1 80.0 303.0 C77.9 303.9 74.7 304.3 72.0 305.0 C69.3 305.8 66.0 307.0 64.0 307.7 C62.0 308.4 61.5 308.8 60.0 309.0 C58.5 309.3 55.8 338.9 55.0 309.0 C54.2 279.2 -1.2 159.8 55.0 130.0 Z" fill="#FFC03C"/>
<path d="M55.0 130.0 C111.2 110.7 335.8 109.9 392.0 130.0 C448.2 150.1 392.8 230.3 392.0 250.3 C391.2 270.4 389.7 249.5 387.4 250.3 C385.1 251.2 380.5 254.1 378.1 255.7 C375.6 257.2 373.8 257.9 372.7 259.7 C371.6 261.5 371.3 263.9 371.4 266.3 C371.5 268.8 372.1 271.5 373.4 274.4 C374.7 277.2 377.9 281.2 379.4 283.7 C380.8 286.1 382.3 287.0 382.1 289.0 C381.8 291.0 380.1 293.5 378.1 295.7 C376.1 297.9 372.9 300.1 370.1 302.4 C367.2 304.6 363.4 307.0 360.7 309.0 C358.0 311.0 356.5 312.6 354.0 314.4 C351.6 316.2 349.4 318.6 346.0 319.7 C342.7 320.8 338.3 320.9 334.0 321.0 C329.8 321.2 325.1 320.3 320.7 320.4 C316.2 320.5 311.1 321.9 307.4 321.7 C303.6 321.5 301.3 320.0 298.0 319.0 C294.7 318.0 290.5 316.7 287.3 315.7 C284.2 314.7 281.6 313.7 279.3 313.0 C277.1 312.4 276.5 311.7 274.0 311.7 C271.5 311.7 267.1 313.0 264.4 313.0 C261.7 313.0 259.3 312.8 257.7 311.7 C256.2 310.6 255.5 308.4 255.0 306.4 C254.6 304.4 255.9 302.4 255.0 299.7 C254.2 297.0 251.5 293.3 249.7 290.4 C247.9 287.5 246.0 284.1 244.4 282.4 C242.7 280.6 241.5 278.4 239.7 279.7 C237.9 281.0 235.4 286.8 233.7 290.4 C232.0 293.9 231.0 298.4 229.7 301.0 C228.4 303.7 227.3 305.0 225.7 306.4 C224.1 307.7 222.1 307.9 220.4 309.0 C218.6 310.2 216.6 311.5 215.0 313.0 C213.5 314.6 212.6 316.6 211.0 318.4 C209.5 320.2 207.5 322.2 205.7 323.7 C203.9 325.3 201.9 327.5 200.4 327.7 C198.8 327.9 197.9 325.9 196.3 325.0 C194.8 324.2 192.2 323.7 191.0 322.4 C189.8 321.0 189.1 319.3 189.0 317.0 C188.9 314.8 189.6 313.0 190.3 309.0 C191.1 305.0 193.1 298.4 193.7 293.0 C194.2 287.7 194.8 281.9 193.7 277.0 C192.6 272.1 190.1 268.1 187.0 263.7 C183.9 259.2 179.3 254.0 175.0 250.3 C170.7 246.7 165.0 245.4 161.4 241.7 C157.8 238.1 155.6 233.7 153.4 228.4 C151.2 223.0 150.3 214.6 148.0 209.7 C145.8 204.8 142.6 200.0 140.0 199.0 C137.5 198.0 134.9 202.9 132.7 203.7 C130.5 204.5 129.0 203.9 126.7 203.7 C124.4 203.5 121.0 202.5 118.7 202.4 C116.4 202.3 114.4 202.5 112.7 203.0 C111.0 203.6 109.4 204.6 108.7 205.7 C108.0 206.8 108.2 208.2 108.7 209.7 C109.1 211.3 110.6 213.3 111.4 215.0 C112.1 216.8 113.3 218.9 113.4 220.4 C113.5 221.8 113.4 223.0 112.0 223.7 C110.7 224.4 108.2 224.3 105.4 224.6 C102.5 225.0 97.8 225.2 94.7 225.7 C91.6 226.2 89.1 226.4 86.7 227.7 C84.2 229.1 82.2 231.8 80.0 233.7 C77.8 235.6 74.9 237.7 73.3 239.1 C71.8 240.4 72.9 240.9 70.7 242.0 C68.4 243.1 62.6 245.1 60.0 245.7 C57.4 246.3 55.8 265.0 55.0 245.7 C54.2 226.4 -1.2 149.3 55.0 130.0 Z" fill="#FFA000"/>
<path d="M60.0 196.1 C62.2 194.3 69.3 196.4 73.3 196.6 C77.3 196.9 80.7 197.3 84.0 197.7 C87.3 198.1 90.9 198.4 93.4 199.0 C95.8 199.7 97.7 200.6 98.7 201.7 C99.7 202.8 99.8 204.5 99.4 205.7 C98.9 206.9 98.1 208.3 96.0 209.0 C93.9 209.8 89.8 210.2 86.7 210.4 C83.6 210.6 80.5 210.7 77.3 210.4 C74.2 210.0 70.9 208.8 68.0 208.4 C65.1 207.9 61.3 209.8 60.0 207.7 C58.7 205.7 57.8 197.9 60.0 196.1 Z" fill="#FFC03C"/>
<path d="M60.0 243.7 C60.7 244.7 62.4 243.0 64.0 242.3 C65.6 241.7 67.8 240.7 69.3 239.7 C70.9 238.7 74.9 236.9 73.3 236.3 C71.8 235.8 62.2 235.1 60.0 236.3 C57.8 237.6 59.3 242.7 60.0 243.7 Z" fill="#FFA000"/>
<path d="M286.8 229.4 C287.4 228.8 289.1 228.6 289.8 229.0 C290.6 229.3 291.4 230.6 291.2 231.4 C291.1 232.1 289.6 233.2 288.8 233.4 C288.0 233.5 286.8 232.8 286.4 232.2 C286.1 231.5 286.3 229.9 286.8 229.4 Z" fill="#FFC03C"/>
<path d="M276.9 235.0 C278.3 234.8 281.7 235.0 282.8 237.0 C284.0 239.0 284.0 243.3 283.8 246.9 C283.7 250.6 282.7 254.9 281.8 258.9 C281.0 262.9 280.0 267.2 278.8 270.9 C277.7 274.5 276.9 278.2 274.9 280.9 C272.9 283.5 269.5 285.2 266.9 286.8 C264.2 288.5 260.9 289.4 258.9 290.8 C256.9 292.3 256.6 293.8 254.9 295.4 C253.2 297.1 252.2 299.9 248.9 300.8 C245.6 301.7 236.6 301.7 235.0 300.8 C233.3 299.9 237.6 297.4 238.9 295.4 C240.3 293.4 241.6 290.9 242.9 288.8 C244.3 286.7 245.3 285.2 246.9 282.8 C248.6 280.5 250.6 277.2 252.9 274.9 C255.2 272.5 258.4 270.9 260.9 268.9 C263.4 266.9 266.2 265.2 267.9 262.9 C269.5 260.6 270.2 257.9 270.9 254.9 C271.5 251.9 271.4 247.8 271.9 244.9 C272.4 242.1 273.0 239.6 273.9 238.0 C274.7 236.3 275.4 235.1 276.9 235.0 Z" fill="#FFC03C"/>
<path d="M55.0 130.0 C111.2 121.4 335.8 114.3 392.0 130.0 C448.2 145.7 392.8 208.7 392.0 224.4 C391.2 240.1 389.9 224.2 387.4 224.4 C384.8 224.6 379.8 225.3 376.7 225.7 C373.6 226.2 371.4 226.2 368.7 227.0 C366.0 227.9 363.4 229.7 360.7 231.1 C358.0 232.4 355.0 234.1 352.7 235.1 C350.4 236.0 349.2 235.8 346.7 237.0 C344.3 238.2 340.8 240.8 338.0 242.3 C335.3 243.9 332.4 244.8 330.0 246.3 C327.7 247.9 325.8 249.7 324.0 251.7 C322.2 253.7 320.5 256.1 319.4 258.3 C318.2 260.6 317.8 262.6 317.4 265.0 C316.9 267.5 317.2 270.6 316.7 273.0 C316.1 275.5 315.1 277.8 314.0 279.7 C312.9 281.6 311.8 282.9 310.0 284.4 C308.2 285.8 305.6 287.0 303.3 288.4 C301.1 289.7 298.5 291.4 296.7 292.4 C294.9 293.4 294.6 293.9 292.7 294.4 C290.8 294.8 287.1 295.7 285.3 295.0 C283.6 294.4 282.6 292.5 282.3 290.4 C281.9 288.2 282.9 285.2 283.3 282.4 C283.7 279.5 284.2 276.4 284.7 273.0 C285.1 269.7 285.6 265.9 286.0 262.3 C286.5 258.8 286.7 254.7 287.3 251.7 C288.0 248.7 288.7 246.0 290.0 244.3 C291.3 242.7 294.0 243.3 295.3 242.0 C296.7 240.7 297.3 238.4 298.0 236.4 C298.7 234.3 299.3 231.7 299.3 229.7 C299.3 227.7 298.9 225.9 298.0 224.4 C297.1 222.8 295.8 221.7 294.0 220.4 C292.2 219.0 289.6 217.5 287.3 216.4 C285.1 215.2 282.7 213.7 280.7 213.4 C278.6 213.2 276.4 214.1 275.1 215.0 C273.7 216.0 273.2 217.7 272.4 219.0 C271.6 220.4 271.4 222.5 270.4 223.0 C269.4 223.6 267.8 222.4 266.4 222.4 C264.9 222.4 263.2 222.3 261.7 223.0 C260.3 223.8 258.9 225.0 257.7 227.0 C256.5 229.1 255.2 232.8 254.4 235.1 C253.6 237.3 253.4 238.5 252.8 240.4 C252.1 242.3 251.4 244.8 250.4 246.3 C249.3 247.9 247.8 249.1 246.4 249.7 C244.9 250.2 243.0 250.1 241.7 249.7 C240.4 249.2 239.3 248.2 238.4 247.0 C237.5 245.8 236.7 243.4 236.4 242.3 C236.0 241.2 236.3 241.7 236.1 240.4 C235.9 239.1 235.9 235.7 235.0 234.4 C234.2 233.1 232.6 232.6 231.0 232.4 C229.5 232.2 227.0 232.4 225.7 233.1 C224.4 233.7 223.7 235.2 223.0 236.4 C222.4 237.6 222.1 239.1 222.0 240.4 C221.8 241.7 221.7 242.9 222.0 244.3 C222.3 245.8 222.7 247.6 223.7 249.0 C224.7 250.5 226.5 251.5 227.7 253.0 C228.9 254.6 230.3 256.6 231.0 258.3 C231.8 260.1 231.8 261.9 232.4 263.7 C232.9 265.5 233.6 267.5 234.4 269.0 C235.1 270.6 236.3 271.7 237.0 273.0 C237.8 274.4 238.9 275.7 239.0 277.0 C239.1 278.4 238.6 279.6 237.7 281.0 C236.8 282.5 235.0 284.1 233.7 285.7 C232.4 287.2 230.8 288.9 229.7 290.4 C228.6 291.8 227.8 292.9 227.0 294.4 C226.3 295.8 225.9 297.8 225.0 299.0 C224.1 300.3 223.1 301.3 221.7 301.7 C220.3 302.1 218.1 301.5 216.4 301.7 C214.6 301.9 212.6 302.3 211.0 303.0 C209.5 303.8 208.2 305.1 207.0 306.4 C205.8 307.6 204.6 309.0 203.7 310.4 C202.8 311.7 202.6 313.4 201.7 314.4 C200.8 315.4 199.5 316.3 198.4 316.4 C197.2 316.5 195.7 315.8 195.0 315.0 C194.3 314.3 194.1 313.4 194.3 311.7 C194.6 310.0 195.7 307.3 196.3 305.0 C197.0 302.8 197.7 300.8 198.4 298.4 C199.0 295.9 199.8 293.0 200.4 290.4 C200.9 287.7 201.6 284.9 201.7 282.4 C201.8 279.8 201.7 277.2 201.0 275.0 C200.4 272.8 199.1 270.9 197.7 269.0 C196.2 267.1 194.3 265.5 192.3 263.7 C190.3 261.9 187.9 260.2 185.7 258.3 C183.5 256.5 181.2 254.3 179.0 252.3 C176.8 250.3 174.3 248.0 172.3 246.3 C170.3 244.7 168.2 243.1 167.0 242.3 C165.8 241.6 166.3 242.9 165.4 242.0 C164.5 241.1 162.7 238.9 161.4 237.1 C160.1 235.2 158.7 233.6 157.4 231.1 C156.1 228.5 154.5 224.6 153.4 221.7 C152.3 218.8 151.0 216.4 150.7 213.7 C150.4 211.0 150.7 208.3 151.4 205.7 C152.0 203.1 153.3 200.8 154.7 198.4 C156.2 195.9 158.1 193.5 160.1 191.0 C162.1 188.6 165.6 185.2 166.7 183.7 C167.9 182.1 166.5 182.7 167.0 181.7 C167.5 180.7 168.6 179.2 169.7 177.7 C170.8 176.1 172.3 173.9 173.7 172.4 C175.0 170.8 176.1 169.0 177.7 168.4 C179.2 167.7 181.5 167.9 183.0 168.4 C184.5 168.8 186.1 169.7 186.7 171.0 C187.4 172.4 186.6 174.4 187.0 176.4 C187.4 178.4 188.2 181.0 189.0 183.0 C189.8 185.0 190.7 187.1 191.7 188.4 C192.7 189.6 193.8 190.4 195.0 190.4 C196.2 190.4 197.5 189.0 199.0 188.4 C200.6 187.7 202.6 186.5 204.4 186.4 C206.1 186.2 207.9 186.9 209.7 187.7 C211.5 188.5 213.2 190.0 215.0 191.0 C216.8 192.0 218.4 192.6 220.4 193.7 C222.4 194.8 224.8 196.4 227.0 197.7 C229.3 199.0 231.7 200.6 233.7 201.7 C235.7 202.8 237.9 204.4 239.0 204.4 C240.2 204.4 240.4 203.5 240.4 201.7 C240.4 199.9 239.6 196.1 239.0 193.7 C238.5 191.3 237.9 189.0 237.0 187.0 C236.1 185.0 235.1 183.0 233.7 181.7 C232.3 180.4 230.1 179.7 228.4 179.0 C226.6 178.4 224.8 178.4 223.0 177.7 C221.3 177.0 219.5 176.2 217.7 175.0 C215.9 173.8 214.1 171.8 212.4 170.4 C210.6 168.9 209.0 167.6 207.0 166.4 C205.0 165.1 202.6 164.0 200.4 163.0 C198.1 162.0 195.9 161.1 193.7 160.3 C191.5 159.6 189.2 159.2 187.0 158.3 C184.8 157.5 182.3 155.8 180.3 155.0 C178.3 154.2 176.6 153.8 175.0 153.4 C173.4 153.1 172.3 152.8 170.7 152.9 C169.1 152.9 167.1 153.1 165.4 153.7 C163.7 154.3 161.3 155.3 160.3 156.3 C159.3 157.3 160.2 158.6 159.4 159.7 C158.6 160.8 156.9 162.0 155.4 163.0 C153.8 164.0 151.6 164.6 150.0 165.7 C148.5 166.8 147.0 168.1 146.0 169.7 C145.1 171.2 144.9 173.0 144.3 175.0 C143.8 177.0 143.5 179.6 142.7 181.7 C141.9 183.8 140.7 185.9 139.4 187.7 C138.0 189.5 136.4 191.4 134.7 192.4 C133.0 193.4 131.4 193.7 129.4 193.7 C127.4 193.7 125.4 192.8 122.7 192.4 C120.0 191.9 117.1 191.6 113.4 191.0 C109.6 190.5 104.5 189.8 100.0 189.0 C95.6 188.3 91.1 187.3 86.7 186.4 C82.2 185.5 77.1 184.4 73.3 183.7 C69.6 183.0 66.2 182.7 64.0 182.4 C61.8 182.0 61.5 181.8 60.0 181.7 C58.5 181.6 55.8 190.3 55.0 181.7 C54.2 173.1 -1.2 138.6 55.0 130.0 Z" fill="#FF6400" stroke="#FFA000" stroke-width="9" stroke-linejoin="round"/>
<path d="M55.0 130.0 C111.2 121.4 335.8 114.3 392.0 130.0 C448.2 145.7 392.8 208.7 392.0 224.4 C391.2 240.1 389.9 224.2 387.4 224.4 C384.8 224.6 379.8 225.3 376.7 225.7 C373.6 226.2 371.4 226.2 368.7 227.0 C366.0 227.9 363.4 229.7 360.7 231.1 C358.0 232.4 355.0 234.1 352.7 235.1 C350.4 236.0 349.2 235.8 346.7 237.0 C344.3 238.2 340.8 240.8 338.0 242.3 C335.3 243.9 332.4 244.8 330.0 246.3 C327.7 247.9 325.8 249.7 324.0 251.7 C322.2 253.7 320.5 256.1 319.4 258.3 C318.2 260.6 317.8 262.6 317.4 265.0 C316.9 267.5 317.2 270.6 316.7 273.0 C316.1 275.5 315.1 277.8 314.0 279.7 C312.9 281.6 311.8 282.9 310.0 284.4 C308.2 285.8 305.6 287.0 303.3 288.4 C301.1 289.7 298.5 291.4 296.7 292.4 C294.9 293.4 294.6 293.9 292.7 294.4 C290.8 294.8 287.1 295.7 285.3 295.0 C283.6 294.4 282.6 292.5 282.3 290.4 C281.9 288.2 282.9 285.2 283.3 282.4 C283.7 279.5 284.2 276.4 284.7 273.0 C285.1 269.7 285.6 265.9 286.0 262.3 C286.5 258.8 286.7 254.7 287.3 251.7 C288.0 248.7 288.7 246.0 290.0 244.3 C291.3 242.7 294.0 243.3 295.3 242.0 C296.7 240.7 297.3 238.4 298.0 236.4 C298.7 234.3 299.3 231.7 299.3 229.7 C299.3 227.7 298.9 225.9 298.0 224.4 C297.1 222.8 295.8 221.7 294.0 220.4 C292.2 219.0 289.6 217.5 287.3 216.4 C285.1 215.2 282.7 213.7 280.7 213.4 C278.6 213.2 276.4 214.1 275.1 215.0 C273.7 216.0 273.2 217.7 272.4 219.0 C271.6 220.4 271.4 222.5 270.4 223.0 C269.4 223.6 267.8 222.4 266.4 222.4 C264.9 222.4 263.2 222.3 261.7 223.0 C260.3 223.8 258.9 225.0 257.7 227.0 C256.5 229.1 255.2 232.8 254.4 235.1 C253.6 237.3 253.4 238.5 252.8 240.4 C252.1 242.3 251.4 244.8 250.4 246.3 C249.3 247.9 247.8 249.1 246.4 249.7 C244.9 250.2 243.0 250.1 241.7 249.7 C240.4 249.2 239.3 248.2 238.4 247.0 C237.5 245.8 236.7 243.4 236.4 242.3 C236.0 241.2 236.3 241.7 236.1 240.4 C235.9 239.1 235.9 235.7 235.0 234.4 C234.2 233.1 232.6 232.6 231.0 232.4 C229.5 232.2 227.0 232.4 225.7 233.1 C224.4 233.7 223.7 235.2 223.0 236.4 C222.4 237.6 222.1 239.1 222.0 240.4 C221.8 241.7 221.7 242.9 222.0 244.3 C222.3 245.8 222.7 247.6 223.7 249.0 C224.7 250.5 226.5 251.5 227.7 253.0 C228.9 254.6 230.3 256.6 231.0 258.3 C231.8 260.1 231.8 261.9 232.4 263.7 C232.9 265.5 233.6 267.5 234.4 269.0 C235.1 270.6 236.3 271.7 237.0 273.0 C237.8 274.4 238.9 275.7 239.0 277.0 C239.1 278.4 238.6 279.6 237.7 281.0 C236.8 282.5 235.0 284.1 233.7 285.7 C232.4 287.2 230.8 288.9 229.7 290.4 C228.6 291.8 227.8 292.9 227.0 294.4 C226.3 295.8 225.9 297.8 225.0 299.0 C224.1 300.3 223.1 301.3 221.7 301.7 C220.3 302.1 218.1 301.5 216.4 301.7 C214.6 301.9 212.6 302.3 211.0 303.0 C209.5 303.8 208.2 305.1 207.0 306.4 C205.8 307.6 204.6 309.0 203.7 310.4 C202.8 311.7 202.6 313.4 201.7 314.4 C200.8 315.4 199.5 316.3 198.4 316.4 C197.2 316.5 195.7 315.8 195.0 315.0 C194.3 314.3 194.1 313.4 194.3 311.7 C194.6 310.0 195.7 307.3 196.3 305.0 C197.0 302.8 197.7 300.8 198.4 298.4 C199.0 295.9 199.8 293.0 200.4 290.4 C200.9 287.7 201.6 284.9 201.7 282.4 C201.8 279.8 201.7 277.2 201.0 275.0 C200.4 272.8 199.1 270.9 197.7 269.0 C196.2 267.1 194.3 265.5 192.3 263.7 C190.3 261.9 187.9 260.2 185.7 258.3 C183.5 256.5 181.2 254.3 179.0 252.3 C176.8 250.3 174.3 248.0 172.3 246.3 C170.3 244.7 168.2 243.1 167.0 242.3 C165.8 241.6 166.3 242.9 165.4 242.0 C164.5 241.1 162.7 238.9 161.4 237.1 C160.1 235.2 158.7 233.6 157.4 231.1 C156.1 228.5 154.5 224.6 153.4 221.7 C152.3 218.8 151.0 216.4 150.7 213.7 C150.4 211.0 150.7 208.3 151.4 205.7 C152.0 203.1 153.3 200.8 154.7 198.4 C156.2 195.9 158.1 193.5 160.1 191.0 C162.1 188.6 165.6 185.2 166.7 183.7 C167.9 182.1 166.5 182.7 167.0 181.7 C167.5 180.7 168.6 179.2 169.7 177.7 C170.8 176.1 172.3 173.9 173.7 172.4 C175.0 170.8 176.1 169.0 177.7 168.4 C179.2 167.7 181.5 167.9 183.0 168.4 C184.5 168.8 186.1 169.7 186.7 171.0 C187.4 172.4 186.6 174.4 187.0 176.4 C187.4 178.4 188.2 181.0 189.0 183.0 C189.8 185.0 190.7 187.1 191.7 188.4 C192.7 189.6 193.8 190.4 195.0 190.4 C196.2 190.4 197.5 189.0 199.0 188.4 C200.6 187.7 202.6 186.5 204.4 186.4 C206.1 186.2 207.9 186.9 209.7 187.7 C211.5 188.5 213.2 190.0 215.0 191.0 C216.8 192.0 218.4 192.6 220.4 193.7 C222.4 194.8 224.8 196.4 227.0 197.7 C229.3 199.0 231.7 200.6 233.7 201.7 C235.7 202.8 237.9 204.4 239.0 204.4 C240.2 204.4 240.4 203.5 240.4 201.7 C240.4 199.9 239.6 196.1 239.0 193.7 C238.5 191.3 237.9 189.0 237.0 187.0 C236.1 185.0 235.1 183.0 233.7 181.7 C232.3 180.4 230.1 179.7 228.4 179.0 C226.6 178.4 224.8 178.4 223.0 177.7 C221.3 177.0 219.5 176.2 217.7 175.0 C215.9 173.8 214.1 171.8 212.4 170.4 C210.6 168.9 209.0 167.6 207.0 166.4 C205.0 165.1 202.6 164.0 200.4 163.0 C198.1 162.0 195.9 161.1 193.7 160.3 C191.5 159.6 189.2 159.2 187.0 158.3 C184.8 157.5 182.3 155.8 180.3 155.0 C178.3 154.2 176.6 153.8 175.0 153.4 C173.4 153.1 172.3 152.8 170.7 152.9 C169.1 152.9 167.1 153.1 165.4 153.7 C163.7 154.3 161.3 155.3 160.3 156.3 C159.3 157.3 160.2 158.6 159.4 159.7 C158.6 160.8 156.9 162.0 155.4 163.0 C153.8 164.0 151.6 164.6 150.0 165.7 C148.5 166.8 147.0 168.1 146.0 169.7 C145.1 171.2 144.9 173.0 144.3 175.0 C143.8 177.0 143.5 179.6 142.7 181.7 C141.9 183.8 140.7 185.9 139.4 187.7 C138.0 189.5 136.4 191.4 134.7 192.4 C133.0 193.4 131.4 193.7 129.4 193.7 C127.4 193.7 125.4 192.8 122.7 192.4 C120.0 191.9 117.1 191.6 113.4 191.0 C109.6 190.5 104.5 189.8 100.0 189.0 C95.6 188.3 91.1 187.3 86.7 186.4 C82.2 185.5 77.1 184.4 73.3 183.7 C69.6 183.0 66.2 182.7 64.0 182.4 C61.8 182.0 61.5 181.8 60.0 181.7 C58.5 181.6 55.8 190.3 55.0 181.7 C54.2 173.1 -1.2 138.6 55.0 130.0 Z" fill="#FF6400"/>
<path d="M74.7 135.0 C65.9 135.8 74.0 138.6 74.7 140.1 C75.3 141.6 77.2 143.0 78.7 144.1 C80.1 145.2 81.7 146.7 83.3 146.7 C85.0 146.8 86.8 145.0 88.7 144.6 C90.6 144.2 92.6 144.2 94.7 144.6 C96.8 145.0 99.1 146.3 101.4 147.3 C103.6 148.3 106.0 149.6 108.0 150.7 C110.0 151.9 111.8 153.2 113.4 154.3 C114.9 155.5 116.1 156.6 117.4 157.7 C118.6 158.8 119.6 160.0 120.7 161.0 C121.8 162.0 122.8 163.0 124.0 163.7 C125.3 164.3 127.0 165.2 128.0 165.0 C129.0 164.8 129.9 163.7 130.0 162.3 C130.1 161.0 129.1 158.9 128.7 157.0 C128.3 155.1 127.7 152.9 127.4 151.0 C127.0 149.1 126.7 147.5 126.7 145.7 C126.7 143.8 127.3 141.8 127.4 140.1 C127.5 138.3 136.2 135.8 127.4 135.0 C118.6 134.2 83.5 134.2 74.7 135.0 Z" fill="#FFA000" stroke="#111" stroke-width="0.75"/>
<path d="M95.4 135.0 C90.8 135.8 94.6 138.8 95.4 140.1 C96.1 141.4 98.2 142.0 100.0 142.7 C101.8 143.5 104.0 143.8 106.0 144.6 C108.0 145.4 110.4 146.7 112.0 147.3 C113.7 147.9 114.7 148.2 116.0 148.1 C117.4 147.9 119.0 147.2 120.0 146.3 C121.0 145.5 121.6 144.0 122.0 143.0 C122.4 142.0 122.4 141.4 122.4 140.1 C122.5 138.7 126.9 135.8 122.4 135.0 C117.9 134.2 99.9 134.2 95.4 135.0 Z" fill="#FFC03C"/>
<path d="M288.7 135.0 C279.1 135.8 288.7 138.7 290.0 140.1 C291.3 141.4 294.2 142.4 296.7 143.3 C299.1 144.1 301.8 144.9 304.7 145.0 C307.6 145.1 310.7 144.1 314.0 143.7 C317.4 143.2 321.4 142.6 324.7 142.3 C328.0 142.0 330.9 142.2 334.0 141.9 C337.1 141.7 341.4 141.3 343.4 141.0 C345.4 140.7 345.4 141.1 346.0 140.1 C346.7 139.1 356.9 135.8 347.4 135.0 C337.8 134.2 298.2 134.2 288.7 135.0 Z" fill="#FFA000" stroke="#111" stroke-width="0.75"/>
<path d="M356.7 135.0 C351.4 135.8 357.4 138.5 358.0 140.1 C358.7 141.6 359.6 142.8 360.7 144.3 C361.8 145.8 363.2 147.6 364.7 149.0 C366.3 150.5 368.5 151.8 370.1 153.0 C371.6 154.2 372.8 154.9 374.1 156.3 C375.3 157.8 376.4 160.0 377.4 161.7 C378.4 163.3 378.9 165.2 380.1 166.4 C381.2 167.5 382.4 167.7 384.1 168.4 C385.7 169.0 389.1 175.9 390.1 170.4 C391.1 164.8 395.6 140.9 390.1 135.0 C384.5 129.1 362.0 134.2 356.7 135.0 Z" fill="#FFA000" stroke="#111" stroke-width="0.75"/>
<path d="M374.7 135.0 C372.3 135.8 375.1 138.3 375.4 140.1 C375.7 141.8 376.1 143.8 376.7 145.7 C377.4 147.5 378.7 149.0 379.4 151.0 C380.1 153.0 379.9 156.3 380.7 157.7 C381.5 159.0 382.5 158.7 384.1 159.0 C385.6 159.3 389.1 163.7 390.1 159.7 C391.1 155.7 392.6 139.1 390.1 135.0 C387.5 130.9 377.2 134.2 374.7 135.0 Z" fill="#FFC03C"/>
<path d="M198.4 177.7 C198.5 176.7 198.8 175.2 199.7 174.4 C200.6 173.5 202.4 172.5 203.7 172.4 C205.0 172.2 206.7 172.9 207.7 173.7 C208.7 174.5 209.7 176.0 209.7 177.0 C209.7 178.0 208.8 179.0 207.7 179.7 C206.6 180.4 204.5 180.9 203.0 181.0 C201.6 181.1 199.8 180.9 199.0 180.4 C198.2 179.8 198.2 178.7 198.4 177.7 Z" fill="#FFC03C"/>
<path d="M136.0 147.7 C136.9 146.7 140.2 147.1 142.7 147.0 C145.3 146.9 150.0 146.5 151.4 147.3 C152.7 148.1 151.5 150.4 150.7 151.7 C149.9 153.0 148.2 154.3 146.7 155.0 C145.3 155.7 143.6 156.0 142.0 155.7 C140.5 155.3 138.4 154.3 137.4 153.0 C136.4 151.7 135.2 148.7 136.0 147.7 Z" fill="#FF3200"/>
<path d="M350.0 160.3 C350.0 158.8 351.5 157.3 352.7 156.3 C353.9 155.3 355.7 154.3 357.4 154.3 C359.0 154.3 360.9 155.2 362.7 156.3 C364.5 157.5 366.7 159.6 368.1 161.0 C369.4 162.5 370.5 163.8 370.7 165.0 C370.9 166.2 370.4 167.7 369.4 168.4 C368.4 169.0 366.6 169.1 364.7 169.0 C362.8 168.9 360.0 168.2 358.0 167.7 C356.0 167.1 354.0 166.9 352.7 165.7 C351.4 164.5 350.0 161.9 350.0 160.3 Z" fill="#FF3200"/>
<path d="M221.7 163.7 C222.3 162.8 224.1 161.3 225.7 161.0 C227.3 160.7 229.7 161.0 231.0 161.7 C232.4 162.3 233.7 164.0 233.7 165.0 C233.7 166.0 232.4 167.2 231.0 167.7 C229.7 168.2 227.1 168.3 225.7 168.1 C224.3 167.9 223.0 167.1 222.4 166.4 C221.7 165.6 221.1 164.6 221.7 163.7 Z" fill="#FF3200"/>
<path d="M248.4 188.4 C248.9 187.5 250.8 186.4 252.4 186.4 C253.9 186.4 255.9 187.7 257.7 188.4 C259.5 189.0 261.5 190.5 263.1 190.4 C264.6 190.3 265.5 188.6 267.1 187.7 C268.6 186.8 270.6 185.2 272.4 185.0 C274.2 184.8 276.2 185.8 277.7 186.4 C279.3 186.9 280.4 187.6 281.7 188.4 C283.1 189.1 285.3 190.0 285.7 191.0 C286.2 192.0 285.5 193.8 284.4 194.4 C283.3 194.9 280.6 194.4 279.1 194.4 C277.5 194.4 276.8 194.3 275.1 194.4 C273.3 194.5 270.4 195.1 268.4 195.0 C266.4 194.9 264.8 193.8 263.1 193.7 C261.3 193.6 259.5 194.4 257.7 194.4 C255.9 194.4 253.8 194.1 252.4 193.7 C250.9 193.3 249.7 192.6 249.0 191.7 C248.4 190.8 247.8 189.3 248.4 188.4 Z" fill="#FF3200"/>
<path d="M209.7 200.4 C209.9 199.6 211.5 198.8 212.4 199.0 C213.2 199.3 214.4 200.7 215.0 201.7 C215.7 202.7 216.6 204.4 216.4 205.0 C216.1 205.7 214.6 205.9 213.7 205.7 C212.8 205.5 211.7 204.6 211.0 203.7 C210.4 202.8 209.5 201.1 209.7 200.4 Z" fill="#FF3200"/>
<path d="M205.0 195.0 C205.3 194.8 206.4 194.8 206.6 195.0 C206.9 195.3 206.9 196.4 206.6 196.6 C206.4 196.9 205.3 196.9 205.0 196.6 C204.8 196.4 204.8 195.3 205.0 195.0 Z" fill="#FF3200"/>
<path d="M179.7 185.7 C180.2 185.2 181.1 187.0 181.7 188.4 C182.2 189.7 182.1 192.4 183.0 193.7 C183.9 195.0 185.5 195.5 187.0 196.4 C188.6 197.3 192.0 197.7 192.3 199.0 C192.7 200.4 189.9 202.4 189.0 204.4 C188.1 206.4 186.9 208.8 187.0 211.0 C187.1 213.3 188.8 215.5 189.7 217.7 C190.6 219.9 191.8 222.2 192.3 224.4 C192.9 226.6 193.0 229.1 193.0 231.1 C193.0 233.1 192.1 234.6 192.3 236.4 C192.6 238.2 193.0 240.1 194.3 241.7 C195.7 243.4 198.5 244.9 200.4 246.3 C202.2 247.8 204.6 248.8 205.7 250.3 C206.8 251.9 206.1 254.3 207.0 255.7 C207.9 257.0 209.2 258.1 211.0 258.3 C212.8 258.6 215.7 256.9 217.7 257.0 C219.7 257.1 221.5 257.9 223.0 259.0 C224.6 260.1 226.0 261.8 227.0 263.7 C228.0 265.6 228.9 268.1 229.0 270.4 C229.1 272.6 228.3 275.0 227.7 277.0 C227.1 279.0 226.5 280.7 225.7 282.4 C224.9 284.0 224.0 285.5 223.0 287.0 C222.0 288.6 220.9 290.5 219.7 291.7 C218.5 292.9 217.1 294.1 215.7 294.4 C214.2 294.6 212.5 293.9 211.0 293.0 C209.6 292.1 208.0 290.6 207.0 289.0 C206.0 287.5 205.6 285.7 205.0 283.7 C204.4 281.7 203.8 278.8 203.3 277.0 C202.8 275.2 202.7 274.5 202.0 273.0 C201.2 271.5 200.2 269.7 198.8 267.9 C197.3 266.2 195.1 264.4 193.0 262.6 C190.9 260.8 188.6 258.9 186.3 257.0 C184.1 255.1 181.9 253.0 179.7 251.0 C177.5 249.0 172.9 246.5 173.0 245.0 C173.1 243.5 179.5 243.9 180.3 242.0 C181.2 240.1 179.1 236.4 178.3 233.7 C177.6 231.0 176.2 227.9 175.7 225.7 C175.1 223.5 174.7 222.2 175.0 220.4 C175.3 218.6 177.0 217.3 177.7 215.0 C178.3 212.8 179.0 209.7 179.0 207.0 C179.0 204.4 177.8 201.7 177.7 199.0 C177.6 196.4 178.0 193.3 178.3 191.0 C178.7 188.8 179.1 186.1 179.7 185.7 Z" fill="#FF3200"/>
<path d="M211.7 271.7 C212.0 269.9 212.1 267.2 213.0 265.7 C213.9 264.1 215.6 262.8 217.0 262.3 C218.5 261.9 220.5 262.2 221.7 263.0 C222.9 263.8 223.8 265.3 224.4 267.0 C224.9 268.7 225.3 271.1 225.0 273.0 C224.8 274.9 223.9 276.9 223.0 278.4 C222.1 279.8 220.9 280.8 219.7 281.7 C218.5 282.6 216.9 283.8 215.7 283.7 C214.5 283.6 213.1 282.2 212.4 281.0 C211.6 279.8 211.1 277.9 211.0 276.4 C210.9 274.8 211.4 273.5 211.7 271.7 Z" fill="#E61400"/>
<path d="M159.4 163.7 C161.4 163.5 163.8 164.5 165.4 165.7 C166.9 166.9 168.3 169.2 168.7 171.0 C169.2 172.8 168.7 174.5 168.1 176.4 C167.4 178.2 166.1 180.4 164.7 182.4 C163.4 184.4 161.6 186.2 160.1 188.4 C158.5 190.5 156.7 192.9 155.4 195.0 C154.1 197.1 153.0 198.9 152.0 201.0 C151.1 203.1 150.0 205.4 149.6 207.7 C149.2 210.0 149.2 212.5 149.6 215.0 C150.0 217.6 151.1 220.5 152.0 223.0 C153.0 225.6 154.2 227.9 155.4 230.4 C156.6 232.8 158.3 235.8 159.4 237.7 C160.5 239.7 160.2 241.3 162.1 242.0 C163.9 242.6 168.1 240.7 170.3 241.7 C172.6 242.6 173.7 245.7 175.7 247.7 C177.7 249.7 180.1 251.6 182.3 253.7 C184.6 255.8 187.0 258.2 189.0 260.3 C191.0 262.5 192.9 264.2 194.3 266.3 C195.8 268.5 197.0 270.4 197.7 273.0 C198.4 275.7 198.7 279.0 198.6 282.4 C198.6 285.7 198.0 289.9 197.4 293.0 C196.9 296.1 196.0 298.4 195.3 301.0 C194.5 303.7 193.9 306.4 193.0 309.0 C192.1 311.7 190.8 314.4 189.9 317.0 C189.1 319.7 188.3 321.9 187.7 325.0 C187.1 328.2 186.6 331.9 186.3 335.7 C186.1 339.5 189.6 345.7 186.3 347.7 C183.1 349.7 170.2 353.7 167.0 347.7 C163.8 341.7 167.5 323.5 167.0 311.7 C166.5 299.9 165.4 283.9 164.1 277.0 C162.7 270.1 160.7 273.0 158.7 270.4 C156.7 267.7 154.3 264.6 152.0 261.0 C149.8 257.5 147.4 253.0 145.4 249.0 C143.4 245.0 141.2 239.5 140.0 237.0 C138.9 234.5 139.5 235.6 138.7 233.7 C137.9 231.8 136.2 228.6 135.4 225.7 C134.6 222.8 134.2 219.5 134.0 216.4 C133.9 213.3 134.2 209.7 134.7 207.0 C135.3 204.4 136.3 202.5 137.4 200.4 C138.5 198.3 140.0 196.4 141.4 194.4 C142.7 192.4 144.4 190.5 145.4 188.4 C146.4 186.2 146.8 184.1 147.4 181.7 C147.9 179.2 147.7 176.1 148.7 173.7 C149.7 171.2 151.6 168.7 153.4 167.0 C155.2 165.3 157.4 163.9 159.4 163.7 Z" fill="#FFC03C"/>
<path d="M166.1 273.0 C167.1 271.7 170.2 272.6 171.4 274.4 C172.6 276.1 172.9 280.1 173.1 283.7 C173.4 287.2 173.3 292.1 172.9 295.7 C172.5 299.3 171.6 303.7 170.7 305.0 C169.8 306.4 168.2 305.5 167.4 303.7 C166.5 301.9 166.0 297.9 165.7 294.4 C165.3 290.8 165.3 285.9 165.4 282.4 C165.5 278.8 165.1 274.4 166.1 273.0 Z" fill="#FFA000"/>
<path d="M158.7 170.4 C160.2 169.9 162.3 170.5 163.4 171.0 C164.5 171.6 165.3 172.4 165.4 173.7 C165.5 175.0 164.9 177.2 164.1 179.0 C163.2 180.8 161.4 182.6 160.1 184.4 C158.7 186.1 157.4 187.9 156.1 189.7 C154.7 191.5 153.3 193.3 152.0 195.0 C150.8 196.8 149.6 198.4 148.7 200.4 C147.8 202.4 147.0 204.6 146.7 207.0 C146.4 209.5 146.3 212.4 146.7 215.0 C147.2 217.7 148.3 220.4 149.4 223.0 C150.5 225.7 152.0 228.6 153.4 231.1 C154.7 233.5 156.3 235.9 157.4 237.7 C158.5 239.5 158.5 240.6 160.1 242.0 C161.7 243.4 165.0 244.8 167.0 246.3 C169.0 247.8 170.3 249.2 172.3 251.0 C174.3 252.8 176.8 254.9 179.0 257.0 C181.2 259.1 183.6 261.6 185.7 263.7 C187.8 265.8 190.1 267.7 191.7 269.7 C193.2 271.7 194.3 273.4 195.0 275.7 C195.7 278.0 195.8 280.8 195.7 283.7 C195.6 286.6 194.9 290.1 194.3 293.0 C193.8 295.9 193.1 298.4 192.3 301.0 C191.6 303.7 190.6 306.4 189.7 309.0 C188.8 311.7 187.9 314.4 187.0 317.0 C186.1 319.7 185.0 322.4 184.3 325.0 C183.7 327.7 183.1 329.9 183.0 333.1 C182.9 336.2 183.6 340.9 183.7 344.0 C183.8 347.1 186.5 350.4 183.7 351.7 C180.9 353.0 169.7 355.3 167.0 351.7 C164.3 348.2 167.3 335.3 167.7 330.4 C168.0 325.5 168.4 325.5 169.0 322.4 C169.6 319.3 170.2 315.3 171.0 311.7 C171.8 308.1 173.0 304.6 173.7 301.0 C174.3 297.5 174.9 294.4 175.0 290.4 C175.1 286.4 175.0 280.4 174.3 277.0 C173.7 273.7 172.2 272.0 171.0 270.4 C169.8 268.7 168.8 268.4 167.0 267.0 C165.2 265.7 162.5 264.5 160.1 262.3 C157.6 260.2 154.3 257.2 152.0 254.3 C149.8 251.5 148.3 247.9 146.7 245.0 C145.2 242.1 143.3 238.7 142.7 237.0 C142.2 235.3 143.8 236.7 143.4 235.1 C142.9 233.4 141.0 229.7 140.0 227.0 C139.0 224.4 137.8 221.5 137.4 219.0 C136.9 216.6 137.2 214.8 137.4 212.4 C137.6 209.9 138.0 206.8 138.7 204.4 C139.4 201.9 140.3 199.7 141.4 197.7 C142.5 195.7 144.0 194.4 145.4 192.4 C146.7 190.4 148.3 187.9 149.4 185.7 C150.5 183.5 151.2 181.0 152.0 179.0 C152.9 177.0 153.6 175.1 154.7 173.7 C155.8 172.2 157.3 170.8 158.7 170.4 Z" fill="#FFE878"/>
<path d="M60.0 181.7 C60.7 181.8 61.8 182.0 64.0 182.4 C66.2 182.7 69.6 183.0 73.3 183.7 C77.1 184.4 82.2 185.5 86.7 186.4 C91.1 187.3 95.6 188.3 100.0 189.0 C104.5 189.8 109.6 190.5 113.4 191.0 C117.1 191.6 120.0 191.9 122.7 192.4 C125.4 192.8 127.4 193.7 129.4 193.7 C131.4 193.7 133.0 193.4 134.7 192.4 C136.4 191.4 138.0 189.5 139.4 187.7 C140.7 185.9 141.9 183.8 142.7 181.7 C143.5 179.6 143.8 177.0 144.3 175.0 C144.9 173.0 145.1 171.2 146.0 169.7 C147.0 168.1 148.5 166.8 150.0 165.7 C151.6 164.6 153.8 164.0 155.4 163.0 C156.9 162.0 158.6 160.8 159.4 159.7 C160.2 158.6 159.3 157.3 160.3 156.3 C161.3 155.3 163.7 154.3 165.4 153.7 C167.1 153.1 169.1 152.9 170.7 152.9 C172.3 152.8 173.4 153.1 175.0 153.4 C176.6 153.8 178.3 154.2 180.3 155.0 C182.3 155.8 184.8 157.5 187.0 158.3 C189.2 159.2 191.5 159.6 193.7 160.3 C195.9 161.1 198.1 162.0 200.4 163.0 C202.6 164.0 205.0 165.1 207.0 166.4 C209.0 167.6 210.6 168.9 212.4 170.4 C214.1 171.8 215.9 173.8 217.7 175.0 C219.5 176.2 221.3 177.0 223.0 177.7 C224.8 178.4 226.6 178.4 228.4 179.0 C230.1 179.7 232.3 180.4 233.7 181.7 C235.1 183.0 236.1 185.0 237.0 187.0 C237.9 189.0 238.5 191.3 239.0 193.7 C239.6 196.1 240.4 199.9 240.4 201.7 C240.4 203.5 240.2 204.4 239.0 204.4 C237.9 204.4 235.7 202.8 233.7 201.7 C231.7 200.6 229.3 199.0 227.0 197.7 C224.8 196.4 222.4 194.8 220.4 193.7 C218.4 192.6 216.8 192.0 215.0 191.0 C213.2 190.0 211.5 188.5 209.7 187.7 C207.9 186.9 206.1 186.2 204.4 186.4 C202.6 186.5 200.6 187.7 199.0 188.4 C197.5 189.0 196.2 190.4 195.0 190.4 C193.8 190.4 192.7 189.6 191.7 188.4 C190.7 187.1 189.8 185.0 189.0 183.0 C188.2 181.0 187.4 178.4 187.0 176.4 C186.6 174.4 187.4 172.4 186.7 171.0 C186.1 169.7 184.5 168.8 183.0 168.4 C181.5 167.9 179.2 167.7 177.7 168.4 C176.1 169.0 175.0 170.8 173.7 172.4 C172.3 173.9 170.8 176.1 169.7 177.7 C168.6 179.2 167.5 180.7 167.0 181.7 C166.5 182.7 167.9 182.1 166.7 183.7 C165.6 185.2 162.1 188.6 160.1 191.0 C158.1 193.5 156.2 195.9 154.7 198.4 C153.3 200.8 152.0 203.1 151.4 205.7 C150.7 208.3 150.4 211.0 150.7 213.7 C151.0 216.4 152.3 218.8 153.4 221.7 C154.5 224.6 156.1 228.5 157.4 231.1 C158.7 233.6 160.1 235.2 161.4 237.1 C162.7 238.9 164.5 241.1 165.4 242.0 C166.3 242.9 165.8 241.6 167.0 242.3 C168.2 243.1 170.3 244.7 172.3 246.3 C174.3 248.0 176.8 250.3 179.0 252.3 C181.2 254.3 183.5 256.5 185.7 258.3 C187.9 260.2 190.3 261.9 192.3 263.7 C194.3 265.5 196.2 267.1 197.7 269.0 C199.1 270.9 200.4 272.8 201.0 275.0 C201.7 277.2 201.8 279.8 201.7 282.4 C201.6 284.9 200.9 287.7 200.4 290.4 C199.8 293.0 199.0 295.9 198.4 298.4 C197.7 300.8 197.0 302.8 196.3 305.0 C195.7 307.3 194.6 310.0 194.3 311.7 C194.1 313.4 194.3 314.3 195.0 315.0 C195.7 315.8 197.2 316.5 198.4 316.4 C199.5 316.3 200.8 315.4 201.7 314.4 C202.6 313.4 202.8 311.7 203.7 310.4 C204.6 309.0 205.8 307.6 207.0 306.4 C208.2 305.1 209.5 303.8 211.0 303.0 C212.6 302.3 214.6 301.9 216.4 301.7 C218.1 301.5 220.3 302.1 221.7 301.7 C223.1 301.3 224.1 300.3 225.0 299.0 C225.9 297.8 226.3 295.8 227.0 294.4 C227.8 292.9 228.6 291.8 229.7 290.4 C230.8 288.9 232.4 287.2 233.7 285.7 C235.0 284.1 236.8 282.5 237.7 281.0 C238.6 279.6 239.1 278.4 239.0 277.0 C238.9 275.7 237.8 274.4 237.0 273.0 C236.3 271.7 235.1 270.6 234.4 269.0 C233.6 267.5 232.9 265.5 232.4 263.7 C231.8 261.9 231.8 260.1 231.0 258.3 C230.3 256.6 228.9 254.6 227.7 253.0 C226.5 251.5 224.7 250.5 223.7 249.0 C222.7 247.6 222.3 245.9 222.0 244.3 C221.7 242.8 221.8 241.0 222.0 239.7 C222.1 238.3 222.4 237.5 223.0 236.4 C223.7 235.3 224.4 233.7 225.7 233.1 C227.0 232.4 229.5 232.2 231.0 232.4 C232.6 232.6 234.2 233.1 235.0 234.4 C235.9 235.7 235.9 239.1 236.1 240.4 C236.3 241.7 236.0 241.2 236.4 242.3 C236.7 243.4 237.5 245.8 238.4 247.0 C239.3 248.2 240.4 249.2 241.7 249.7 C243.0 250.1 244.9 250.2 246.4 249.7 C247.8 249.1 249.4 247.7 250.4 246.3 C251.4 245.0 251.7 243.5 252.4 241.7 C253.0 239.8 253.5 237.5 254.4 235.1 C255.3 232.6 256.5 229.1 257.7 227.0 C258.9 225.0 260.3 223.8 261.7 223.0 C263.2 222.3 264.9 222.4 266.4 222.4 C267.8 222.4 269.4 223.6 270.4 223.0 C271.4 222.5 271.6 220.4 272.4 219.0 C273.2 217.7 273.7 216.0 275.1 215.0 C276.4 214.1 278.6 213.2 280.7 213.4 C282.7 213.7 285.1 215.2 287.3 216.4 C289.6 217.5 292.2 219.0 294.0 220.4 C295.8 221.7 297.1 222.8 298.0 224.4 C298.9 225.9 299.3 227.7 299.3 229.7 C299.3 231.7 298.9 234.8 298.0 236.4 C297.1 237.9 295.3 237.7 294.0 239.0 C292.7 240.3 291.1 242.2 290.0 244.3 C288.9 246.4 288.0 248.7 287.3 251.7 C286.7 254.7 286.5 258.8 286.0 262.3 C285.6 265.9 285.1 269.7 284.7 273.0 C284.2 276.4 283.7 279.5 283.3 282.4 C282.9 285.2 281.9 288.2 282.3 290.4 C282.6 292.5 283.6 294.4 285.3 295.0 C287.1 295.7 290.8 294.8 292.7 294.4 C294.6 293.9 294.9 293.4 296.7 292.4 C298.5 291.4 301.1 289.7 303.3 288.4 C305.6 287.0 308.2 285.8 310.0 284.4 C311.8 282.9 312.9 281.6 314.0 279.7 C315.1 277.8 316.1 275.5 316.7 273.0 C317.2 270.6 316.9 267.5 317.4 265.0 C317.8 262.6 318.2 260.6 319.4 258.3 C320.5 256.1 322.2 253.7 324.0 251.7 C325.8 249.7 327.7 247.9 330.0 246.3 C332.4 244.8 335.6 243.5 338.0 242.3 C340.5 241.1 342.3 240.3 344.7 239.1 C347.2 237.8 350.0 236.4 352.7 235.1 C355.4 233.7 358.0 232.4 360.7 231.1 C363.4 229.7 366.0 227.9 368.7 227.0 C371.4 226.2 373.6 226.2 376.7 225.7 C379.8 225.3 385.6 224.6 387.4 224.4" fill="none" stroke="#111" stroke-width="0.75"/>
<path d="M60.0 347.0 C61.5 346.9 62.2 346.8 64.0 346.3 C65.8 345.9 68.7 345.2 70.7 344.3 C72.7 343.4 74.8 342.0 76.0 341.0 C77.2 340.0 76.9 339.9 78.0 338.3 C79.1 336.8 80.8 333.5 82.7 331.7 C84.6 329.9 86.5 328.6 89.3 327.7 C92.2 326.8 96.5 326.4 100.0 326.1 C103.6 325.8 107.4 326.4 110.7 326.1 C114.0 325.8 117.1 325.3 120.0 324.4 C122.9 323.4 125.4 321.8 128.0 320.4 C130.7 318.9 133.6 317.3 136.0 315.7 C138.5 314.2 140.9 312.6 142.7 311.0 C144.5 309.5 145.8 307.7 146.7 306.4 C147.6 305.0 147.4 303.9 148.3 303.0 C149.2 302.1 150.7 300.9 152.0 301.0 C153.4 301.1 155.4 302.1 156.3 303.7 C157.2 305.3 156.9 308.1 157.4 310.4 C157.9 312.6 158.5 315.0 159.4 317.0 C160.3 319.0 161.5 320.8 162.7 322.4 C163.9 323.9 165.5 324.8 166.7 326.4 C167.9 327.9 169.3 329.7 170.1 331.7 C170.8 333.7 170.8 336.3 171.4 338.4 C172.0 340.5 172.6 342.5 173.7 344.3 C174.7 346.2 176.1 347.9 177.7 349.7 C179.2 351.5 181.2 353.2 183.0 355.0 C184.8 356.8 186.9 358.6 188.3 360.3 C189.8 362.1 190.7 364.0 191.7 365.7 C192.7 367.3 193.1 369.3 194.3 370.4 C195.6 371.4 197.1 372.1 199.0 372.1 C200.9 372.1 203.5 371.2 205.7 370.4 C207.9 369.5 210.1 368.2 212.4 367.0 C214.6 365.8 217.0 364.3 219.0 363.0 C221.0 361.7 222.8 360.3 224.4 359.0 C225.9 357.7 227.5 356.6 228.4 355.0 C229.3 353.5 229.3 351.2 229.7 349.7 C230.1 348.1 230.1 347.0 231.0 345.7 C231.9 344.3 233.3 342.6 235.0 341.7 C236.8 340.7 238.8 340.3 241.7 340.1 C244.6 339.8 248.8 340.2 252.4 340.3 C255.9 340.5 259.7 340.8 263.1 341.0 C266.4 341.2 270.6 341.6 272.4 341.8 C274.2 342.0 272.6 342.1 274.0 342.3 C275.4 342.5 278.0 342.8 280.7 343.0 C283.3 343.2 286.7 343.2 290.0 343.3 C293.3 343.4 297.3 343.4 300.7 343.7 C304.0 344.0 306.9 344.3 310.0 345.0 C313.1 345.7 316.0 346.7 319.4 347.7 C322.7 348.7 326.5 349.9 330.0 351.0 C333.6 352.1 337.1 353.3 340.7 354.3 C344.3 355.3 347.8 356.2 351.4 357.0 C354.9 357.8 358.5 358.5 362.0 359.0 C365.6 359.5 368.5 360.1 372.7 360.1 C376.9 360.0 384.2 359.0 387.4 358.7 C390.6 358.5 391.2 343.5 392.0 358.7 C392.8 374.0 448.2 434.8 392.0 450.0 C335.8 465.2 111.2 467.2 55.0 450.0 C-1.2 432.8 54.2 364.2 55.0 347.0 C55.8 329.8 58.5 347.1 60.0 347.0 Z" fill="#78B9FF" stroke="#111" stroke-width="0.75"/>
<path d="M222.4 329.0 C222.5 327.9 222.8 325.9 223.7 325.0 C224.6 324.2 226.4 323.6 227.7 323.7 C229.0 323.8 230.9 324.7 231.7 325.7 C232.5 326.7 232.9 328.5 232.6 329.7 C232.4 330.9 231.4 332.4 230.4 333.1 C229.3 333.7 227.6 333.9 226.4 333.7 C225.1 333.5 223.7 332.8 223.0 332.0 C222.4 331.2 222.3 330.2 222.4 329.0 Z" fill="#78B9FF" stroke="#111" stroke-width="0.75"/>
<path d="M60.0 361.0 C63.1 361.0 68.9 361.1 73.3 361.0 C77.8 360.9 82.7 360.8 86.7 360.3 C90.7 359.9 94.7 359.3 97.4 358.3 C100.0 357.3 100.9 355.7 102.7 354.3 C104.5 353.0 105.8 351.4 108.0 350.3 C110.2 349.3 112.9 348.6 116.0 348.1 C119.1 347.6 122.7 347.3 126.7 347.3 C130.7 347.3 136.0 347.8 140.0 348.1 C144.0 348.4 148.0 349.1 150.7 349.0 C153.4 348.9 154.3 348.3 156.1 347.7 C157.8 347.0 159.8 346.0 161.4 345.0 C162.9 344.0 164.1 343.1 165.4 341.7 C166.7 340.2 168.1 335.0 169.0 336.3 C169.9 337.7 170.3 345.4 171.0 349.7 C171.7 353.9 172.3 357.7 173.0 361.7 C173.7 365.7 174.1 369.9 175.0 373.7 C175.9 377.5 177.0 381.5 178.3 384.4 C179.7 387.2 181.3 389.2 183.0 391.0 C184.7 392.8 186.6 394.5 188.3 395.0 C190.1 395.6 192.1 395.1 193.7 394.4 C195.2 393.6 196.7 392.0 197.7 390.4 C198.7 388.7 199.0 386.2 199.7 384.4 C200.4 382.5 200.5 380.8 201.7 379.0 C202.9 377.2 204.8 375.1 207.0 373.7 C209.2 372.2 212.1 371.2 215.0 370.4 C217.9 369.5 221.3 368.6 224.4 368.3 C227.5 368.1 230.6 368.6 233.7 369.0 C236.8 369.5 239.9 370.5 243.0 371.0 C246.2 371.6 249.5 372.1 252.4 372.4 C255.3 372.6 258.2 372.7 260.4 372.4 C262.6 372.0 264.2 371.4 265.7 370.4 C267.3 369.3 268.4 367.4 269.7 366.3 C271.1 365.3 271.2 364.9 273.7 364.1 C276.2 363.3 281.1 362.5 284.7 361.7 C288.3 360.8 291.8 359.9 295.3 359.0 C298.9 358.1 302.5 357.0 306.0 356.3 C309.6 355.7 313.1 354.9 316.7 355.0 C320.2 355.1 323.8 356.2 327.4 357.0 C330.9 357.8 334.5 358.8 338.0 359.7 C341.6 360.6 344.9 361.5 348.7 362.3 C352.5 363.2 356.7 364.3 360.7 365.0 C364.7 365.7 368.3 366.0 372.7 366.3 C377.2 366.7 384.2 367.0 387.4 367.1 C390.6 367.3 391.2 353.3 392.0 367.1 C392.8 381.0 448.2 436.2 392.0 450.0 C335.8 463.8 111.2 464.8 55.0 450.0 C-1.2 435.2 54.2 375.8 55.0 361.0 C55.8 346.2 56.9 361.0 60.0 361.0 Z" fill="#3C96F5"/>
<path d="M60.0 372.4 C63.1 372.7 68.9 373.6 73.3 374.4 C77.8 375.1 82.2 376.4 86.7 377.0 C91.1 377.7 95.6 378.0 100.0 378.4 C104.5 378.7 108.9 379.0 113.4 379.0 C117.8 379.0 122.3 378.4 126.7 378.4 C131.1 378.4 136.5 378.8 140.0 379.0 C143.6 379.2 145.8 379.9 148.0 379.7 C150.3 379.5 151.6 378.6 153.4 377.7 C155.2 376.8 157.3 375.1 158.7 374.4 C160.2 373.6 160.9 372.5 162.1 373.0 C163.2 373.6 164.6 375.9 165.4 377.7 C166.2 379.5 166.1 381.7 167.0 383.7 C167.9 385.7 169.4 387.6 171.0 389.7 C172.6 391.8 174.6 394.4 176.3 396.4 C178.1 398.4 179.7 400.4 181.7 401.7 C183.7 403.0 185.9 404.1 188.3 404.4 C190.8 404.6 193.9 404.1 196.3 403.0 C198.8 401.9 201.2 399.7 203.0 397.7 C204.8 395.7 205.9 393.3 207.0 391.0 C208.1 388.8 208.6 386.4 209.7 384.4 C210.8 382.4 211.9 380.4 213.7 379.0 C215.5 377.7 217.9 376.7 220.4 376.4 C222.8 376.0 225.7 376.5 228.4 377.0 C231.0 377.6 233.7 378.8 236.4 379.7 C239.0 380.6 241.5 381.4 244.4 382.4 C247.3 383.4 250.6 384.7 253.7 385.7 C256.8 386.7 259.9 387.6 263.1 388.4 C266.2 389.1 270.6 389.8 272.4 390.1 C274.2 390.4 272.0 390.5 274.0 390.4 C276.0 390.2 281.1 389.5 284.7 389.0 C288.2 388.6 292.2 388.5 295.3 387.7 C298.5 386.9 301.1 385.8 303.3 384.4 C305.6 382.9 307.1 380.8 308.7 379.0 C310.2 377.2 310.9 375.2 312.7 373.7 C314.5 372.1 316.9 370.6 319.4 369.7 C321.8 368.8 324.2 368.5 327.4 368.3 C330.5 368.2 334.5 368.7 338.0 369.0 C341.6 369.3 344.9 370.0 348.7 370.4 C352.5 370.7 356.5 370.8 360.7 371.0 C364.9 371.2 369.6 371.4 374.1 371.7 C378.5 371.9 384.4 372.4 387.4 372.5 C390.4 372.6 391.2 359.6 392.0 372.5 C392.8 385.4 448.2 437.1 392.0 450.0 C335.8 462.9 111.2 462.9 55.0 450.0 C-1.2 437.1 54.2 385.3 55.0 372.4 C55.8 359.4 56.9 372.0 60.0 372.4 Z" fill="#1E6EEB"/>
<path d="M60.0 415.7 C63.1 415.6 68.9 415.3 73.3 415.0 C77.8 414.8 82.2 414.6 86.7 414.4 C91.1 414.2 95.6 413.8 100.0 413.7 C104.5 413.6 108.9 413.8 113.4 413.7 C117.8 413.6 122.3 413.0 126.7 413.0 C131.1 413.0 136.5 413.5 140.0 413.7 C143.6 413.9 145.8 414.7 148.0 414.4 C150.3 414.0 152.0 412.8 153.4 411.7 C154.7 410.6 154.9 409.0 156.1 407.7 C157.2 406.4 158.7 405.4 160.1 403.7 C161.4 402.0 162.9 399.1 164.1 397.7 C165.2 396.3 165.8 394.7 167.0 395.0 C168.2 395.4 169.7 397.9 171.0 399.7 C172.3 401.5 173.4 403.8 175.0 405.7 C176.6 407.6 178.3 409.4 180.3 411.0 C182.3 412.7 184.8 414.7 187.0 415.7 C189.2 416.7 191.2 417.0 193.7 417.0 C196.1 417.0 199.0 416.4 201.7 415.7 C204.4 415.0 207.2 414.3 209.7 413.0 C212.1 411.8 214.1 410.0 216.4 408.4 C218.6 406.7 220.8 404.7 223.0 403.0 C225.3 401.4 227.3 399.6 229.7 398.4 C232.1 397.1 234.8 396.3 237.7 395.7 C240.6 395.1 243.7 394.9 247.0 395.0 C250.4 395.1 254.2 395.8 257.7 396.4 C261.3 396.9 265.7 398.1 268.4 398.4 C271.1 398.6 271.3 397.8 274.0 397.7 C276.7 397.6 281.1 397.9 284.7 397.7 C288.2 397.5 292.0 397.1 295.3 396.4 C298.7 395.6 301.6 394.3 304.7 393.0 C307.8 391.8 310.9 390.4 314.0 389.0 C317.1 387.7 320.2 386.2 323.4 385.0 C326.5 383.8 329.4 382.7 332.7 381.7 C336.0 380.7 339.8 379.7 343.4 379.0 C346.9 378.4 350.0 378.0 354.0 377.7 C358.0 377.4 361.8 377.3 367.4 377.0 C372.9 376.8 383.3 376.4 387.4 376.2 C391.5 376.1 391.2 363.9 392.0 376.2 C392.8 388.5 448.2 437.7 392.0 450.0 C335.8 462.3 111.2 455.7 55.0 450.0 C-1.2 444.3 54.2 421.4 55.0 415.7 C55.8 410.0 56.9 415.8 60.0 415.7 Z" fill="#1464D2"/>
<path d="M205.7 437.1 C206.8 433.9 209.9 432.7 212.4 431.0 C214.8 429.4 217.5 428.3 220.4 427.0 C223.3 425.8 226.6 424.7 229.7 423.7 C232.8 422.7 235.7 421.9 239.0 421.0 C242.4 420.2 246.2 419.4 249.7 418.4 C253.3 417.4 256.8 416.0 260.4 415.0 C263.9 414.0 268.8 412.9 271.1 412.4 C273.3 411.8 271.7 412.2 274.0 411.7 C276.3 411.3 281.1 410.5 284.7 409.7 C288.2 408.9 292.0 407.8 295.3 407.0 C298.7 406.3 301.6 405.7 304.7 405.0 C307.8 404.4 310.7 403.7 314.0 403.0 C317.4 402.4 321.1 401.6 324.7 401.0 C328.3 400.5 331.8 400.4 335.4 399.7 C338.9 399.0 342.5 398.0 346.0 397.0 C349.6 396.0 353.2 394.7 356.7 393.7 C360.3 392.7 363.8 391.9 367.4 391.0 C370.9 390.1 374.7 389.0 378.1 388.4 C381.4 387.7 385.1 387.5 387.4 387.3 C389.7 387.1 391.2 376.8 392.0 387.3 C392.8 397.7 423.1 439.5 392.0 450.0 C360.9 460.5 236.7 452.2 205.7 450.0 C174.6 447.8 204.6 440.2 205.7 437.1 Z" fill="#1450C8"/>
<path d="M286.0 437.1 C288.0 434.2 294.5 434.3 298.0 433.1 C301.6 431.8 304.5 430.9 307.4 429.7 C310.2 428.5 312.9 427.0 315.4 425.7 C317.8 424.4 319.8 422.7 322.0 421.7 C324.2 420.7 326.0 420.2 328.7 419.7 C331.4 419.3 334.7 419.2 338.0 419.0 C341.4 418.9 345.4 419.2 348.7 419.0 C352.0 418.9 355.4 418.3 358.0 418.4 C360.7 418.5 362.3 419.0 364.7 419.7 C367.2 420.4 368.9 421.3 372.7 422.4 C376.5 423.5 384.2 425.7 387.4 426.4 C390.6 427.0 391.2 422.4 392.0 426.4 C392.8 430.3 409.7 446.1 392.0 450.0 C374.3 453.9 303.7 452.2 286.0 450.0 C268.3 447.8 284.0 439.9 286.0 437.1 Z" fill="#4C3CC8" stroke="#111" stroke-width="0.75"/>
<path d="M257.7 437.1 C258.6 434.3 261.3 434.2 263.1 433.5 C264.8 432.7 266.6 432.7 268.4 432.8 C270.2 432.8 272.2 433.0 273.7 433.7 C275.3 434.4 277.1 434.3 277.7 437.1 C278.4 439.8 281.1 447.8 277.7 450.0 C274.4 452.2 261.1 452.2 257.7 450.0 C254.4 447.8 256.8 439.8 257.7 437.1 Z" fill="#4C3CC8" stroke="#111" stroke-width="0.75"/>
<use href="#map"/>
<rect x="157.4" y="147.9" width="12.2" height="9.2" fill="#fff"/>
<text x="163.5" y="156.3" class="cl" text-anchor="middle">24</text>
<rect x="177.6" y="161.6" width="12.2" height="9.2" fill="#fff"/>
<text x="183.7" y="170.0" class="cl" text-anchor="middle">24</text>
<rect x="234.3" y="248.3" width="12.2" height="9.2" fill="#fff"/>
<text x="240.4" y="256.7" class="cl" text-anchor="middle">24</text>
<rect x="281.0" y="291.5" width="12.2" height="9.2" fill="#fff"/>
<text x="287.1" y="299.9" class="cl" text-anchor="middle">24</text>
<rect x="143.9" y="295.4" width="12.2" height="9.2" fill="#fff"/>
<text x="150.0" y="303.8" class="cl" text-anchor="middle">15</text>
<rect x="281.0" y="339.7" width="12.2" height="9.2" fill="#fff"/>
<text x="287.1" y="348.1" class="cl" text-anchor="middle">15</text>
<rect x="281.1" y="431.8" width="6.4" height="9.2" fill="#fff"/>
<text x="284.3" y="440.2" class="cl" text-anchor="middle">0</text>
</g>
<rect x="63.1" y="139.2" width="320.8" height="296.9" fill="none" stroke="#000" stroke-width="1.8"/>
<text x="58.3" y="142.6" class="ax" text-anchor="end" xml:space="preserve">15N</text>
<text x="58.3" y="162.4" class="ax" text-anchor="end" xml:space="preserve">10N</text>
<text x="58.3" y="182.2" class="ax" text-anchor="end" xml:space="preserve">5N</text>
<text x="58.3" y="202.0" class="ax" text-anchor="end" xml:space="preserve">EQ</text>
<text x="58.3" y="221.8" class="ax" text-anchor="end" xml:space="preserve">5S</text>
<text x="58.3" y="241.6" class="ax" text-anchor="end" xml:space="preserve">10S</text>
<text x="58.3" y="261.4" class="ax" text-anchor="end" xml:space="preserve">15S</text>
<text x="58.3" y="281.2" class="ax" text-anchor="end" xml:space="preserve">20S</text>
<text x="58.3" y="300.9" class="ax" text-anchor="end" xml:space="preserve">25S</text>
<text x="58.3" y="320.7" class="ax" text-anchor="end" xml:space="preserve">30S</text>
<text x="58.3" y="340.5" class="ax" text-anchor="end" xml:space="preserve">35S</text>
<text x="58.3" y="360.3" class="ax" text-anchor="end" xml:space="preserve">40S</text>
<text x="58.3" y="380.1" class="ax" text-anchor="end" xml:space="preserve">45S</text>
<text x="58.3" y="399.9" class="ax" text-anchor="end" xml:space="preserve">50S</text>
<text x="58.3" y="419.7" class="ax" text-anchor="end" xml:space="preserve">55S</text>
<text x="58.3" y="439.5" class="ax" text-anchor="end" xml:space="preserve">60S</text>
<text x="68.5" y="447.5" class="ax" text-anchor="middle" textLength="21.0" lengthAdjust="spacingAndGlyphs">100W</text>
<text x="104.0" y="447.5" class="ax" text-anchor="middle" textLength="17.0" lengthAdjust="spacingAndGlyphs">90W</text>
<text x="139.6" y="447.5" class="ax" text-anchor="middle" textLength="17.0" lengthAdjust="spacingAndGlyphs">80W</text>
<text x="175.2" y="447.5" class="ax" text-anchor="middle" textLength="17.0" lengthAdjust="spacingAndGlyphs">70W</text>
<text x="210.7" y="447.5" class="ax" text-anchor="middle" textLength="17.0" lengthAdjust="spacingAndGlyphs">60W</text>
<text x="246.2" y="447.5" class="ax" text-anchor="middle" textLength="17.0" lengthAdjust="spacingAndGlyphs">50W</text>
<text x="281.8" y="447.5" class="ax" text-anchor="middle" textLength="17.0" lengthAdjust="spacingAndGlyphs">40W</text>
<text x="317.4" y="447.5" class="ax" text-anchor="middle" textLength="17.0" lengthAdjust="spacingAndGlyphs">30W</text>
<text x="352.9" y="447.5" class="ax" text-anchor="middle" textLength="17.0" lengthAdjust="spacingAndGlyphs">20W</text>
<path d="M60.0 139.2H63.1M60.0 159.0H63.1M60.0 178.8H63.1M60.0 198.6H63.1M60.0 218.4H63.1M60.0 238.2H63.1M60.0 258.0H63.1M60.0 277.8H63.1M60.0 297.5H63.1M60.0 317.3H63.1M60.0 337.1H63.1M60.0 356.9H63.1M60.0 376.7H63.1M60.0 396.5H63.1M60.0 416.3H63.1M60.0 436.1H63.1M67.9 436.1V438.9M103.5 436.1V438.9M139.0 436.1V438.9M174.6 436.1V438.9M210.1 436.1V438.9M245.7 436.1V438.9M281.2 436.1V438.9M316.8 436.1V438.9M352.3 436.1V438.9" stroke="#000" stroke-width="1.3" fill="none"/>
</g>
<g transform="translate(458.9 354.8)">
<text transform="translate(107.17 129.6) scale(1.000 1)" style="font-size:19.6px;letter-spacing:0.96px">cluster:</text>
<text transform="translate(188.13 129.6) scale(1.043 1)" style="font-size:19.6px">4</text>
<text transform="translate(222.70 129.6) scale(1.000 1)" style="font-size:19.6px;letter-spacing:1.07px">membros:</text>
<text transform="translate(329.17 129.6) scale(0.952 1)" style="font-size:19.6px">4</text>
<g clip-path="url(#cp)">
<rect x="55" y="130" width="340" height="320" fill="#FFE878"/>
<path d="M55.0 130.0 C111.2 99.0 335.8 97.5 392.0 130.0 C448.2 162.5 392.8 292.5 392.0 325.0 C391.2 357.6 390.2 324.6 387.4 325.0 C384.6 325.5 378.7 326.6 375.4 327.7 C372.1 328.8 369.6 330.2 367.4 331.7 C365.2 333.3 363.4 335.8 362.0 337.1 C360.7 338.3 360.2 338.3 359.1 339.3 C358.0 340.3 357.1 342.2 355.4 343.0 C353.6 343.8 351.6 344.2 348.7 344.3 C345.8 344.5 342.0 344.2 338.0 344.1 C334.0 343.9 329.1 343.6 324.7 343.3 C320.2 343.0 315.8 342.7 311.4 342.3 C306.9 342.0 301.8 341.5 298.0 341.0 C294.2 340.5 289.2 338.6 288.7 339.3 C288.1 339.9 294.5 344.3 294.7 344.8 C294.9 345.3 292.1 343.2 290.0 342.4 C287.9 341.5 284.7 340.4 282.0 339.7 C279.3 339.1 276.0 339.1 274.0 338.4 C272.0 337.7 272.5 336.1 269.8 335.7 C267.1 335.3 262.1 336.6 257.8 336.1 C253.5 335.5 247.0 334.0 243.8 332.5 C240.7 331.0 238.8 329.1 238.8 327.1 C238.8 325.0 242.3 322.6 243.8 320.1 C245.3 317.6 246.8 315.1 247.8 312.1 C248.8 309.1 250.0 304.6 249.8 302.1 C249.6 299.7 248.2 297.5 246.8 297.2 C245.5 296.8 243.3 298.7 241.8 300.2 C240.3 301.6 239.5 304.1 237.8 306.1 C236.2 308.1 233.9 310.1 231.9 312.1 C229.9 314.1 227.9 316.3 225.9 318.1 C223.9 319.9 221.9 321.7 219.9 323.1 C217.9 324.5 216.6 325.5 213.9 326.5 C211.2 327.5 206.8 328.0 203.9 329.1 C201.0 330.2 197.6 331.2 196.3 333.1 C195.1 334.9 195.7 337.6 196.3 340.1 C196.9 342.6 198.9 345.7 199.9 348.0 C200.9 350.4 201.2 352.4 202.3 354.0 C203.5 355.7 205.5 356.0 206.9 358.0 C208.3 360.0 210.9 363.3 210.9 366.0 C210.9 368.7 208.9 372.1 206.9 374.0 C204.9 375.8 201.1 377.6 198.9 377.0 C196.8 376.3 195.8 372.8 193.9 370.0 C192.1 367.2 189.1 363.7 188.0 360.0 C186.8 356.4 187.8 351.0 187.0 348.0 C186.1 345.1 185.0 344.4 183.0 342.4 C181.0 340.3 177.3 338.2 175.0 335.7 C172.7 333.3 170.0 330.2 169.0 327.7 C168.0 325.3 169.3 323.5 168.7 321.0 C168.1 318.6 166.2 315.7 165.4 313.0 C164.6 310.4 164.4 307.9 164.1 305.0 C163.7 302.1 163.7 298.8 163.4 295.7 C163.1 292.6 162.7 289.3 162.1 286.4 C161.4 283.5 160.8 281.0 159.4 278.4 C157.9 275.7 155.7 272.9 153.4 270.4 C151.0 267.8 148.3 265.1 145.4 263.0 C142.5 260.9 139.2 259.5 136.0 257.7 C132.9 255.9 130.0 253.8 126.7 252.3 C123.4 250.9 119.1 249.5 116.0 249.0 C112.9 248.6 110.7 248.7 108.0 249.7 C105.4 250.7 102.5 252.9 100.0 255.0 C97.6 257.1 95.0 259.6 93.4 262.3 C91.7 265.1 91.1 268.4 90.0 271.7 C88.9 275.0 87.3 278.8 86.7 282.4 C86.0 285.9 86.2 289.7 86.0 293.0 C85.8 296.4 86.6 300.3 85.3 302.4 C84.1 304.5 81.1 304.5 78.7 305.7 C76.2 306.9 73.1 308.4 70.7 309.7 C68.2 311.0 65.8 312.7 64.0 313.7 C62.2 314.7 61.5 315.4 60.0 315.7 C58.5 316.0 55.8 346.7 55.0 315.7 C54.2 284.8 -1.2 161.0 55.0 130.0 Z" fill="#FFC03C"/>
<path d="M55.0 130.0 C111.2 119.2 335.8 109.8 392.0 130.0 C448.2 150.2 392.8 230.8 392.0 251.0 C391.2 271.2 389.5 250.3 387.4 251.0 C385.3 251.7 381.4 253.6 379.4 255.0 C377.4 256.5 376.3 257.8 375.4 259.7 C374.5 261.6 374.2 263.9 374.1 266.3 C373.9 268.8 374.2 271.7 374.7 274.4 C375.3 277.0 376.9 279.7 377.4 282.4 C377.8 285.0 378.2 287.9 377.4 290.4 C376.6 292.8 374.6 294.8 372.7 297.0 C370.8 299.3 368.7 301.3 366.0 303.7 C363.4 306.1 359.6 309.3 356.7 311.7 C353.8 314.2 351.4 316.7 348.7 318.4 C346.0 320.0 343.8 321.3 340.7 321.7 C337.6 322.2 333.6 321.7 330.0 321.0 C326.5 320.4 322.7 318.8 319.4 317.7 C316.0 316.6 312.9 315.2 310.0 314.4 C307.1 313.6 304.5 312.8 302.0 313.0 C299.6 313.3 297.1 314.4 295.3 315.7 C293.6 317.0 292.7 319.3 291.3 321.0 C290.0 322.8 289.1 325.8 287.3 326.4 C285.6 326.9 282.9 325.0 280.7 324.4 C278.4 323.7 275.2 322.4 274.0 322.4 C272.8 322.4 275.5 324.2 273.7 324.4 C271.9 324.6 266.2 324.5 263.1 323.7 C259.9 322.9 256.8 321.7 255.0 319.7 C253.3 317.7 252.9 314.4 252.4 311.7 C251.8 309.0 251.7 306.8 251.7 303.7 C251.7 300.6 253.2 296.4 252.4 293.0 C251.6 289.7 248.8 285.0 247.0 283.7 C245.3 282.4 243.5 283.5 241.7 285.0 C239.9 286.6 238.1 290.1 236.4 293.0 C234.6 295.9 232.6 300.1 231.0 302.4 C229.5 304.6 228.6 305.1 227.0 306.4 C225.5 307.6 223.5 308.6 221.7 309.7 C219.9 310.8 217.9 311.8 216.4 313.0 C214.8 314.3 213.9 315.7 212.4 317.0 C210.8 318.4 209.0 319.9 207.0 321.0 C205.0 322.2 202.6 323.5 200.4 323.7 C198.1 323.9 195.1 323.5 193.7 322.4 C192.2 321.3 191.8 319.3 191.7 317.0 C191.6 314.8 192.6 313.0 193.0 309.0 C193.5 305.0 194.2 298.4 194.3 293.0 C194.5 287.7 194.9 281.9 193.7 277.0 C192.5 272.1 190.1 268.1 187.0 263.7 C183.9 259.2 179.3 254.0 175.0 250.3 C170.7 246.7 165.0 245.4 161.4 241.7 C157.8 238.1 155.6 233.7 153.4 228.4 C151.2 223.0 150.3 214.6 148.0 209.7 C145.8 204.8 142.7 200.1 140.0 199.0 C137.4 197.9 134.7 202.5 132.0 203.0 C129.4 203.6 126.7 202.7 124.0 202.4 C121.4 202.0 118.3 201.1 116.0 201.0 C113.8 200.9 112.7 201.5 110.7 201.7 C108.7 201.9 106.9 202.8 104.0 202.4 C101.1 201.9 97.4 200.1 93.4 199.0 C89.3 198.0 84.9 196.7 80.0 196.1 C75.1 195.5 67.3 195.5 64.0 195.3 C60.7 195.1 61.5 195.1 60.0 195.0 C58.5 195.0 55.8 205.9 55.0 195.0 C54.2 184.2 -1.2 140.8 55.0 130.0 Z" fill="#FFA000"/>
<path d="M57.3 213.0 C58.4 208.0 60.2 213.2 64.0 213.0 C67.8 212.9 75.1 212.8 80.0 212.4 C84.9 211.9 89.1 210.8 93.4 210.4 C97.6 209.9 102.5 208.9 105.4 209.7 C108.2 210.5 109.1 213.0 110.7 215.0 C112.3 217.0 114.3 219.9 114.7 221.7 C115.1 223.5 115.1 224.8 113.4 225.7 C111.6 226.6 107.4 226.6 104.0 227.0 C100.7 227.5 96.7 227.7 93.4 228.4 C90.0 229.1 86.9 229.9 84.0 231.1 C81.1 232.2 78.7 233.5 76.0 235.1 C73.3 236.6 70.0 239.2 68.0 240.4 C66.0 241.5 65.8 241.5 64.0 242.0 C62.2 242.4 58.4 247.9 57.3 243.1 C56.2 238.2 56.2 218.0 57.3 213.0 Z" fill="#FFA000"/>
<path d="M60.0 244.3 C60.7 245.4 62.4 243.7 64.0 243.0 C65.6 242.3 67.6 241.4 69.3 240.3 C71.1 239.2 76.2 237.0 74.7 236.3 C73.1 235.7 62.4 235.0 60.0 236.3 C57.6 237.7 59.3 243.2 60.0 244.3 Z" fill="#FFA000"/>
<path d="M280.0 241.0 C279.7 241.8 275.7 243.4 273.7 245.0 C271.8 246.6 270.2 248.8 268.4 250.3 C266.6 251.9 264.8 253.2 263.1 254.3 C261.3 255.5 259.5 256.1 257.7 257.0 C255.9 257.9 254.2 258.6 252.4 259.7 C250.6 260.8 248.2 262.3 247.0 263.7 C245.9 265.0 245.3 266.6 245.7 267.7 C246.2 268.8 248.2 270.1 249.7 270.4 C251.3 270.6 253.3 269.0 255.0 269.0 C256.8 269.0 259.0 269.2 260.4 270.4 C261.7 271.5 263.1 273.9 263.1 275.7 C263.1 277.5 261.1 279.2 260.4 281.0 C259.7 282.8 258.6 285.0 259.0 286.4 C259.5 287.7 261.3 289.0 263.1 289.0 C264.8 289.0 267.5 287.5 269.7 286.4 C272.0 285.2 275.0 284.4 276.7 282.4 C278.4 280.4 279.1 277.9 280.0 274.4 C280.9 270.8 281.4 265.5 282.0 261.0 C282.6 256.6 282.8 251.7 283.3 247.7 C283.9 243.7 284.7 238.7 285.3 237.0 C286.0 235.3 286.6 238.7 287.3 237.7 C288.1 236.7 290.0 232.8 290.0 231.1 C290.0 229.3 288.7 227.5 287.3 227.0 C286.0 226.6 283.6 227.3 282.0 228.4 C280.4 229.5 279.1 231.7 278.0 233.7 C276.9 235.7 275.0 239.2 275.3 240.4 C275.7 241.6 280.3 240.2 280.0 241.0 Z" fill="#FFC03C"/>
<path d="M258.4 257.0 C259.3 255.9 261.6 255.5 263.1 255.7 C264.5 255.9 266.6 257.0 267.1 258.3 C267.5 259.7 266.8 262.6 265.7 263.7 C264.6 264.8 261.7 265.2 260.4 265.0 C259.0 264.8 258.0 263.7 257.7 262.3 C257.4 261.0 257.5 258.1 258.4 257.0 Z" fill="#FFA000"/>
<path d="M193.9 366.0 C194.6 364.5 197.3 363.6 198.9 363.6 C200.5 363.6 202.7 364.8 203.5 366.0 C204.4 367.2 204.5 369.6 203.9 371.0 C203.3 372.4 201.4 374.1 199.9 374.4 C198.4 374.6 195.9 373.8 194.9 372.4 C193.9 371.0 193.3 367.5 193.9 366.0 Z" fill="#FFA000"/>
<path d="M55.0 130.0 C111.2 121.5 335.8 114.9 392.0 130.0 C448.2 145.1 392.8 205.5 392.0 220.6 C391.2 235.8 389.9 220.0 387.4 220.6 C384.8 221.3 379.8 223.3 376.7 224.4 C373.6 225.4 371.2 225.9 368.7 227.0 C366.3 228.2 364.3 229.7 362.0 231.1 C359.8 232.4 357.3 234.1 355.4 235.1 C353.5 236.0 352.7 235.9 350.7 237.0 C348.7 238.1 345.9 240.2 343.4 241.7 C340.8 243.1 337.8 244.6 335.4 245.7 C332.9 246.8 330.6 247.1 328.7 248.3 C326.8 249.6 325.1 251.1 324.0 253.0 C322.9 254.9 322.5 257.5 322.0 259.7 C321.6 261.9 321.9 264.1 321.4 266.3 C320.8 268.6 319.9 270.9 318.7 273.0 C317.5 275.1 315.1 277.4 314.0 279.0 C312.9 280.7 313.1 281.8 312.0 283.0 C310.9 284.2 309.1 285.4 307.4 286.4 C305.6 287.4 303.3 288.0 301.3 289.0 C299.3 290.0 297.5 291.5 295.3 292.4 C293.2 293.3 290.6 294.1 288.7 294.4 C286.8 294.6 285.0 294.6 284.0 293.7 C283.0 292.8 282.7 291.1 282.7 289.0 C282.7 286.9 283.6 283.9 284.0 281.0 C284.5 278.1 284.9 275.0 285.3 271.7 C285.8 268.4 286.2 264.6 286.7 261.0 C287.1 257.5 287.3 253.2 288.0 250.3 C288.7 247.5 289.7 245.1 290.7 243.7 C291.7 242.3 292.9 243.2 294.0 242.0 C295.1 240.8 296.5 238.4 297.3 236.4 C298.2 234.3 299.0 231.7 299.1 229.7 C299.2 227.7 298.9 225.9 298.0 224.4 C297.2 222.8 295.8 221.7 294.0 220.4 C292.2 219.0 289.6 217.6 287.3 216.4 C285.1 215.2 282.7 213.3 280.7 213.0 C278.6 212.8 276.4 213.8 275.1 215.0 C273.7 216.3 273.5 218.8 272.4 220.4 C271.3 221.9 269.9 223.5 268.4 224.4 C266.8 225.3 264.6 225.0 263.1 225.7 C261.5 226.4 260.3 226.8 259.0 228.4 C257.8 229.9 256.6 233.1 255.7 235.1 C254.9 237.1 254.8 238.7 254.0 240.4 C253.2 242.0 252.2 243.6 251.0 245.0 C249.9 246.4 249.0 248.2 247.0 249.0 C245.0 249.8 241.0 250.1 239.0 249.7 C237.0 249.2 236.0 247.7 235.0 246.3 C234.0 245.0 233.9 242.9 233.0 241.7 C232.1 240.4 230.8 239.2 229.7 239.0 C228.6 238.8 227.3 239.3 226.4 240.3 C225.5 241.3 224.6 243.3 224.4 245.0 C224.1 246.7 224.6 248.6 225.0 250.3 C225.5 252.1 226.3 254.0 227.0 255.7 C227.8 257.3 228.8 258.7 229.7 260.3 C230.6 262.0 231.5 264.0 232.4 265.7 C233.3 267.3 233.9 269.1 235.0 270.4 C236.1 271.6 237.7 272.1 239.0 273.0 C240.4 273.9 242.2 274.8 243.0 275.7 C243.9 276.6 244.6 277.2 244.4 278.4 C244.2 279.5 242.8 281.0 241.7 282.4 C240.6 283.7 239.0 285.0 237.7 286.4 C236.4 287.7 235.0 289.0 233.7 290.4 C232.4 291.7 231.0 293.0 229.7 294.4 C228.4 295.7 227.3 297.1 225.7 298.4 C224.1 299.6 222.4 300.9 220.4 301.7 C218.4 302.5 215.7 302.5 213.7 303.0 C211.7 303.6 210.1 304.1 208.4 305.0 C206.6 305.9 204.6 307.3 203.0 308.4 C201.5 309.5 200.0 311.3 199.0 311.7 C198.0 312.2 197.3 311.9 197.0 311.0 C196.7 310.2 196.9 308.3 197.0 306.4 C197.1 304.5 197.5 302.1 197.7 299.7 C197.9 297.3 198.1 294.4 198.4 291.7 C198.6 289.0 198.9 286.4 199.0 283.7 C199.1 281.0 199.4 278.0 199.0 275.7 C198.7 273.4 198.1 271.6 197.0 269.7 C195.9 267.8 194.2 266.2 192.3 264.3 C190.5 262.5 187.9 260.5 185.7 258.3 C183.5 256.2 181.2 253.9 179.0 251.7 C176.8 249.5 174.3 247.0 172.3 245.0 C170.3 243.0 168.8 241.0 167.0 239.7 C165.2 238.3 163.0 238.5 161.4 237.1 C159.8 235.6 158.7 233.6 157.4 231.1 C156.1 228.5 154.5 224.6 153.4 221.7 C152.3 218.8 151.0 216.4 150.7 213.7 C150.4 211.0 150.7 208.3 151.4 205.7 C152.0 203.1 153.3 200.8 154.7 198.4 C156.2 195.9 158.1 193.6 160.1 191.0 C162.1 188.5 165.1 185.2 166.7 183.0 C168.3 180.8 168.6 179.5 169.7 177.7 C170.7 175.9 171.7 173.8 173.0 172.4 C174.3 170.9 176.1 169.5 177.7 169.0 C179.2 168.5 181.1 168.8 182.3 169.4 C183.6 170.1 184.3 171.6 185.0 173.0 C185.7 174.4 185.7 175.8 186.3 177.7 C187.0 179.6 188.1 182.4 189.0 184.4 C189.9 186.4 190.7 188.5 191.7 189.7 C192.7 190.9 193.8 191.7 195.0 191.7 C196.2 191.7 197.5 190.4 199.0 189.7 C200.6 189.0 202.6 187.9 204.4 187.7 C206.1 187.5 207.9 187.7 209.7 188.4 C211.5 189.0 213.2 190.5 215.0 191.7 C216.8 192.9 218.6 194.5 220.4 195.7 C222.1 196.9 223.9 197.9 225.7 199.0 C227.5 200.1 229.3 201.3 231.0 202.4 C232.8 203.5 234.8 205.0 236.4 205.7 C237.9 206.4 239.6 207.3 240.4 206.4 C241.2 205.5 241.2 202.7 241.0 200.4 C240.9 198.0 240.3 194.8 239.7 192.4 C239.1 189.9 238.7 187.6 237.7 185.7 C236.7 183.8 235.3 182.1 233.7 181.0 C232.1 179.9 230.4 179.6 228.4 179.0 C226.4 178.5 223.5 178.4 221.7 177.7 C219.9 177.0 219.3 176.2 217.7 175.0 C216.1 173.8 214.1 171.8 212.4 170.4 C210.6 168.9 209.0 167.6 207.0 166.4 C205.0 165.1 202.6 163.9 200.4 163.0 C198.1 162.1 195.9 161.7 193.7 161.0 C191.5 160.3 189.2 160.0 187.0 159.0 C184.8 158.0 182.3 155.9 180.3 155.0 C178.3 154.1 176.6 153.8 175.0 153.4 C173.4 153.1 172.3 152.8 170.7 152.9 C169.1 153.0 167.2 153.3 165.4 153.9 C163.6 154.6 161.2 155.8 160.1 157.0 C158.9 158.2 159.6 159.9 158.7 161.0 C157.8 162.1 156.3 162.9 154.7 163.7 C153.2 164.5 150.9 164.8 149.4 165.7 C147.8 166.6 146.4 167.7 145.4 169.0 C144.4 170.4 143.9 171.8 143.4 173.7 C142.8 175.6 142.7 178.2 142.0 180.4 C141.4 182.5 140.5 184.7 139.4 186.4 C138.3 188.0 136.8 189.5 135.4 190.4 C133.9 191.3 132.8 191.8 130.7 191.7 C128.6 191.6 125.6 190.0 122.7 189.7 C119.8 189.4 117.1 189.8 113.4 189.7 C109.6 189.6 104.5 189.7 100.0 189.0 C95.6 188.4 90.0 186.7 86.7 185.7 C83.3 184.7 82.2 184.0 80.0 183.0 C77.8 182.0 75.1 180.2 73.3 179.7 C71.6 179.1 70.9 179.4 69.3 179.7 C67.8 180.0 65.6 181.5 64.0 181.7 C62.4 181.9 61.5 181.1 60.0 181.0 C58.5 180.9 55.8 189.5 55.0 181.0 C54.2 172.5 -1.2 138.5 55.0 130.0 Z" fill="#FF6400" stroke="#FFA000" stroke-width="9" stroke-linejoin="round"/>
<path d="M55.0 130.0 C111.2 121.5 335.8 114.9 392.0 130.0 C448.2 145.1 392.8 205.5 392.0 220.6 C391.2 235.8 389.9 220.0 387.4 220.6 C384.8 221.3 379.8 223.3 376.7 224.4 C373.6 225.4 371.2 225.9 368.7 227.0 C366.3 228.2 364.3 229.7 362.0 231.1 C359.8 232.4 357.3 234.1 355.4 235.1 C353.5 236.0 352.7 235.9 350.7 237.0 C348.7 238.1 345.9 240.2 343.4 241.7 C340.8 243.1 337.8 244.6 335.4 245.7 C332.9 246.8 330.6 247.1 328.7 248.3 C326.8 249.6 325.1 251.1 324.0 253.0 C322.9 254.9 322.5 257.5 322.0 259.7 C321.6 261.9 321.9 264.1 321.4 266.3 C320.8 268.6 319.9 270.9 318.7 273.0 C317.5 275.1 315.1 277.4 314.0 279.0 C312.9 280.7 313.1 281.8 312.0 283.0 C310.9 284.2 309.1 285.4 307.4 286.4 C305.6 287.4 303.3 288.0 301.3 289.0 C299.3 290.0 297.5 291.5 295.3 292.4 C293.2 293.3 290.6 294.1 288.7 294.4 C286.8 294.6 285.0 294.6 284.0 293.7 C283.0 292.8 282.7 291.1 282.7 289.0 C282.7 286.9 283.6 283.9 284.0 281.0 C284.5 278.1 284.9 275.0 285.3 271.7 C285.8 268.4 286.2 264.6 286.7 261.0 C287.1 257.5 287.3 253.2 288.0 250.3 C288.7 247.5 289.7 245.1 290.7 243.7 C291.7 242.3 292.9 243.2 294.0 242.0 C295.1 240.8 296.5 238.4 297.3 236.4 C298.2 234.3 299.0 231.7 299.1 229.7 C299.2 227.7 298.9 225.9 298.0 224.4 C297.2 222.8 295.8 221.7 294.0 220.4 C292.2 219.0 289.6 217.6 287.3 216.4 C285.1 215.2 282.7 213.3 280.7 213.0 C278.6 212.8 276.4 213.8 275.1 215.0 C273.7 216.3 273.5 218.8 272.4 220.4 C271.3 221.9 269.9 223.5 268.4 224.4 C266.8 225.3 264.6 225.0 263.1 225.7 C261.5 226.4 260.3 226.8 259.0 228.4 C257.8 229.9 256.6 233.1 255.7 235.1 C254.9 237.1 254.8 238.7 254.0 240.4 C253.2 242.0 252.2 243.6 251.0 245.0 C249.9 246.4 249.0 248.2 247.0 249.0 C245.0 249.8 241.0 250.1 239.0 249.7 C237.0 249.2 236.0 247.7 235.0 246.3 C234.0 245.0 233.9 242.9 233.0 241.7 C232.1 240.4 230.8 239.2 229.7 239.0 C228.6 238.8 227.3 239.3 226.4 240.3 C225.5 241.3 224.6 243.3 224.4 245.0 C224.1 246.7 224.6 248.6 225.0 250.3 C225.5 252.1 226.3 254.0 227.0 255.7 C227.8 257.3 228.8 258.7 229.7 260.3 C230.6 262.0 231.5 264.0 232.4 265.7 C233.3 267.3 233.9 269.1 235.0 270.4 C236.1 271.6 237.7 272.1 239.0 273.0 C240.4 273.9 242.2 274.8 243.0 275.7 C243.9 276.6 244.6 277.2 244.4 278.4 C244.2 279.5 242.8 281.0 241.7 282.4 C240.6 283.7 239.0 285.0 237.7 286.4 C236.4 287.7 235.0 289.0 233.7 290.4 C232.4 291.7 231.0 293.0 229.7 294.4 C228.4 295.7 227.3 297.1 225.7 298.4 C224.1 299.6 222.4 300.9 220.4 301.7 C218.4 302.5 215.7 302.5 213.7 303.0 C211.7 303.6 210.1 304.1 208.4 305.0 C206.6 305.9 204.6 307.3 203.0 308.4 C201.5 309.5 200.0 311.3 199.0 311.7 C198.0 312.2 197.3 311.9 197.0 311.0 C196.7 310.2 196.9 308.3 197.0 306.4 C197.1 304.5 197.5 302.1 197.7 299.7 C197.9 297.3 198.1 294.4 198.4 291.7 C198.6 289.0 198.9 286.4 199.0 283.7 C199.1 281.0 199.4 278.0 199.0 275.7 C198.7 273.4 198.1 271.6 197.0 269.7 C195.9 267.8 194.2 266.2 192.3 264.3 C190.5 262.5 187.9 260.5 185.7 258.3 C183.5 256.2 181.2 253.9 179.0 251.7 C176.8 249.5 174.3 247.0 172.3 245.0 C170.3 243.0 168.8 241.0 167.0 239.7 C165.2 238.3 163.0 238.5 161.4 237.1 C159.8 235.6 158.7 233.6 157.4 231.1 C156.1 228.5 154.5 224.6 153.4 221.7 C152.3 218.8 151.0 216.4 150.7 213.7 C150.4 211.0 150.7 208.3 151.4 205.7 C152.0 203.1 153.3 200.8 154.7 198.4 C156.2 195.9 158.1 193.6 160.1 191.0 C162.1 188.5 165.1 185.2 166.7 183.0 C168.3 180.8 168.6 179.5 169.7 177.7 C170.7 175.9 171.7 173.8 173.0 172.4 C174.3 170.9 176.1 169.5 177.7 169.0 C179.2 168.5 181.1 168.8 182.3 169.4 C183.6 170.1 184.3 171.6 185.0 173.0 C185.7 174.4 185.7 175.8 186.3 177.7 C187.0 179.6 188.1 182.4 189.0 184.4 C189.9 186.4 190.7 188.5 191.7 189.7 C192.7 190.9 193.8 191.7 195.0 191.7 C196.2 191.7 197.5 190.4 199.0 189.7 C200.6 189.0 202.6 187.9 204.4 187.7 C206.1 187.5 207.9 187.7 209.7 188.4 C211.5 189.0 213.2 190.5 215.0 191.7 C216.8 192.9 218.6 194.5 220.4 195.7 C222.1 196.9 223.9 197.9 225.7 199.0 C227.5 200.1 229.3 201.3 231.0 202.4 C232.8 203.5 234.8 205.0 236.4 205.7 C237.9 206.4 239.6 207.3 240.4 206.4 C241.2 205.5 241.2 202.7 241.0 200.4 C240.9 198.0 240.3 194.8 239.7 192.4 C239.1 189.9 238.7 187.6 237.7 185.7 C236.7 183.8 235.3 182.1 233.7 181.0 C232.1 179.9 230.4 179.6 228.4 179.0 C226.4 178.5 223.5 178.4 221.7 177.7 C219.9 177.0 219.3 176.2 217.7 175.0 C216.1 173.8 214.1 171.8 212.4 170.4 C210.6 168.9 209.0 167.6 207.0 166.4 C205.0 165.1 202.6 163.9 200.4 163.0 C198.1 162.1 195.9 161.7 193.7 161.0 C191.5 160.3 189.2 160.0 187.0 159.0 C184.8 158.0 182.3 155.9 180.3 155.0 C178.3 154.1 176.6 153.8 175.0 153.4 C173.4 153.1 172.3 152.8 170.7 152.9 C169.1 153.0 167.2 153.3 165.4 153.9 C163.6 154.6 161.2 155.8 160.1 157.0 C158.9 158.2 159.6 159.9 158.7 161.0 C157.8 162.1 156.3 162.9 154.7 163.7 C153.2 164.5 150.9 164.8 149.4 165.7 C147.8 166.6 146.4 167.7 145.4 169.0 C144.4 170.4 143.9 171.8 143.4 173.7 C142.8 175.6 142.7 178.2 142.0 180.4 C141.4 182.5 140.5 184.7 139.4 186.4 C138.3 188.0 136.8 189.5 135.4 190.4 C133.9 191.3 132.8 191.8 130.7 191.7 C128.6 191.6 125.6 190.0 122.7 189.7 C119.8 189.4 117.1 189.8 113.4 189.7 C109.6 189.6 104.5 189.7 100.0 189.0 C95.6 188.4 90.0 186.7 86.7 185.7 C83.3 184.7 82.2 184.0 80.0 183.0 C77.8 182.0 75.1 180.2 73.3 179.7 C71.6 179.1 70.9 179.4 69.3 179.7 C67.8 180.0 65.6 181.5 64.0 181.7 C62.4 181.9 61.5 181.1 60.0 181.0 C58.5 180.9 55.8 189.5 55.0 181.0 C54.2 172.5 -1.2 138.5 55.0 130.0 Z" fill="#FF6400"/>
<path d="M262.4 299.7 C262.4 298.7 262.7 297.5 263.3 296.8 C264.0 296.0 265.2 295.3 266.4 295.2 C267.6 295.0 269.3 295.2 270.4 295.7 C271.5 296.2 272.4 297.2 272.8 298.1 C273.2 299.0 273.2 300.4 272.8 301.3 C272.4 302.2 271.5 303.2 270.4 303.7 C269.3 304.2 267.6 304.6 266.4 304.5 C265.2 304.4 264.0 303.8 263.3 303.0 C262.7 302.2 262.4 300.7 262.4 299.7 Z" fill="#FF6400" stroke="#111" stroke-width="0.75"/>
<path d="M74.7 135.0 C65.8 135.8 74.0 138.6 74.7 140.1 C75.3 141.6 77.1 143.0 78.7 144.1 C80.2 145.1 82.3 146.3 84.0 146.3 C85.7 146.3 86.9 144.4 88.7 144.1 C90.5 143.7 92.6 143.8 94.7 144.3 C96.8 144.9 99.1 146.2 101.4 147.3 C103.6 148.3 106.0 149.6 108.0 150.7 C110.0 151.9 111.8 153.2 113.4 154.3 C114.9 155.5 116.1 156.5 117.4 157.7 C118.6 158.9 119.4 160.4 120.7 161.7 C122.0 163.0 123.9 164.6 125.4 165.4 C126.8 166.2 128.4 166.8 129.4 166.4 C130.4 165.9 131.3 164.5 131.4 163.0 C131.5 161.6 130.6 159.7 130.0 157.7 C129.5 155.7 128.5 153.0 128.0 151.0 C127.6 149.0 127.4 147.5 127.4 145.7 C127.3 143.8 127.7 141.8 127.8 140.1 C127.8 138.3 136.6 135.8 127.8 135.0 C118.9 134.2 83.5 134.2 74.7 135.0 Z" fill="#FFA000" stroke="#111" stroke-width="0.75"/>
<path d="M95.4 135.0 C90.8 135.8 94.6 138.8 95.4 140.1 C96.1 141.4 98.2 142.0 100.0 142.7 C101.8 143.5 104.0 143.8 106.0 144.6 C108.0 145.4 110.4 146.7 112.0 147.3 C113.7 147.9 114.7 148.2 116.0 148.1 C117.4 147.9 119.0 147.2 120.0 146.3 C121.0 145.5 121.6 144.0 122.0 143.0 C122.4 142.0 122.4 141.4 122.4 140.1 C122.5 138.7 126.9 135.8 122.4 135.0 C117.9 134.2 99.9 134.2 95.4 135.0 Z" fill="#FFC03C"/>
<path d="M285.3 135.0 C268.1 135.8 285.2 138.8 286.7 140.1 C288.1 141.4 291.2 142.0 294.0 142.7 C296.8 143.4 300.0 144.3 303.3 144.3 C306.7 144.4 310.5 143.5 314.0 143.0 C317.6 142.5 321.4 141.8 324.7 141.4 C328.0 141.0 330.9 140.8 334.0 140.6 C337.1 140.4 340.6 140.4 343.4 140.3 C346.1 140.3 348.7 139.8 350.7 140.3 C352.7 140.9 353.7 142.2 355.4 143.7 C357.0 145.1 358.9 147.3 360.7 149.0 C362.5 150.7 364.3 152.2 366.0 153.7 C367.8 155.1 369.7 156.3 371.4 157.7 C373.1 159.0 374.7 160.3 376.1 161.7 C377.4 163.0 378.1 164.7 379.4 165.7 C380.7 166.7 382.3 167.0 384.1 167.7 C385.8 168.4 389.1 175.1 390.1 169.7 C391.1 164.2 407.5 140.8 390.1 135.0 C372.6 129.2 302.6 134.2 285.3 135.0 Z" fill="#FFA000" stroke="#111" stroke-width="0.75"/>
<path d="M360.7 135.0 C355.8 135.8 360.0 138.4 360.7 140.1 C361.4 141.7 363.2 143.5 364.7 145.0 C366.3 146.5 368.3 147.7 370.1 149.0 C371.8 150.3 373.6 151.6 375.4 153.0 C377.2 154.5 379.3 156.7 380.7 157.7 C382.2 158.7 382.5 158.6 384.1 159.0 C385.6 159.5 389.1 164.3 390.1 160.3 C391.1 156.3 395.0 139.2 390.1 135.0 C385.2 130.8 365.6 134.2 360.7 135.0 Z" fill="#FFC03C"/>
<path d="M364.7 135.0 C360.5 135.8 364.0 138.6 364.7 140.1 C365.4 141.5 367.2 142.5 368.7 143.7 C370.3 144.8 372.3 145.8 374.1 147.0 C375.8 148.2 377.7 149.7 379.4 151.0 C381.1 152.3 382.3 154.0 384.1 155.0 C385.8 156.0 389.1 160.3 390.1 157.0 C391.1 153.7 394.3 138.7 390.1 135.0 C385.8 131.3 368.9 134.2 364.7 135.0 Z" fill="#FFE878"/>
<path d="M368.7 135.0 C365.2 135.8 368.1 138.8 368.7 140.1 C369.4 141.3 371.3 141.5 372.7 142.3 C374.2 143.2 376.1 144.1 377.4 145.0 C378.7 145.9 379.6 146.9 380.7 147.7 C381.8 148.5 382.5 149.0 384.1 149.7 C385.6 150.3 389.1 154.1 390.1 151.7 C391.1 149.2 393.6 137.8 390.1 135.0 C386.5 132.2 372.3 134.2 368.7 135.0 Z" fill="#78B9FF" stroke="#111" stroke-width="0.75"/>
<path d="M196.3 177.7 C196.6 176.6 197.3 174.6 198.4 173.7 C199.4 172.8 200.9 172.4 202.4 172.4 C203.8 172.4 205.9 172.9 207.0 173.7 C208.1 174.5 209.1 175.9 209.0 177.0 C208.9 178.1 207.7 179.6 206.4 180.4 C205.0 181.1 202.6 181.7 201.0 181.7 C199.5 181.7 197.8 181.0 197.0 180.4 C196.2 179.7 196.1 178.8 196.3 177.7 Z" fill="#FFC03C"/>
<path d="M141.4 152.3 C141.8 151.1 144.7 148.5 146.0 148.3 C147.4 148.2 149.3 150.5 149.4 151.7 C149.5 152.9 147.7 155.0 146.7 155.7 C145.7 156.3 144.3 156.2 143.4 155.7 C142.5 155.1 140.9 153.6 141.4 152.3 Z" fill="#FF3200"/>
<path d="M348.0 159.7 C348.4 158.8 349.8 157.3 351.4 157.0 C352.9 156.7 355.4 157.0 357.4 157.7 C359.4 158.3 361.5 159.7 363.4 161.0 C365.3 162.3 367.5 164.2 368.7 165.7 C369.9 167.1 370.9 168.8 370.7 169.7 C370.5 170.5 369.1 171.0 367.4 170.8 C365.7 170.5 362.9 169.3 360.7 168.4 C358.5 167.4 355.9 166.0 354.0 165.0 C352.2 164.0 350.4 163.2 349.4 162.3 C348.4 161.5 347.7 160.6 348.0 159.7 Z" fill="#FF3200"/>
<path d="M268.4 184.4 C268.5 182.8 269.7 181.7 271.1 181.0 C272.4 180.4 274.6 180.3 276.4 180.4 C278.2 180.4 280.1 180.6 281.7 181.4 C283.4 182.2 285.5 183.6 286.4 185.0 C287.3 186.4 287.4 188.4 287.1 189.7 C286.7 191.0 285.5 192.4 284.4 193.0 C283.3 193.7 282.0 193.7 280.4 193.7 C278.8 193.7 276.7 193.6 275.1 193.0 C273.4 192.5 271.5 191.8 270.4 190.4 C269.3 188.9 268.3 185.9 268.4 184.4 Z" fill="#FF3200"/>
<path d="M253.0 192.1 C253.6 192.0 256.4 192.2 256.4 192.4 C256.4 192.5 253.6 193.2 253.0 193.2 C252.5 193.1 252.5 192.2 253.0 192.1 Z" fill="#FF3200"/>
<path d="M167.0 213.7 C166.8 216.2 170.6 216.2 172.3 217.7 C174.1 219.3 175.9 221.7 177.7 223.0 C179.5 224.4 181.2 226.2 183.0 225.7 C184.8 225.3 186.8 221.7 188.3 220.4 C189.9 219.0 190.8 217.7 192.3 217.7 C193.9 217.7 196.1 219.7 197.7 220.4 C199.2 221.0 200.1 222.2 201.7 221.7 C203.2 221.3 205.7 219.3 207.0 217.7 C208.4 216.2 209.7 214.2 209.7 212.4 C209.7 210.6 207.7 208.6 207.0 207.0 C206.4 205.5 205.2 204.1 205.7 203.0 C206.1 201.9 208.1 200.6 209.7 200.4 C211.2 200.1 213.2 200.8 215.0 201.7 C216.8 202.6 218.8 204.4 220.4 205.7 C221.9 207.0 223.5 208.2 224.4 209.7 C225.3 211.3 225.9 213.0 225.7 215.0 C225.5 217.0 224.4 219.7 223.0 221.7 C221.7 223.7 219.5 225.7 217.7 227.0 C215.9 228.4 214.4 229.1 212.4 229.7 C210.4 230.4 207.5 230.4 205.7 231.1 C203.9 231.7 203.2 233.1 201.7 233.7 C200.1 234.4 197.9 233.9 196.3 235.1 C194.8 236.2 193.0 239.2 192.3 240.4 C191.7 241.6 191.2 241.1 192.3 242.3 C193.5 243.5 197.0 246.1 199.0 247.7 C201.0 249.2 203.0 250.1 204.4 251.7 C205.7 253.2 205.9 255.7 207.0 257.0 C208.1 258.3 209.2 259.5 211.0 259.7 C212.8 259.9 215.7 258.3 217.7 258.3 C219.7 258.3 221.5 258.6 223.0 259.7 C224.6 260.8 226.0 263.0 227.0 265.0 C228.0 267.0 228.8 269.5 229.0 271.7 C229.3 273.9 228.9 276.4 228.4 278.4 C227.8 280.4 226.8 282.0 225.7 283.7 C224.6 285.4 223.1 287.0 221.7 288.4 C220.3 289.7 218.6 291.0 217.0 291.7 C215.5 292.4 214.0 292.6 212.4 292.4 C210.7 292.1 208.6 291.4 207.0 290.4 C205.5 289.4 204.0 287.9 203.0 286.4 C202.0 284.8 201.5 282.8 201.0 281.0 C200.6 279.2 200.8 277.5 200.4 275.7 C199.9 273.9 199.5 272.1 198.4 270.4 C197.2 268.6 195.6 267.1 193.7 265.3 C191.8 263.5 189.2 261.5 187.0 259.4 C184.8 257.3 182.6 255.0 180.3 252.7 C178.1 250.5 175.7 248.1 173.7 246.1 C171.7 244.1 170.0 242.1 168.3 240.7 C166.6 239.3 164.9 239.3 163.4 237.7 C161.9 236.1 160.6 233.5 159.4 231.1 C158.2 228.6 156.8 225.5 156.1 223.0 C155.3 220.6 155.2 218.6 155.0 216.4 C154.8 214.2 154.5 211.8 155.0 209.7 C155.5 207.6 156.5 204.5 158.1 203.7 C159.6 202.9 161.5 205.1 164.1 205.0 C166.6 204.9 172.9 201.6 173.4 203.0 C173.9 204.5 167.2 211.3 167.0 213.7 Z" fill="#FF3200"/>
<path d="M207.7 275.7 C207.7 273.5 208.1 271.4 209.0 269.7 C209.9 268.0 211.6 266.6 213.0 265.7 C214.5 264.8 216.2 264.3 217.7 264.3 C219.1 264.3 220.6 264.7 221.7 265.7 C222.8 266.7 223.7 268.6 224.1 270.4 C224.5 272.1 224.5 274.5 224.1 276.4 C223.7 278.2 222.8 280.2 221.7 281.7 C220.6 283.1 219.1 284.3 217.7 285.0 C216.2 285.8 214.5 286.4 213.0 286.1 C211.6 285.8 209.9 284.8 209.0 283.0 C208.1 281.3 207.7 277.9 207.7 275.7 Z" fill="#E61400"/>
<path d="M186.1 247.0 C186.4 246.7 187.6 246.7 187.9 247.0 C188.3 247.3 188.3 248.3 187.9 248.6 C187.6 248.9 186.4 248.9 186.1 248.6 C185.8 248.3 185.8 247.3 186.1 247.0 Z" fill="#E61400"/>
<path d="M188.7 250.9 C189.1 250.6 190.3 250.6 190.6 250.9 C190.9 251.1 190.9 252.2 190.6 252.5 C190.3 252.7 189.1 252.7 188.7 252.5 C188.4 252.2 188.4 251.1 188.7 250.9 Z" fill="#E61400"/>
<path d="M159.4 163.7 C161.4 163.5 163.8 164.5 165.4 165.7 C166.9 166.9 168.3 169.2 168.7 171.0 C169.2 172.8 168.7 174.5 168.1 176.4 C167.4 178.2 166.1 180.4 164.7 182.4 C163.4 184.4 161.6 186.2 160.1 188.4 C158.5 190.5 156.7 192.9 155.4 195.0 C154.1 197.1 153.0 198.9 152.0 201.0 C151.1 203.1 150.0 205.4 149.6 207.7 C149.2 210.0 149.2 212.5 149.6 215.0 C150.0 217.6 151.1 220.5 152.0 223.0 C153.0 225.6 154.2 227.9 155.4 230.4 C156.6 232.8 158.3 235.8 159.4 237.7 C160.5 239.7 160.2 241.3 162.1 242.0 C163.9 242.6 168.1 240.7 170.3 241.7 C172.6 242.6 173.7 245.7 175.7 247.7 C177.7 249.7 180.1 251.6 182.3 253.7 C184.6 255.8 187.1 258.2 189.0 260.3 C190.9 262.5 192.5 264.5 193.7 266.6 C194.9 268.7 195.5 270.4 196.1 273.0 C196.6 275.6 196.9 279.0 197.0 282.4 C197.1 285.7 196.8 289.9 196.6 293.0 C196.4 296.1 196.1 298.4 195.7 301.0 C195.3 303.7 194.9 306.4 194.3 309.0 C193.8 311.7 193.0 314.4 192.3 317.0 C191.7 319.7 190.8 321.9 190.3 325.0 C189.9 328.2 189.7 331.9 189.7 335.7 C189.7 339.5 194.1 345.7 190.3 347.7 C186.6 349.7 170.9 353.7 167.0 347.7 C163.1 341.7 167.5 323.5 167.0 311.7 C166.5 299.9 165.4 283.9 164.1 277.0 C162.7 270.1 160.7 273.0 158.7 270.4 C156.7 267.7 154.3 264.6 152.0 261.0 C149.8 257.5 147.4 253.0 145.4 249.0 C143.4 245.0 141.2 239.5 140.0 237.0 C138.9 234.5 139.5 235.6 138.7 233.7 C137.9 231.8 136.2 228.6 135.4 225.7 C134.6 222.8 134.2 219.5 134.0 216.4 C133.9 213.3 134.2 209.7 134.7 207.0 C135.3 204.4 136.3 202.5 137.4 200.4 C138.5 198.3 140.0 196.4 141.4 194.4 C142.7 192.4 144.4 190.5 145.4 188.4 C146.4 186.2 146.8 184.1 147.4 181.7 C147.9 179.2 147.7 176.1 148.7 173.7 C149.7 171.2 151.6 168.7 153.4 167.0 C155.2 165.3 157.4 163.9 159.4 163.7 Z" fill="#FFC03C"/>
<path d="M167.4 289.0 C168.1 287.6 170.1 287.2 170.7 288.4 C171.4 289.5 171.5 293.4 171.4 295.7 C171.3 298.0 170.7 301.1 170.1 302.4 C169.4 303.6 168.0 303.9 167.4 303.0 C166.8 302.1 166.5 299.4 166.5 297.0 C166.5 294.7 166.7 290.5 167.4 289.0 Z" fill="#FFA000"/>
<path d="M158.7 170.4 C160.2 169.9 162.3 170.5 163.4 171.0 C164.5 171.6 165.3 172.4 165.4 173.7 C165.5 175.0 164.9 177.2 164.1 179.0 C163.2 180.8 161.4 182.6 160.1 184.4 C158.7 186.1 157.4 187.9 156.1 189.7 C154.7 191.5 153.3 193.3 152.0 195.0 C150.8 196.8 149.6 198.4 148.7 200.4 C147.8 202.4 147.0 204.6 146.7 207.0 C146.4 209.5 146.3 212.4 146.7 215.0 C147.2 217.7 148.3 220.4 149.4 223.0 C150.5 225.7 152.0 228.6 153.4 231.1 C154.7 233.5 156.3 235.9 157.4 237.7 C158.5 239.5 158.5 240.2 160.1 242.0 C161.7 243.8 165.0 246.6 167.0 248.3 C169.0 250.1 170.3 250.8 172.3 252.3 C174.3 253.9 176.8 255.8 179.0 257.7 C181.2 259.6 183.7 261.7 185.7 263.7 C187.7 265.7 189.7 267.7 191.0 269.7 C192.3 271.7 193.1 273.4 193.7 275.7 C194.2 278.0 194.2 280.8 194.3 283.7 C194.5 286.6 194.5 290.1 194.3 293.0 C194.2 295.9 194.0 298.4 193.7 301.0 C193.3 303.7 193.0 306.4 192.3 309.0 C191.7 311.7 190.5 314.4 189.7 317.0 C188.9 319.7 188.1 322.4 187.7 325.0 C187.2 327.7 187.0 329.9 187.0 333.1 C187.0 336.2 187.6 340.9 187.7 344.0 C187.8 347.1 191.1 350.4 187.7 351.7 C184.2 353.0 170.2 353.0 167.0 351.7 C163.8 350.4 168.0 347.1 168.3 344.0 C168.7 340.9 168.8 336.7 169.0 333.1 C169.2 329.4 169.2 325.9 169.7 322.4 C170.1 318.8 170.9 315.3 171.7 311.7 C172.4 308.1 173.7 304.6 174.3 301.0 C175.0 297.5 175.7 294.4 175.7 290.4 C175.7 286.4 175.1 280.4 174.3 277.0 C173.6 273.7 172.2 272.0 171.0 270.4 C169.8 268.7 168.8 268.4 167.0 267.0 C165.2 265.7 162.5 264.5 160.1 262.3 C157.6 260.2 154.3 257.2 152.0 254.3 C149.8 251.5 148.3 247.9 146.7 245.0 C145.2 242.1 143.3 238.7 142.7 237.0 C142.2 235.3 143.8 236.7 143.4 235.1 C142.9 233.4 141.0 229.7 140.0 227.0 C139.0 224.4 137.8 221.5 137.4 219.0 C136.9 216.6 137.2 214.8 137.4 212.4 C137.6 209.9 138.0 206.8 138.7 204.4 C139.4 201.9 140.3 199.7 141.4 197.7 C142.5 195.7 144.0 194.4 145.4 192.4 C146.7 190.4 148.3 187.9 149.4 185.7 C150.5 183.5 151.2 181.0 152.0 179.0 C152.9 177.0 153.6 175.1 154.7 173.7 C155.8 172.2 157.3 170.8 158.7 170.4 Z" fill="#FFE878"/>
<path d="M60.0 181.0 C60.7 181.1 62.4 181.9 64.0 181.7 C65.6 181.5 67.8 180.0 69.3 179.7 C70.9 179.4 71.6 179.1 73.3 179.7 C75.1 180.2 77.8 182.0 80.0 183.0 C82.2 184.0 83.3 184.7 86.7 185.7 C90.0 186.7 95.6 188.4 100.0 189.0 C104.5 189.7 109.6 189.6 113.4 189.7 C117.1 189.8 119.8 189.4 122.7 189.7 C125.6 190.0 128.6 191.6 130.7 191.7 C132.8 191.8 133.9 191.3 135.4 190.4 C136.8 189.5 138.3 188.0 139.4 186.4 C140.5 184.7 141.4 182.5 142.0 180.4 C142.7 178.2 142.8 175.6 143.4 173.7 C143.9 171.8 144.4 170.4 145.4 169.0 C146.4 167.7 147.8 166.6 149.4 165.7 C150.9 164.8 153.2 164.5 154.7 163.7 C156.3 162.9 157.8 162.1 158.7 161.0 C159.6 159.9 158.9 158.2 160.1 157.0 C161.2 155.8 163.6 154.6 165.4 153.9 C167.2 153.3 169.1 153.0 170.7 152.9 C172.3 152.8 173.4 153.1 175.0 153.4 C176.6 153.8 178.3 154.1 180.3 155.0 C182.3 155.9 184.8 158.0 187.0 159.0 C189.2 160.0 191.5 160.3 193.7 161.0 C195.9 161.7 198.1 162.1 200.4 163.0 C202.6 163.9 205.0 165.1 207.0 166.4 C209.0 167.6 210.6 168.9 212.4 170.4 C214.1 171.8 216.1 173.8 217.7 175.0 C219.3 176.2 219.9 177.0 221.7 177.7 C223.5 178.4 226.4 178.5 228.4 179.0 C230.4 179.6 232.1 179.9 233.7 181.0 C235.3 182.1 236.7 183.8 237.7 185.7 C238.7 187.6 239.1 189.9 239.7 192.4 C240.3 194.8 240.9 198.0 241.0 200.4 C241.2 202.7 241.2 205.5 240.4 206.4 C239.6 207.3 237.9 206.4 236.4 205.7 C234.8 205.0 232.8 203.5 231.0 202.4 C229.3 201.3 227.5 200.1 225.7 199.0 C223.9 197.9 222.1 196.9 220.4 195.7 C218.6 194.5 216.8 192.9 215.0 191.7 C213.2 190.5 211.5 189.0 209.7 188.4 C207.9 187.7 206.1 187.5 204.4 187.7 C202.6 187.9 200.6 189.0 199.0 189.7 C197.5 190.4 196.2 191.7 195.0 191.7 C193.8 191.7 192.7 190.9 191.7 189.7 C190.7 188.5 189.9 186.4 189.0 184.4 C188.1 182.4 187.0 179.6 186.3 177.7 C185.7 175.8 185.7 174.4 185.0 173.0 C184.3 171.6 183.6 170.1 182.3 169.4 C181.1 168.8 179.2 168.5 177.7 169.0 C176.1 169.5 174.3 170.9 173.0 172.4 C171.7 173.8 170.7 176.1 169.7 177.7 C168.7 179.2 168.6 179.5 167.0 181.7 C165.4 183.9 162.1 188.3 160.1 191.0 C158.0 193.8 156.2 195.9 154.7 198.4 C153.3 200.8 152.0 203.1 151.4 205.7 C150.7 208.3 150.4 211.0 150.7 213.7 C151.0 216.4 152.3 218.8 153.4 221.7 C154.5 224.6 156.1 228.5 157.4 231.1 C158.7 233.6 159.8 235.6 161.4 237.1 C163.0 238.5 165.2 238.3 167.0 239.7 C168.8 241.0 170.3 243.0 172.3 245.0 C174.3 247.0 176.8 249.5 179.0 251.7 C181.2 253.9 183.5 256.2 185.7 258.3 C187.9 260.5 190.5 262.5 192.3 264.3 C194.2 266.2 195.9 267.8 197.0 269.7 C198.1 271.6 198.7 273.4 199.0 275.7 C199.4 278.0 199.1 281.0 199.0 283.7 C198.9 286.4 198.6 289.0 198.4 291.7 C198.1 294.4 197.9 297.3 197.7 299.7 C197.5 302.1 197.1 304.5 197.0 306.4 C196.9 308.3 196.7 310.2 197.0 311.0 C197.3 311.9 198.0 312.2 199.0 311.7 C200.0 311.3 201.5 309.5 203.0 308.4 C204.6 307.3 206.6 305.9 208.4 305.0 C210.1 304.1 211.7 303.6 213.7 303.0 C215.7 302.5 218.4 302.5 220.4 301.7 C222.4 300.9 224.1 299.6 225.7 298.4 C227.3 297.1 228.4 295.7 229.7 294.4 C231.0 293.0 232.4 291.7 233.7 290.4 C235.0 289.0 236.4 287.7 237.7 286.4 C239.0 285.0 240.6 283.7 241.7 282.4 C242.8 281.0 244.2 279.5 244.4 278.4 C244.6 277.2 243.9 276.6 243.0 275.7 C242.2 274.8 240.4 273.9 239.0 273.0 C237.7 272.1 236.1 271.6 235.0 270.4 C233.9 269.1 233.3 267.3 232.4 265.7 C231.5 264.0 230.6 262.0 229.7 260.3 C228.8 258.7 227.8 257.3 227.0 255.7 C226.3 254.0 225.5 252.1 225.0 250.3 C224.6 248.6 224.1 246.7 224.4 245.0 C224.6 243.3 225.5 241.3 226.4 240.3 C227.3 239.3 228.6 238.8 229.7 239.0 C230.8 239.2 232.1 240.4 233.0 241.7 C233.9 242.9 234.0 245.0 235.0 246.3 C236.0 247.7 237.0 249.2 239.0 249.7 C241.0 250.1 245.0 249.8 247.0 249.0 C249.0 248.2 249.9 246.6 251.0 245.0 C252.2 243.4 252.9 241.3 253.7 239.7 C254.5 238.0 254.8 236.9 255.7 235.1 C256.6 233.2 257.8 229.9 259.0 228.4 C260.3 226.8 261.5 226.4 263.1 225.7 C264.6 225.0 266.8 225.3 268.4 224.4 C269.9 223.5 271.3 221.9 272.4 220.4 C273.5 218.8 273.7 216.3 275.1 215.0 C276.4 213.8 278.6 212.8 280.7 213.0 C282.7 213.3 285.1 215.2 287.3 216.4 C289.6 217.6 292.2 219.0 294.0 220.4 C295.8 221.7 297.2 222.8 298.0 224.4 C298.9 225.9 299.2 227.7 299.1 229.7 C299.0 231.7 298.1 234.8 297.3 236.4 C296.6 237.9 295.8 237.8 294.7 239.0 C293.6 240.2 291.8 241.8 290.7 243.7 C289.6 245.6 288.7 247.5 288.0 250.3 C287.3 253.2 287.1 257.5 286.7 261.0 C286.2 264.6 285.8 268.4 285.3 271.7 C284.9 275.0 284.5 278.1 284.0 281.0 C283.6 283.9 282.7 286.9 282.7 289.0 C282.7 291.1 283.0 292.8 284.0 293.7 C285.0 294.6 286.8 294.6 288.7 294.4 C290.6 294.1 293.2 293.3 295.3 292.4 C297.5 291.5 299.3 290.0 301.3 289.0 C303.3 288.0 305.6 287.4 307.4 286.4 C309.1 285.4 310.9 284.2 312.0 283.0 C313.1 281.8 312.9 280.7 314.0 279.0 C315.1 277.4 317.5 275.1 318.7 273.0 C319.9 270.9 320.8 268.6 321.4 266.3 C321.9 264.1 321.6 261.9 322.0 259.7 C322.5 257.5 322.9 254.9 324.0 253.0 C325.1 251.1 326.8 249.6 328.7 248.3 C330.6 247.1 332.9 246.8 335.4 245.7 C337.8 244.6 341.1 242.8 343.4 241.7 C345.6 240.6 346.7 240.2 348.7 239.1 C350.7 238.0 353.2 236.4 355.4 235.1 C357.6 233.7 359.8 232.4 362.0 231.1 C364.3 229.7 366.3 228.2 368.7 227.0 C371.2 225.9 373.6 225.4 376.7 224.4 C379.8 223.3 385.6 221.3 387.4 220.6" fill="none" stroke="#111" stroke-width="0.75"/>
<path d="M60.0 350.3 C61.5 350.2 61.8 350.0 64.0 349.7 C66.2 349.4 70.8 349.0 73.3 348.6 C75.9 348.2 77.9 348.0 79.3 347.0 C80.8 346.0 81.2 343.8 82.0 342.3 C82.8 340.9 82.6 339.9 84.0 338.3 C85.5 336.8 88.2 334.5 90.7 333.1 C93.1 331.6 95.8 330.4 98.7 329.7 C101.6 329.0 104.7 329.4 108.0 329.0 C111.4 328.7 115.8 328.4 118.7 327.7 C121.6 327.0 123.1 326.3 125.4 325.0 C127.6 323.8 129.8 322.0 132.0 320.4 C134.3 318.7 136.9 316.8 138.7 315.0 C140.5 313.3 141.6 311.6 142.7 309.7 C143.8 307.8 144.4 305.5 145.4 303.7 C146.4 301.9 147.6 300.1 148.7 299.0 C149.8 298.0 150.9 297.2 152.0 297.3 C153.2 297.4 154.5 298.2 155.4 299.7 C156.3 301.2 156.8 303.9 157.4 306.4 C157.9 308.8 158.1 311.7 158.7 314.4 C159.4 317.0 160.3 319.7 161.4 322.4 C162.5 325.0 164.4 327.9 165.4 330.4 C166.4 332.8 166.6 335.4 167.4 337.1 C168.1 338.7 169.3 338.7 169.9 340.3 C170.5 342.0 170.5 344.6 171.0 347.0 C171.5 349.5 172.1 352.8 173.0 355.0 C173.9 357.2 175.1 359.0 176.3 360.3 C177.6 361.7 179.3 361.9 180.3 363.0 C181.3 364.1 182.3 365.5 182.3 367.0 C182.3 368.6 181.0 370.6 180.3 372.4 C179.7 374.1 178.6 376.0 178.3 377.7 C178.1 379.4 178.2 381.1 179.0 382.4 C179.8 383.6 181.5 384.5 183.0 385.0 C184.6 385.6 186.6 385.6 188.3 385.7 C190.1 385.7 191.9 385.6 193.7 385.3 C195.5 385.0 197.2 384.5 199.0 383.7 C200.8 382.9 202.6 381.7 204.4 380.4 C206.1 379.0 208.2 377.4 209.7 375.7 C211.1 374.0 212.3 372.4 213.0 370.4 C213.7 368.3 214.1 365.8 214.0 363.7 C213.8 361.6 213.2 359.3 212.4 357.7 C211.5 356.0 210.2 354.9 209.0 353.7 C207.8 352.5 206.0 351.6 205.0 350.3 C204.0 349.1 203.1 347.7 203.0 346.3 C202.9 345.0 203.8 343.4 204.4 342.3 C204.9 341.2 205.0 340.7 206.4 339.7 C207.7 338.7 210.5 337.5 212.4 336.4 C214.2 335.3 216.4 334.3 217.7 333.1 C219.0 331.8 219.3 330.2 220.4 329.0 C221.5 327.9 222.9 326.9 224.4 326.4 C225.8 325.8 227.8 325.3 229.0 325.7 C230.3 326.2 231.4 327.6 231.7 329.0 C232.0 330.5 231.4 332.8 231.0 334.4 C230.7 335.9 229.3 337.2 229.7 338.4 C230.1 339.6 232.1 341.1 233.7 341.7 C235.3 342.4 237.0 341.6 239.0 342.3 C241.0 343.1 243.5 345.3 245.7 346.3 C247.9 347.3 249.9 348.1 252.4 348.3 C254.8 348.6 258.2 348.0 260.4 347.7 C262.6 347.3 263.7 346.6 265.7 346.3 C267.7 346.1 271.0 346.2 272.4 346.3 C273.8 346.4 272.4 346.7 274.0 347.0 C275.6 347.3 278.7 347.9 282.0 348.3 C285.3 348.8 289.8 349.3 294.0 349.7 C298.2 350.1 302.9 350.3 307.4 350.7 C311.8 351.2 316.2 351.7 320.7 352.3 C325.1 352.9 329.6 353.8 334.0 354.3 C338.5 354.9 342.9 355.2 347.4 355.7 C351.8 356.1 356.9 356.7 360.7 357.0 C364.5 357.3 367.2 357.7 370.1 357.7 C372.9 357.7 375.2 357.8 378.1 357.0 C380.9 356.2 385.1 353.7 387.4 353.0 C389.7 352.3 391.2 336.8 392.0 353.0 C392.8 369.2 448.2 433.8 392.0 450.0 C335.8 466.2 111.2 466.6 55.0 450.0 C-1.2 433.4 54.2 366.9 55.0 350.3 C55.8 333.7 58.5 350.5 60.0 350.3 Z" fill="#78B9FF" stroke="#111" stroke-width="0.75"/>
<path d="M60.0 360.3 C62.6 360.7 67.3 361.7 70.7 362.3 C74.0 363.0 76.9 364.0 80.0 364.3 C83.1 364.7 86.7 364.9 89.3 364.3 C92.0 363.8 94.2 362.6 96.0 361.0 C97.8 359.5 98.2 356.7 100.0 355.0 C101.8 353.3 104.0 351.9 106.7 351.0 C109.4 350.1 112.7 349.9 116.0 349.4 C119.4 349.0 123.1 348.7 126.7 348.3 C130.3 348.0 134.0 347.4 137.4 347.3 C140.7 347.2 144.0 347.3 146.7 347.7 C149.4 348.1 151.4 348.8 153.4 349.7 C155.4 350.6 157.3 351.5 158.7 353.0 C160.2 354.6 161.2 356.9 162.1 359.0 C162.9 361.1 163.5 363.5 164.1 365.7 C164.6 367.9 164.8 371.0 165.4 372.4 C166.0 373.7 166.7 371.9 167.7 373.7 C168.6 375.5 169.8 380.1 171.0 383.0 C172.2 385.9 173.4 388.8 175.0 391.0 C176.6 393.3 178.3 395.0 180.3 396.4 C182.3 397.7 184.8 398.7 187.0 399.0 C189.2 399.4 191.5 399.1 193.7 398.4 C195.9 397.6 198.1 396.0 200.4 394.4 C202.6 392.7 204.8 390.5 207.0 388.4 C209.2 386.2 211.5 383.9 213.7 381.7 C215.9 379.5 218.6 377.2 220.4 375.0 C222.1 372.8 223.5 370.6 224.4 368.3 C225.3 366.1 225.1 363.5 225.7 361.7 C226.3 359.9 226.8 358.6 227.7 357.7 C228.6 356.8 229.8 356.1 231.0 356.3 C232.3 356.6 233.7 357.9 235.0 359.0 C236.4 360.1 237.3 362.0 239.0 363.0 C240.8 364.0 243.3 364.9 245.7 365.0 C248.2 365.1 250.8 364.3 253.7 363.7 C256.6 363.0 259.9 361.7 263.1 361.0 C266.2 360.3 270.6 360.0 272.4 359.7 C274.2 359.3 271.5 359.0 274.0 359.0 C276.5 359.0 282.9 359.7 287.3 359.7 C291.8 359.7 296.2 359.2 300.7 359.0 C305.1 358.8 309.6 358.3 314.0 358.3 C318.5 358.3 322.9 358.6 327.4 359.0 C331.8 359.5 336.3 360.3 340.7 361.0 C345.1 361.7 349.6 362.3 354.0 363.0 C358.5 363.7 363.4 364.5 367.4 365.0 C371.4 365.6 374.7 365.9 378.1 366.3 C381.4 366.7 385.1 367.2 387.4 367.4 C389.7 367.6 391.2 353.7 392.0 367.4 C392.8 381.2 448.2 436.2 392.0 450.0 C335.8 463.8 111.2 464.9 55.0 450.0 C-1.2 435.1 54.2 375.3 55.0 360.3 C55.8 345.4 57.4 360.0 60.0 360.3 Z" fill="#3C96F5"/>
<path d="M60.0 372.4 C63.1 372.9 68.9 374.6 73.3 375.7 C77.8 376.8 82.2 377.9 86.7 379.0 C91.1 380.1 96.0 381.7 100.0 382.4 C104.0 383.0 107.8 383.1 110.7 383.0 C113.6 382.9 115.7 382.8 117.4 381.7 C119.0 380.6 119.4 378.0 120.7 376.4 C122.0 374.7 123.5 372.6 125.4 371.7 C127.3 370.8 129.6 370.8 132.0 371.0 C134.5 371.2 137.4 372.5 140.0 373.0 C142.7 373.6 145.6 373.9 148.0 374.4 C150.5 374.8 152.9 374.9 154.7 375.7 C156.5 376.5 157.4 377.4 158.7 379.0 C160.1 380.7 161.5 383.6 162.7 385.7 C163.9 387.8 165.2 390.5 166.1 391.7 C166.9 392.9 166.8 392.0 167.7 393.0 C168.5 394.0 169.6 396.0 171.0 397.7 C172.4 399.4 174.3 401.5 176.3 403.0 C178.3 404.6 180.6 406.3 183.0 407.0 C185.5 407.8 188.3 407.9 191.0 407.7 C193.7 407.5 196.6 406.9 199.0 405.7 C201.5 404.5 203.7 402.1 205.7 400.4 C207.7 398.6 209.2 396.8 211.0 395.0 C212.8 393.3 214.6 391.3 216.4 389.7 C218.1 388.1 219.7 386.5 221.7 385.7 C223.7 384.9 225.9 384.8 228.4 385.0 C230.8 385.2 233.5 386.4 236.4 387.0 C239.3 387.7 242.4 388.5 245.7 389.0 C249.0 389.6 252.6 390.1 256.4 390.4 C260.2 390.6 265.5 390.5 268.4 390.4 C271.3 390.2 271.7 389.9 274.0 389.7 C276.3 389.5 279.1 389.4 282.0 389.0 C284.9 388.7 288.5 388.5 291.3 387.7 C294.2 386.9 297.2 385.8 299.3 384.4 C301.5 382.9 302.8 380.8 304.0 379.0 C305.2 377.2 305.2 375.1 306.7 373.7 C308.1 372.2 310.4 371.2 312.7 370.4 C315.0 369.5 317.1 368.8 320.7 368.3 C324.2 367.9 329.6 367.6 334.0 367.7 C338.5 367.8 342.9 368.6 347.4 369.0 C351.8 369.5 356.3 370.0 360.7 370.4 C365.2 370.7 369.6 370.8 374.1 371.0 C378.5 371.3 384.4 371.7 387.4 371.8 C390.4 372.0 391.2 358.8 392.0 371.8 C392.8 384.8 448.2 437.0 392.0 450.0 C335.8 463.0 111.2 462.9 55.0 450.0 C-1.2 437.1 54.2 385.3 55.0 372.4 C55.8 359.4 56.9 371.8 60.0 372.4 Z" fill="#1E6EEB"/>
<path d="M60.0 410.4 C63.1 410.6 68.9 411.3 73.3 411.7 C77.8 412.2 82.2 412.7 86.7 413.0 C91.1 413.4 95.6 413.6 100.0 413.7 C104.5 413.8 108.9 413.8 113.4 413.7 C117.8 413.6 122.3 413.4 126.7 413.0 C131.1 412.7 136.0 412.0 140.0 411.7 C144.0 411.4 148.0 411.4 150.7 411.0 C153.4 410.7 154.5 410.6 156.1 409.7 C157.6 408.8 158.7 407.5 160.1 405.7 C161.4 403.9 162.5 399.7 164.1 399.0 C165.7 398.4 168.1 400.1 169.7 401.7 C171.3 403.3 172.1 406.4 173.7 408.4 C175.2 410.4 177.0 412.2 179.0 413.7 C181.0 415.3 183.2 416.9 185.7 417.7 C188.1 418.5 190.8 418.6 193.7 418.4 C196.6 418.2 199.9 417.3 203.0 416.4 C206.1 415.5 209.5 414.4 212.4 413.0 C215.2 411.7 217.9 409.9 220.4 408.4 C222.8 406.8 224.8 405.0 227.0 403.7 C229.3 402.4 231.3 401.3 233.7 400.4 C236.1 399.5 238.6 398.7 241.7 398.4 C244.8 398.0 248.8 398.3 252.4 398.4 C255.9 398.5 259.7 398.9 263.1 399.0 C266.4 399.1 270.6 399.3 272.4 399.0 C274.2 398.8 272.0 397.9 274.0 397.7 C276.0 397.5 281.1 397.9 284.7 397.7 C288.2 397.5 292.0 397.0 295.3 396.4 C298.7 395.7 301.6 394.7 304.7 393.7 C307.8 392.7 311.1 391.7 314.0 390.4 C316.9 389.0 319.4 387.0 322.0 385.7 C324.7 384.4 326.9 383.4 330.0 382.4 C333.1 381.4 336.7 380.4 340.7 379.7 C344.7 379.0 349.6 378.8 354.0 378.4 C358.5 377.9 361.8 377.5 367.4 377.0 C372.9 376.5 383.3 375.7 387.4 375.4 C391.5 375.2 391.2 363.0 392.0 375.4 C392.8 387.8 448.2 437.6 392.0 450.0 C335.8 462.4 111.2 456.6 55.0 450.0 C-1.2 443.4 54.2 417.0 55.0 410.4 C55.8 403.8 56.9 410.1 60.0 410.4 Z" fill="#1464D2"/>
<path d="M185.7 437.1 C187.0 433.9 191.0 432.6 193.7 431.0 C196.3 429.5 198.8 428.7 201.7 427.7 C204.6 426.7 207.9 425.8 211.0 425.0 C214.1 424.3 217.0 423.7 220.4 423.0 C223.7 422.4 227.5 421.8 231.0 421.0 C234.6 420.3 238.1 419.3 241.7 418.4 C245.3 417.5 248.8 416.6 252.4 415.7 C255.9 414.8 259.7 413.8 263.1 413.0 C266.4 412.3 270.6 411.4 272.4 411.0 C274.2 410.7 272.0 411.1 274.0 411.0 C276.0 410.9 281.1 410.6 284.7 410.4 C288.2 410.1 292.0 410.1 295.3 409.7 C298.7 409.3 301.8 408.6 304.7 407.7 C307.6 406.8 310.0 405.5 312.7 404.4 C315.4 403.3 317.8 402.0 320.7 401.0 C323.6 400.0 326.7 399.3 330.0 398.4 C333.4 397.5 337.1 396.6 340.7 395.7 C344.3 394.8 347.8 393.8 351.4 393.0 C354.9 392.3 358.5 391.7 362.0 391.0 C365.6 390.4 368.5 389.6 372.7 389.0 C376.9 388.4 384.2 387.6 387.4 387.3 C390.6 387.0 391.2 376.8 392.0 387.3 C392.8 397.7 426.4 439.5 392.0 450.0 C357.6 460.5 220.1 452.2 185.7 450.0 C151.3 447.8 184.3 440.2 185.7 437.1 Z" fill="#1450C8"/>
<path d="M305.4 437.1 C306.8 434.1 311.5 433.6 314.0 432.4 C316.6 431.2 318.7 430.8 320.7 429.7 C322.7 428.6 324.5 427.2 326.0 425.7 C327.6 424.3 328.7 422.4 330.0 421.0 C331.4 419.7 332.5 418.6 334.0 417.7 C335.6 416.8 336.9 416.1 339.4 415.7 C341.8 415.3 345.4 415.5 348.7 415.3 C352.0 415.2 356.3 415.2 359.4 414.8 C362.5 414.4 364.7 413.6 367.4 413.0 C370.1 412.5 372.1 412.3 375.4 411.7 C378.7 411.1 384.6 410.0 387.4 409.7 C390.2 409.4 391.2 403.0 392.0 409.7 C392.8 416.4 406.4 443.3 392.0 450.0 C377.6 456.7 319.8 452.2 305.4 450.0 C290.9 447.8 303.9 440.0 305.4 437.1 Z" fill="#4C3CC8" stroke="#111" stroke-width="0.75"/>
<use href="#map"/>
<rect x="157.4" y="148.3" width="12.2" height="9.2" fill="#fff"/>
<text x="163.5" y="156.7" class="cl" text-anchor="middle">24</text>
<rect x="177.3" y="161.6" width="12.2" height="9.2" fill="#fff"/>
<text x="183.4" y="170.0" class="cl" text-anchor="middle">24</text>
<rect x="234.4" y="247.6" width="12.2" height="9.2" fill="#fff"/>
<text x="240.5" y="256.0" class="cl" text-anchor="middle">24</text>
<rect x="301.0" y="282.9" width="12.2" height="9.2" fill="#fff"/>
<text x="307.1" y="291.3" class="cl" text-anchor="middle">24</text>
<rect x="67.1" y="346.6" width="12.2" height="9.2" fill="#fff"/>
<text x="73.2" y="355.0" class="cl" text-anchor="middle">15</text>
<rect x="187.0" y="383.3" width="12.2" height="9.2" fill="#fff"/>
<text x="193.1" y="391.7" class="cl" text-anchor="middle">15</text>
<rect x="264.4" y="342.6" width="12.2" height="9.2" fill="#fff"/>
<text x="270.5" y="351.0" class="cl" text-anchor="middle">15</text>
</g>
<rect x="63.1" y="139.2" width="320.8" height="296.9" fill="none" stroke="#000" stroke-width="1.8"/>
<text x="58.3" y="142.6" class="ax" text-anchor="end" xml:space="preserve">15N</text>
<text x="58.3" y="162.4" class="ax" text-anchor="end" xml:space="preserve">10N</text>
<text x="58.3" y="182.2" class="ax" text-anchor="end" xml:space="preserve">5N</text>
<text x="58.3" y="202.0" class="ax" text-anchor="end" xml:space="preserve">EQ</text>
<text x="58.3" y="221.8" class="ax" text-anchor="end" xml:space="preserve">5S</text>
<text x="58.3" y="241.6" class="ax" text-anchor="end" xml:space="preserve">10S</text>
<text x="58.3" y="261.4" class="ax" text-anchor="end" xml:space="preserve">15S</text>
<text x="58.3" y="281.2" class="ax" text-anchor="end" xml:space="preserve">20S</text>
<text x="58.3" y="300.9" class="ax" text-anchor="end" xml:space="preserve">25S</text>
<text x="58.3" y="320.7" class="ax" text-anchor="end" xml:space="preserve">30S</text>
<text x="58.3" y="340.5" class="ax" text-anchor="end" xml:space="preserve">35S</text>
<text x="58.3" y="360.3" class="ax" text-anchor="end" xml:space="preserve">40S</text>
<text x="58.3" y="380.1" class="ax" text-anchor="end" xml:space="preserve">45S</text>
<text x="58.3" y="399.9" class="ax" text-anchor="end" xml:space="preserve">50S</text>
<text x="58.3" y="419.7" class="ax" text-anchor="end" xml:space="preserve">55S</text>
<text x="58.3" y="439.5" class="ax" text-anchor="end" xml:space="preserve">60S</text>
<text x="68.5" y="447.5" class="ax" text-anchor="middle" textLength="21.0" lengthAdjust="spacingAndGlyphs">100W</text>
<text x="104.0" y="447.5" class="ax" text-anchor="middle" textLength="17.0" lengthAdjust="spacingAndGlyphs">90W</text>
<text x="139.6" y="447.5" class="ax" text-anchor="middle" textLength="17.0" lengthAdjust="spacingAndGlyphs">80W</text>
<text x="175.2" y="447.5" class="ax" text-anchor="middle" textLength="17.0" lengthAdjust="spacingAndGlyphs">70W</text>
<text x="210.7" y="447.5" class="ax" text-anchor="middle" textLength="17.0" lengthAdjust="spacingAndGlyphs">60W</text>
<text x="246.2" y="447.5" class="ax" text-anchor="middle" textLength="17.0" lengthAdjust="spacingAndGlyphs">50W</text>
<text x="281.8" y="447.5" class="ax" text-anchor="middle" textLength="17.0" lengthAdjust="spacingAndGlyphs">40W</text>
<text x="317.4" y="447.5" class="ax" text-anchor="middle" textLength="17.0" lengthAdjust="spacingAndGlyphs">30W</text>
<text x="352.9" y="447.5" class="ax" text-anchor="middle" textLength="17.0" lengthAdjust="spacingAndGlyphs">20W</text>
<path d="M60.0 139.2H63.1M60.0 159.0H63.1M60.0 178.8H63.1M60.0 198.6H63.1M60.0 218.4H63.1M60.0 238.2H63.1M60.0 258.0H63.1M60.0 277.8H63.1M60.0 297.5H63.1M60.0 317.3H63.1M60.0 337.1H63.1M60.0 356.9H63.1M60.0 376.7H63.1M60.0 396.5H63.1M60.0 416.3H63.1M60.0 436.1H63.1M67.9 436.1V438.9M103.5 436.1V438.9M139.0 436.1V438.9M174.6 436.1V438.9M210.1 436.1V438.9M245.7 436.1V438.9M281.2 436.1V438.9M316.8 436.1V438.9M352.3 436.1V438.9" stroke="#000" stroke-width="1.3" fill="none"/>
</g>
<g stroke="#000" stroke-width="1.3" stroke-linejoin="miter">
<path d="M427.0 150.3L433.1 134.6L439.2 150.3Z" fill="#B4282D"/>
<rect x="427.0" y="150.30" width="12.2" height="15.29" fill="#C80000"/>
<rect x="427.0" y="165.59" width="12.2" height="15.29" fill="#C83C3C"/>
<rect x="427.0" y="180.89" width="12.2" height="15.29" fill="#E61400"/>
<rect x="427.0" y="196.18" width="12.2" height="15.29" fill="#FF3200"/>
<rect x="427.0" y="211.48" width="12.2" height="15.29" fill="#FF6400"/>
<rect x="427.0" y="226.77" width="12.2" height="15.29" fill="#FFA000"/>
<rect x="427.0" y="242.06" width="12.2" height="15.29" fill="#FFC03C"/>
<rect x="427.0" y="257.36" width="12.2" height="15.29" fill="#FFE878"/>
<rect x="427.0" y="272.65" width="12.2" height="15.29" fill="#78B9FF"/>
<rect x="427.0" y="287.95" width="12.2" height="15.29" fill="#3C96F5"/>
<rect x="427.0" y="303.24" width="12.2" height="15.29" fill="#1E6EEB"/>
<rect x="427.0" y="318.53" width="12.2" height="15.29" fill="#1464D2"/>
<rect x="427.0" y="333.83" width="12.2" height="15.29" fill="#1450C8"/>
<rect x="427.0" y="349.12" width="12.2" height="15.29" fill="#4C3CC8"/>
<rect x="427.0" y="364.42" width="12.2" height="15.29" fill="#705CDC"/>
<rect x="427.0" y="379.71" width="12.2" height="15.29" fill="#8672EE"/>
<rect x="427.0" y="395.00" width="12.2" height="15.29" fill="#A08CFF"/>
<rect x="427.0" y="410.30" width="12.2" height="15.29" fill="#B9AAFF"/>
<path d="M427.0 425.6L433.1 441.0L439.2 425.6Z" fill="#DCD7FF"/>
</g>
<text x="442.9" y="154.4" class="cb">39</text>
<text x="442.9" y="169.7" class="cb">36</text>
<text x="442.9" y="185.0" class="cb">33</text>
<text x="442.9" y="200.3" class="cb">30</text>
<text x="442.9" y="215.6" class="cb">27</text>
<text x="442.9" y="230.9" class="cb">24</text>
<text x="442.9" y="246.2" class="cb">21</text>
<text x="442.9" y="261.5" class="cb">18</text>
<text x="442.9" y="276.8" class="cb">15</text>
<text x="442.9" y="292.0" class="cb">12</text>
<text x="442.9" y="307.3" class="cb">9</text>
<text x="442.9" y="322.6" class="cb">6</text>
<text x="442.9" y="337.9" class="cb">3</text>
<text x="442.9" y="353.2" class="cb">0</text>
<path d="M443.2 364.7H450.8" stroke="#000" stroke-width="1.4"/>
<text x="452.6" y="368.5" class="cb">3</text>
<path d="M443.2 380.0H450.8" stroke="#000" stroke-width="1.4"/>
<text x="452.6" y="383.8" class="cb">6</text>
<path d="M443.2 395.3H450.8" stroke="#000" stroke-width="1.4"/>
<text x="452.6" y="399.1" class="cb">9</text>
<path d="M443.2 410.6H450.8" stroke="#000" stroke-width="1.4"/>
<text x="452.6" y="414.4" class="cb">12</text>
<path d="M443.2 425.9H450.8" stroke="#000" stroke-width="1.4"/>
<text x="452.6" y="429.7" class="cb">15</text>
</svg></body></html>
